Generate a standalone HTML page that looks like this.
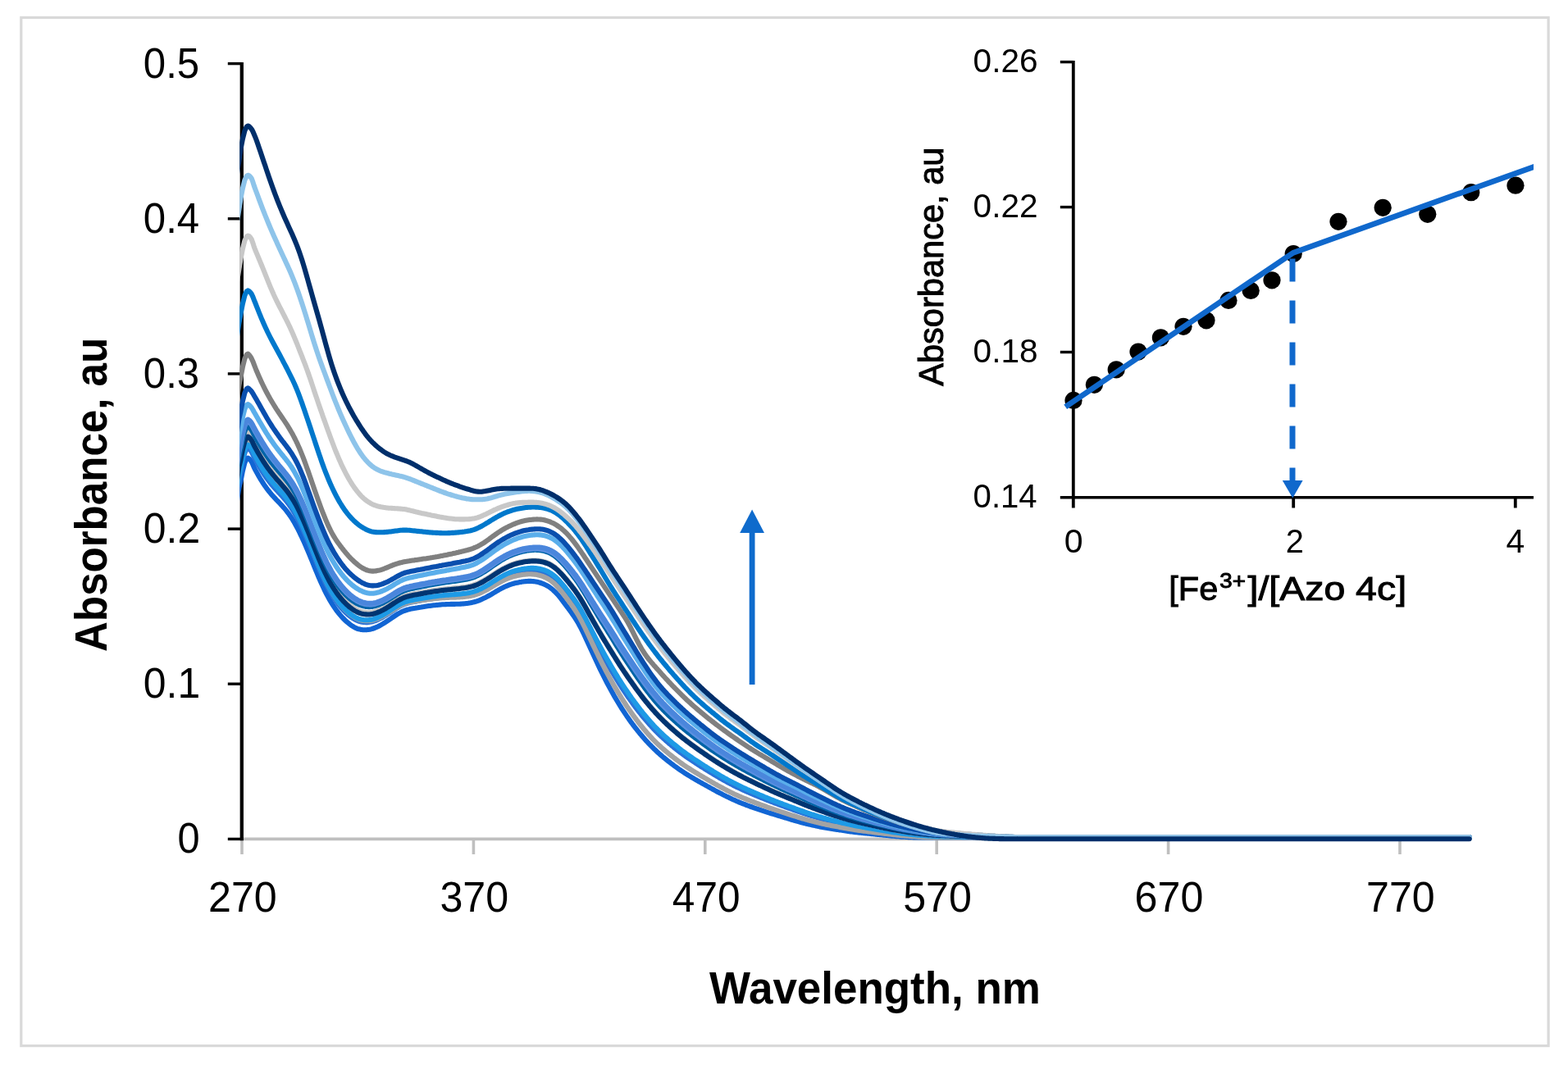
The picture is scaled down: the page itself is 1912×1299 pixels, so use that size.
<!DOCTYPE html>
<html lang="en">
<head>
<meta charset="utf-8">
<title>UV-Vis titration of Azo 4c with Fe3+</title>
<style>
html,body{margin:0;padding:0;background:#ffffff;}
body{width:1912px;height:1299px;overflow:hidden;}
svg{display:block;filter:blur(0.7px);}
</style>
</head>
<body>
<svg width="1912" height="1299" viewBox="0 0 1912 1299" role="img" aria-label="UV-Vis absorbance spectra with titration inset">
<rect x="0" y="0" width="1912" height="1299" fill="#ffffff"/>
<rect x="25.8" y="21.4" width="1862.3" height="1254.2" fill="none" stroke="#d9d9d9" stroke-width="3.2"/>
<g stroke="#bfbfbf" stroke-width="3.6" fill="none">
<line x1="294.8" y1="1023.4" x2="1791.7" y2="1023.4"/>
<line x1="295.0" y1="1023.4" x2="295.0" y2="1042"/>
<line x1="577.4" y1="1023.4" x2="577.4" y2="1042"/>
<line x1="859.8" y1="1023.4" x2="859.8" y2="1042"/>
<line x1="1142.2" y1="1023.4" x2="1142.2" y2="1042"/>
<line x1="1424.6" y1="1023.4" x2="1424.6" y2="1042"/>
<line x1="1707.0" y1="1023.4" x2="1707.0" y2="1042"/>
</g>
<g stroke="#000000" stroke-width="4.3" fill="none">
<line x1="294.8" y1="75.9" x2="294.8" y2="1025.2"/>
<line x1="277.8" y1="77.6" x2="294.8" y2="77.6" stroke-width="3.4"/>
<line x1="277.8" y1="266.8" x2="294.8" y2="266.8" stroke-width="3.4"/>
<line x1="277.8" y1="455.9" x2="294.8" y2="455.9" stroke-width="3.4"/>
<line x1="277.8" y1="645.1" x2="294.8" y2="645.1" stroke-width="3.4"/>
<line x1="277.8" y1="834.2" x2="294.8" y2="834.2" stroke-width="3.4"/>
<line x1="277.8" y1="1023.4" x2="294.8" y2="1023.4" stroke-width="3.4"/>
</g>
<clipPath id="plotclip"><rect x="292.2" y="60" width="1520" height="980"/></clipPath>
<g fill="none" stroke-width="6.1" stroke-linejoin="round" stroke-linecap="round" clip-path="url(#plotclip)">
<path d="M287.5 620.5 L291.5 594.5 L293.6 586.5 L295.9 574.5 L298.4 564.5 L300.6 559.7 L302.3 558.5 303.8 559.5 305.3 561.1 306.8 563.3 308.3 566.5 309.8 570.1 311.3 573.1 312.8 575.9 314.3 578.6 315.8 581.2 317.3 583.8 318.8 586.2 320.3 588.5 321.8 590.8 323.3 593.0 324.8 595.1 326.3 597.1 327.8 599.0 329.3 600.9 330.8 602.7 332.3 604.4 333.8 606.1 335.3 607.7 336.8 609.3 338.3 610.8 339.8 612.4 341.3 614.0 342.8 615.6 344.3 617.2 345.8 618.9 347.3 620.6 348.8 622.4 350.3 624.3 351.8 626.3 353.3 628.4 354.8 630.6 356.3 633.0 357.8 635.5 359.3 638.0 360.8 640.7 362.3 643.5 363.8 646.5 365.3 649.5 366.8 652.6 368.3 655.7 369.8 659.0 371.3 662.3 372.8 665.7 374.3 669.2 375.8 672.7 377.3 676.3 378.8 680.0 380.3 683.7 381.8 687.4 383.3 691.1 384.8 694.8 386.3 698.4 387.8 702.0 389.3 705.5 390.8 709.0 392.3 712.3 393.8 715.6 395.3 718.8 396.8 721.8 398.3 724.8 399.8 727.6 401.3 730.4 402.8 733.0 404.3 735.5 405.8 737.9 407.3 740.2 408.8 742.4 410.3 744.5 411.8 746.4 413.3 748.3 414.8 750.1 416.3 751.9 417.8 753.5 419.3 755.0 420.8 756.5 422.3 757.9 423.8 759.2 425.3 760.4 426.8 761.6 428.3 762.7 429.8 763.7 431.3 764.6 432.8 765.5 434.3 766.2 435.8 766.8 437.3 767.3 438.8 767.6 440.3 767.9 441.8 768.1 443.3 768.2 444.8 768.2 446.3 768.2 447.8 768.1 449.3 767.9 450.8 767.7 452.3 767.4 453.8 767.0 455.3 766.5 456.8 766.0 458.3 765.3 459.8 764.7 461.3 764.0 462.8 763.2 464.3 762.4 465.8 761.5 467.3 760.6 468.8 759.7 470.3 758.7 471.8 757.7 473.3 756.7 474.8 755.7 476.3 754.7 477.8 753.6 479.3 752.6 480.8 751.6 482.3 750.6 483.8 749.6 485.3 748.7 486.8 747.9 488.3 747.1 489.8 746.3 491.3 745.6 492.8 745.0 494.3 744.5 495.8 744.0 497.3 743.5 498.8 743.2 500.3 742.8 501.8 742.5 503.3 742.2 504.8 741.9 506.3 741.7 507.8 741.4 509.3 741.2 510.8 740.9 512.3 740.7 513.8 740.5 515.3 740.2 516.8 740.0 518.3 739.7 519.8 739.5 521.3 739.3 522.8 739.1 524.3 738.9 525.8 738.7 527.3 738.5 528.8 738.3 530.3 738.2 531.8 738.0 533.3 737.9 534.8 737.7 536.3 737.6 537.8 737.5 539.3 737.3 540.8 737.2 542.3 737.2 543.8 737.1 545.3 737.0 546.8 737.0 548.3 737.0 549.8 736.9 551.3 736.9 552.8 736.9 554.3 736.9 555.8 736.8 557.3 736.8 558.8 736.7 560.3 736.7 561.8 736.6 563.3 736.5 564.8 736.4 566.3 736.2 567.8 736.1 569.3 735.9 570.8 735.7 572.3 735.4 573.8 735.2 575.3 734.9 576.8 734.6 578.3 734.2 579.8 733.8 581.3 733.3 582.8 732.8 584.3 732.3 585.8 731.7 587.3 731.0 588.8 730.3 590.3 729.6 591.8 728.9 593.3 728.1 594.8 727.3 596.3 726.5 597.8 725.7 599.3 724.8 600.8 723.9 602.3 723.0 603.8 722.1 605.3 721.2 606.8 720.3 608.3 719.4 609.8 718.6 611.3 717.8 612.8 717.1 614.3 716.3 615.8 715.6 617.3 714.9 618.8 714.3 620.3 713.7 621.8 713.1 623.3 712.6 624.8 712.1 626.3 711.7 627.8 711.3 629.3 711.0 630.8 710.7 632.3 710.4 633.8 710.1 635.3 709.9 636.8 709.6 638.3 709.4 639.8 709.3 641.3 709.1 642.8 709.0 644.3 708.9 645.8 708.9 647.3 708.9 648.8 709.0 650.3 709.1 651.8 709.3 653.3 709.5 654.8 709.8 656.3 710.1 657.8 710.5 659.3 711.0 660.8 711.5 662.3 712.1 663.8 712.7 665.3 713.4 666.8 714.2 668.3 715.0 669.8 716.0 671.3 717.1 672.8 718.2 674.3 719.5 675.8 720.9 677.3 722.3 678.8 723.9 680.3 725.6 681.8 727.3 683.3 729.2 684.8 731.1 686.3 733.1 687.8 735.1 689.3 737.1 690.8 739.1 692.3 741.1 693.8 743.2 695.3 745.2 696.8 747.3 698.3 749.4 699.8 751.6 701.3 753.8 702.8 756.2 704.3 758.6 705.8 761.2 707.3 764.0 708.8 766.8 710.3 769.8 711.8 772.9 713.3 776.1 714.8 779.4 716.3 782.6 717.8 785.9 719.3 789.2 720.8 792.5 722.3 795.8 723.8 799.1 725.3 802.3 726.8 805.6 728.3 808.8 729.8 812.0 731.3 815.1 732.8 818.2 734.3 821.2 735.8 824.2 737.3 827.2 738.8 830.1 740.3 833.0 741.8 835.8 743.3 838.6 744.8 841.4 746.3 844.1 747.8 846.8 749.3 849.4 750.8 852.0 752.3 854.5 753.8 857.0 755.3 859.5 756.8 861.9 758.3 864.3 759.8 866.6 761.3 868.9 762.8 871.1 764.3 873.4 765.8 875.5 767.3 877.7 768.8 879.8 770.3 881.8 771.8 883.9 773.3 885.9 774.8 887.8 776.3 889.7 777.8 891.6 779.3 893.4 780.8 895.3 782.3 897.0 783.8 898.8 785.3 900.5 786.8 902.2 788.3 903.9 789.8 905.5 791.3 907.1 792.8 908.6 794.3 910.2 795.8 911.7 797.3 913.2 798.8 914.6 800.3 916.0 801.8 917.4 803.3 918.8 804.8 920.1 806.3 921.4 807.8 922.7 809.3 924.0 810.8 925.2 812.3 926.4 813.8 927.6 815.3 928.8 816.8 929.9 818.3 931.1 819.8 932.2 821.3 933.4 822.8 934.5 824.3 935.5 825.8 936.6 827.3 937.7 828.8 938.7 830.3 939.8 831.8 940.8 833.3 941.8 834.8 942.8 836.3 943.7 837.8 944.7 839.3 945.6 840.8 946.5 842.3 947.4 843.8 948.3 845.3 949.2 846.8 950.1 848.3 951.0 849.8 951.8 851.3 952.7 852.8 953.5 854.3 954.4 855.8 955.2 857.3 956.1 858.8 956.9 860.3 957.7 861.8 958.6 863.3 959.4 864.8 960.2 866.3 961.1 867.8 961.9 869.3 962.7 870.8 963.5 872.3 964.4 873.8 965.2 875.3 966.0 876.8 966.8 878.3 967.6 879.8 968.3 881.3 969.1 882.8 969.9 884.3 970.6 885.8 971.4 887.3 972.1 888.8 972.8 890.3 973.6 891.8 974.3 893.3 975.0 894.8 975.6 896.3 976.3 897.8 977.0 899.3 977.6 900.8 978.3 902.3 978.9 903.8 979.5 905.3 980.1 906.8 980.7 908.3 981.2 909.8 981.8 911.3 982.4 912.8 982.9 914.3 983.5 915.8 984.0 917.3 984.5 918.8 985.1 920.3 985.6 921.8 986.1 923.3 986.6 924.8 987.1 926.3 987.6 927.8 988.1 929.3 988.6 930.8 989.1 932.3 989.6 933.8 990.1 935.3 990.6 936.8 991.1 938.3 991.5 939.8 992.0 941.3 992.5 942.8 992.9 944.3 993.4 945.8 993.9 947.3 994.3 948.8 994.8 950.3 995.2 951.8 995.7 953.3 996.1 954.8 996.6 956.3 997.0 957.8 997.5 959.3 997.9 960.8 998.4 962.3 998.9 963.8 999.3 965.3 999.8 966.8 1000.2 968.3 1000.7 969.8 1001.1 971.3 1001.5 972.8 1001.9 974.3 1002.4 975.8 1002.8 977.3 1003.2 978.8 1003.6 980.3 1004.0 981.8 1004.3 983.3 1004.7 984.8 1005.1 986.3 1005.4 987.8 1005.8 989.3 1006.1 990.8 1006.5 992.3 1006.8 993.8 1007.1 995.3 1007.4 996.8 1007.8 998.3 1008.1 999.8 1008.4 1001.3 1008.7 1002.8 1008.9 1004.3 1009.2 1005.8 1009.5 1007.3 1009.8 1008.8 1010.0 1010.3 1010.3 1011.8 1010.5 1013.3 1010.8 1014.8 1011.0 1016.3 1011.2 1017.8 1011.5 1019.3 1011.7 1020.8 1011.9 1022.3 1012.1 1023.8 1012.4 1025.3 1012.6 1026.8 1012.8 1028.3 1013.1 1029.8 1013.3 1031.3 1013.5 1032.8 1013.7 1034.3 1014.0 1035.8 1014.2 1037.3 1014.4 1038.8 1014.6 1040.3 1014.8 1041.8 1015.0 1043.3 1015.1 1044.8 1015.3 1046.3 1015.5 1047.8 1015.6 1049.3 1015.8 1050.8 1015.9 1052.3 1016.1 1053.8 1016.2 1055.3 1016.4 1056.8 1016.5 1058.3 1016.7 1059.8 1016.8 1061.3 1017.0 1062.8 1017.1 1064.3 1017.3 1065.8 1017.4 1067.3 1017.6 1068.8 1017.7 1070.3 1017.9 1071.8 1018.0 1073.3 1018.2 1074.8 1018.3 1076.3 1018.5 1077.8 1018.6 1079.3 1018.8 1080.8 1018.9 1082.3 1019.1 1083.8 1019.3 1085.3 1019.4 1086.8 1019.6 1088.3 1019.7 1089.8 1019.8 1091.3 1020.0 1092.8 1020.1 1094.3 1020.2 1095.8 1020.3 1097.3 1020.5 1098.8 1020.6 1100.3 1020.7 1101.8 1020.8 1103.3 1020.8 1104.8 1020.9 1106.3 1021.0 1107.8 1021.1 1109.3 1021.2 1110.8 1021.3 1112.3 1021.3 1113.8 1021.4 1115.3 1021.4 1116.8 1021.4 1118.3 1021.4 1119.8 1021.4 1121.3 1021.4 1122.8 1021.4 1124.3 1021.4 1125.8 1021.4 1127.3 1021.4 1128.8 1021.4 1130.3 1021.4 1131.8 1021.4 1133.3 1021.4 1134.8 1021.4 1136.3 1021.4 1137.8 1021.4 1139.3 1021.4 1140.8 1021.4 1142.3 1021.4 1143.8 1021.4 1145.3 1021.4 1146.8 1021.4 1148.3 1021.4 1149.8 1021.4 1151.3 1021.4 1152.8 1021.4 1154.3 1021.4 1155.8 1021.4 1157.3 1021.4 1158.8 1021.4 1160.3 1021.4 1161.8 1021.4 1163.3 1021.4 1164.8 1021.4 1166.3 1021.4 1167.8 1021.4 1169.3 1021.4 1170.8 1021.4 1172.3 1021.4 1173.8 1021.4 1175.3 1021.4 1176.8 1021.4 1178.3 1021.4 1179.8 1021.4 1181.3 1021.4 1182.8 1021.4 1184.3 1021.4 1185.8 1021.4 1187.3 1021.4 1188.8 1021.4 1190.3 1021.4 1191.8 1021.4 1193.3 1021.4 1194.8 1021.4 1196.3 1021.4 1197.8 1021.4 1199.3 1021.4 1200.8 1021.4 1202.3 1021.4 1203.8 1021.4 1205.3 1021.4 1206.8 1021.4 1208.3 1021.4 1209.8 1021.4 1211.3 1021.4 1212.8 1021.4 1214.3 1021.4 1215.8 1021.4 1217.3 1021.4 1218.8 1021.4 1220.3 1021.4 1221.8 1021.4 1223.3 1021.4 1224.8 1021.4 1226.3 1021.4 1227.8 1021.4 1229.3 1021.4 1230.8 1021.4 1232.3 1021.4 1233.8 1021.4 1235.3 1021.4 1236.8 1021.4 1238.3 1021.4 1239.8 1021.4 1240.0 1021.4 1260.0 1021.4 1791.7 1021.4" stroke="#1165d4"/>
<path d="M287.5 608.7 L291.5 582.7 L293.6 574.6 L295.9 562.6 L298.4 552.6 L300.6 547.8 L302.3 546.6 303.8 547.6 305.3 549.1 306.8 551.2 308.3 554.3 309.8 557.7 311.3 560.6 312.8 563.3 314.3 566.0 315.8 568.7 317.3 571.2 318.8 573.6 320.3 576.0 321.8 578.3 323.3 580.5 324.8 582.7 326.3 584.7 327.8 586.7 329.3 588.6 330.8 590.5 332.3 592.3 333.8 594.0 335.3 595.7 336.8 597.3 338.3 599.0 339.8 600.6 341.3 602.2 342.8 603.8 344.3 605.5 345.8 607.2 347.3 608.9 348.8 610.7 350.3 612.6 351.8 614.6 353.3 616.7 354.8 618.9 356.3 621.2 357.8 623.7 359.3 626.2 360.8 628.9 362.3 631.7 363.8 634.6 365.3 637.7 366.8 640.8 368.3 644.0 369.8 647.3 371.3 650.7 372.8 654.2 374.3 657.7 375.8 661.4 377.3 665.0 378.8 668.8 380.3 672.5 381.8 676.2 383.3 680.0 384.8 683.7 386.3 687.4 387.8 691.0 389.3 694.6 390.8 698.1 392.3 701.5 393.8 704.8 395.3 708.0 396.8 711.1 398.3 714.1 399.8 717.0 401.3 719.8 402.8 722.4 404.3 725.0 405.8 727.4 407.3 729.7 408.8 731.9 410.3 734.0 411.8 736.1 413.3 738.0 414.8 739.8 416.3 741.6 417.8 743.2 419.3 744.8 420.8 746.3 422.3 747.8 423.8 749.1 425.3 750.4 426.8 751.6 428.3 752.7 429.8 753.8 431.3 754.7 432.8 755.6 434.3 756.4 435.8 757.0 437.3 757.6 438.8 758.1 440.3 758.4 441.8 758.7 443.3 758.9 444.8 759.0 446.3 759.1 447.8 759.1 449.3 759.0 450.8 758.8 452.3 758.6 453.8 758.2 455.3 757.8 456.8 757.4 458.3 756.8 459.8 756.2 461.3 755.5 462.8 754.8 464.3 754.1 465.8 753.3 467.3 752.4 468.8 751.5 470.3 750.6 471.8 749.7 473.3 748.7 474.8 747.7 476.3 746.7 477.8 745.6 479.3 744.6 480.8 743.6 482.3 742.6 483.8 741.7 485.3 740.8 486.8 739.9 488.3 739.1 489.8 738.4 491.3 737.7 492.8 737.1 494.3 736.5 495.8 736.0 497.3 735.6 498.8 735.2 500.3 734.8 501.8 734.5 503.3 734.2 504.8 733.9 506.3 733.7 507.8 733.4 509.3 733.1 510.8 732.9 512.3 732.6 513.8 732.3 515.3 732.1 516.8 731.8 518.3 731.6 519.8 731.3 521.3 731.1 522.8 730.8 524.3 730.6 525.8 730.4 527.3 730.2 528.8 730.0 530.3 729.8 531.8 729.6 533.3 729.4 534.8 729.2 536.3 729.0 537.8 728.9 539.3 728.7 540.8 728.6 542.3 728.4 543.8 728.3 545.3 728.2 546.8 728.1 548.3 728.0 549.8 727.9 551.3 727.8 552.8 727.8 554.3 727.7 555.8 727.6 557.3 727.5 558.8 727.4 560.3 727.3 561.8 727.1 563.3 727.0 564.8 726.8 566.3 726.6 567.8 726.4 569.3 726.2 570.8 725.9 572.3 725.7 573.8 725.4 575.3 725.0 576.8 724.6 578.3 724.2 579.8 723.7 581.3 723.2 582.8 722.6 584.3 722.0 585.8 721.3 587.3 720.6 588.8 719.8 590.3 719.0 591.8 718.2 593.3 717.4 594.8 716.5 596.3 715.6 597.8 714.7 599.3 713.8 600.8 712.8 602.3 711.9 603.8 710.9 605.3 710.0 606.8 709.1 608.3 708.2 609.8 707.3 611.3 706.5 612.8 705.6 614.3 704.9 615.8 704.1 617.3 703.4 618.8 702.7 620.3 702.1 621.8 701.5 623.3 700.9 624.8 700.4 626.3 699.9 627.8 699.4 629.3 699.0 630.8 698.6 632.3 698.3 633.8 698.0 635.3 697.7 636.8 697.4 638.3 697.1 639.8 696.9 641.3 696.7 642.8 696.6 644.3 696.4 645.8 696.3 647.3 696.3 648.8 696.3 650.3 696.3 651.8 696.4 653.3 696.5 654.8 696.7 656.3 696.9 657.8 697.2 659.3 697.5 660.8 697.9 662.3 698.4 663.8 698.9 665.3 699.5 666.8 700.1 668.3 700.9 669.8 701.7 671.3 702.6 672.8 703.6 674.3 704.7 675.8 705.9 677.3 707.3 678.8 708.7 680.3 710.2 681.8 711.8 683.3 713.5 684.8 715.2 686.3 717.0 687.8 718.9 689.3 720.7 690.8 722.6 692.3 724.5 693.8 726.5 695.3 728.4 696.8 730.4 698.3 732.4 699.8 734.5 701.3 736.6 702.8 738.8 704.3 741.1 705.8 743.6 707.3 746.1 708.8 748.7 710.3 751.5 711.8 754.3 713.3 757.2 714.8 760.2 716.3 763.1 717.8 766.1 719.3 769.1 720.8 772.1 722.3 775.1 723.8 778.0 725.3 781.0 726.8 783.9 728.3 786.8 729.8 789.7 731.3 792.5 732.8 795.3 734.3 798.1 735.8 800.9 737.3 803.6 738.8 806.2 740.3 808.9 741.8 811.5 743.3 814.1 744.8 816.7 746.3 819.3 747.8 821.8 749.3 824.3 750.8 826.8 752.3 829.3 753.8 831.7 755.3 834.1 756.8 836.5 758.3 838.8 759.8 841.1 761.3 843.4 762.8 845.6 764.3 847.8 765.8 850.0 767.3 852.1 768.8 854.2 770.3 856.3 771.8 858.4 773.3 860.4 774.8 862.5 776.3 864.4 777.8 866.4 779.3 868.3 780.8 870.2 782.3 872.1 783.8 874.0 785.3 875.8 786.8 877.6 788.3 879.3 789.8 881.0 791.3 882.7 792.8 884.4 794.3 886.1 795.8 887.7 797.3 889.3 798.8 890.8 800.3 892.4 801.8 893.9 803.3 895.3 804.8 896.8 806.3 898.2 807.8 899.6 809.3 901.0 810.8 902.3 812.3 903.7 813.8 905.0 815.3 906.3 816.8 907.5 818.3 908.8 819.8 910.0 821.3 911.3 822.8 912.5 824.3 913.7 825.8 914.8 827.3 916.0 828.8 917.2 830.3 918.3 831.8 919.4 833.3 920.5 834.8 921.6 836.3 922.7 837.8 923.7 839.3 924.8 840.8 925.8 842.3 926.8 843.8 927.8 845.3 928.8 846.8 929.8 848.3 930.8 849.8 931.7 851.3 932.7 852.8 933.7 854.3 934.6 855.8 935.6 857.3 936.5 858.8 937.4 860.3 938.4 861.8 939.3 863.3 940.2 864.8 941.2 866.3 942.1 867.8 943.0 869.3 943.9 870.8 944.8 872.3 945.7 873.8 946.6 875.3 947.5 876.8 948.4 878.3 949.3 879.8 950.1 881.3 951.0 882.8 951.8 884.3 952.6 885.8 953.4 887.3 954.3 888.8 955.1 890.3 955.9 891.8 956.6 893.3 957.4 894.8 958.2 896.3 958.9 897.8 959.7 899.3 960.4 900.8 961.1 902.3 961.8 903.8 962.5 905.3 963.2 906.8 963.9 908.3 964.6 909.8 965.2 911.3 965.9 912.8 966.5 914.3 967.2 915.8 967.8 917.3 968.5 918.8 969.1 920.3 969.7 921.8 970.4 923.3 971.0 924.8 971.6 926.3 972.2 927.8 972.8 929.3 973.4 930.8 974.0 932.3 974.6 933.8 975.2 935.3 975.8 936.8 976.4 938.3 977.0 939.8 977.6 941.3 978.2 942.8 978.7 944.3 979.3 945.8 979.9 947.3 980.4 948.8 981.0 950.3 981.5 951.8 982.1 953.3 982.6 954.8 983.2 956.3 983.7 957.8 984.3 959.3 984.8 960.8 985.3 962.3 985.9 963.8 986.4 965.3 986.9 966.8 987.5 968.3 988.0 969.8 988.5 971.3 989.1 972.8 989.6 974.3 990.1 975.8 990.6 977.3 991.1 978.8 991.7 980.3 992.2 981.8 992.6 983.3 993.1 984.8 993.6 986.3 994.1 987.8 994.6 989.3 995.0 990.8 995.5 992.3 995.9 993.8 996.4 995.3 996.8 996.8 997.3 998.3 997.7 999.8 998.1 1001.3 998.5 1002.8 999.0 1004.3 999.4 1005.8 999.8 1007.3 1000.2 1008.8 1000.6 1010.3 1001.0 1011.8 1001.3 1013.3 1001.7 1014.8 1002.1 1016.3 1002.5 1017.8 1002.8 1019.3 1003.2 1020.8 1003.5 1022.3 1003.9 1023.8 1004.2 1025.3 1004.6 1026.8 1004.9 1028.3 1005.3 1029.8 1005.6 1031.3 1005.9 1032.8 1006.3 1034.3 1006.6 1035.8 1006.9 1037.3 1007.2 1038.8 1007.5 1040.3 1007.8 1041.8 1008.1 1043.3 1008.4 1044.8 1008.7 1046.3 1008.9 1047.8 1009.2 1049.3 1009.5 1050.8 1009.7 1052.3 1010.0 1053.8 1010.2 1055.3 1010.5 1056.8 1010.7 1058.3 1011.0 1059.8 1011.2 1061.3 1011.4 1062.8 1011.7 1064.3 1011.9 1065.8 1012.2 1067.3 1012.4 1068.8 1012.7 1070.3 1012.9 1071.8 1013.1 1073.3 1013.4 1074.8 1013.6 1076.3 1013.8 1077.8 1014.1 1079.3 1014.3 1080.8 1014.6 1082.3 1014.8 1083.8 1015.0 1085.3 1015.2 1086.8 1015.5 1088.3 1015.7 1089.8 1015.9 1091.3 1016.1 1092.8 1016.3 1094.3 1016.5 1095.8 1016.7 1097.3 1016.9 1098.8 1017.1 1100.3 1017.3 1101.8 1017.4 1103.3 1017.6 1104.8 1017.7 1106.3 1017.9 1107.8 1018.0 1109.3 1018.2 1110.8 1018.3 1112.3 1018.5 1113.8 1018.6 1115.3 1018.8 1116.8 1018.9 1118.3 1019.0 1119.8 1019.2 1121.3 1019.3 1122.8 1019.4 1124.3 1019.5 1125.8 1019.6 1127.3 1019.7 1128.8 1019.8 1130.3 1019.9 1131.8 1020.0 1133.3 1020.1 1134.8 1020.1 1136.3 1020.2 1137.8 1020.3 1139.3 1020.4 1140.8 1020.4 1142.3 1020.5 1143.8 1020.5 1145.3 1020.5 1146.8 1020.6 1148.3 1020.6 1149.8 1020.6 1151.3 1020.6 1152.8 1020.7 1154.3 1020.7 1155.8 1020.7 1157.3 1020.7 1158.8 1020.7 1160.3 1020.7 1161.8 1020.7 1163.3 1020.7 1164.8 1020.8 1166.3 1020.8 1167.8 1020.8 1169.3 1020.8 1170.8 1020.8 1172.3 1020.8 1173.8 1020.8 1175.3 1020.8 1176.8 1020.8 1178.3 1020.9 1179.8 1020.9 1181.3 1020.9 1182.8 1020.9 1184.3 1020.9 1185.8 1020.9 1187.3 1020.9 1188.8 1020.9 1190.3 1020.9 1191.8 1020.9 1193.3 1020.9 1194.8 1020.9 1196.3 1020.9 1197.8 1020.9 1199.3 1020.9 1200.8 1020.9 1202.3 1021.0 1203.8 1021.0 1205.3 1021.0 1206.8 1021.0 1208.3 1021.0 1209.8 1021.1 1211.3 1021.1 1212.8 1021.1 1214.3 1021.1 1215.8 1021.1 1217.3 1021.2 1218.8 1021.2 1220.3 1021.2 1221.8 1021.2 1223.3 1021.2 1224.8 1021.2 1226.3 1021.2 1227.8 1021.3 1229.3 1021.3 1230.8 1021.3 1232.3 1021.3 1233.8 1021.3 1235.3 1021.3 1236.8 1021.3 1238.3 1021.3 1239.8 1021.3 1240.0 1021.3 1260.0 1021.4 1791.7 1021.4" stroke="#2a73d8"/>
<path d="M287.5 600.3 L291.5 574.3 L293.6 566.0 L295.9 554.0 L298.4 544.0 L300.6 539.2 L302.3 538.0 303.8 539.0 305.3 540.6 306.8 542.7 308.3 545.8 309.8 549.2 311.3 552.1 312.8 554.9 314.3 557.6 315.8 560.3 317.3 562.9 318.8 565.4 320.3 567.9 321.8 570.3 323.3 572.6 324.8 574.9 326.3 577.0 327.8 579.1 329.3 581.2 330.8 583.1 332.3 585.0 333.8 586.9 335.3 588.7 336.8 590.4 338.3 592.2 339.8 593.9 341.3 595.6 342.8 597.3 344.3 599.1 345.8 600.8 347.3 602.7 348.8 604.5 350.3 606.5 351.8 608.5 353.3 610.7 354.8 612.9 356.3 615.3 357.8 617.8 359.3 620.4 360.8 623.2 362.3 626.0 363.8 629.0 365.3 632.1 366.8 635.3 368.3 638.6 369.8 642.0 371.3 645.5 372.8 649.1 374.3 652.7 375.8 656.5 377.3 660.2 378.8 664.0 380.3 667.9 381.8 671.7 383.3 675.5 384.8 679.3 386.3 683.0 387.8 686.7 389.3 690.4 390.8 693.9 392.3 697.4 393.8 700.8 395.3 704.1 396.8 707.3 398.3 710.3 399.8 713.3 401.3 716.1 402.8 718.9 404.3 721.5 405.8 724.0 407.3 726.3 408.8 728.6 410.3 730.8 411.8 732.9 413.3 734.9 414.8 736.8 416.3 738.6 417.8 740.3 419.3 742.0 420.8 743.5 422.3 745.0 423.8 746.4 425.3 747.8 426.8 749.0 428.3 750.2 429.8 751.3 431.3 752.3 432.8 753.3 434.3 754.1 435.8 754.8 437.3 755.5 438.8 756.0 440.3 756.4 441.8 756.7 443.3 757.0 444.8 757.2 446.3 757.3 447.8 757.3 449.3 757.3 450.8 757.2 452.3 757.0 453.8 756.7 455.3 756.4 456.8 755.9 458.3 755.4 459.8 754.9 461.3 754.3 462.8 753.6 464.3 752.9 465.8 752.1 467.3 751.3 468.8 750.5 470.3 749.6 471.8 748.7 473.3 747.8 474.8 746.8 476.3 745.8 477.8 744.8 479.3 743.9 480.8 742.9 482.3 742.0 483.8 741.0 485.3 740.2 486.8 739.3 488.3 738.6 489.8 737.9 491.3 737.2 492.8 736.6 494.3 736.1 495.8 735.6 497.3 735.2 498.8 734.9 500.3 734.5 501.8 734.3 503.3 734.0 504.8 733.7 506.3 733.5 507.8 733.3 509.3 733.0 510.8 732.8 512.3 732.6 513.8 732.3 515.3 732.1 516.8 731.9 518.3 731.7 519.8 731.4 521.3 731.2 522.8 731.0 524.3 730.8 525.8 730.7 527.3 730.5 528.8 730.3 530.3 730.1 531.8 730.0 533.3 729.8 534.8 729.7 536.3 729.5 537.8 729.4 539.3 729.3 540.8 729.2 542.3 729.1 543.8 729.0 545.3 728.9 546.8 728.9 548.3 728.8 549.8 728.8 551.3 728.7 552.8 728.7 554.3 728.6 555.8 728.6 557.3 728.5 558.8 728.5 560.3 728.4 561.8 728.3 563.3 728.2 564.8 728.1 566.3 727.9 567.8 727.8 569.3 727.6 570.8 727.4 572.3 727.1 573.8 726.9 575.3 726.6 576.8 726.2 578.3 725.9 579.8 725.4 581.3 724.9 582.8 724.4 584.3 723.8 585.8 723.2 587.3 722.5 588.8 721.8 590.3 721.1 591.8 720.3 593.3 719.5 594.8 718.7 596.3 717.9 597.8 717.0 599.3 716.1 600.8 715.2 602.3 714.3 603.8 713.4 605.3 712.5 606.8 711.7 608.3 710.8 609.8 710.0 611.3 709.2 612.8 708.4 614.3 707.7 615.8 707.0 617.3 706.3 618.8 705.7 620.3 705.1 621.8 704.5 623.3 704.0 624.8 703.6 626.3 703.1 627.8 702.7 629.3 702.4 630.8 702.1 632.3 701.8 633.8 701.5 635.3 701.3 636.8 701.0 638.3 700.8 639.8 700.7 641.3 700.5 642.8 700.4 644.3 700.3 645.8 700.3 647.3 700.3 648.8 700.4 650.3 700.5 651.8 700.6 653.3 700.8 654.8 701.1 656.3 701.4 657.8 701.8 659.3 702.2 660.8 702.7 662.3 703.2 663.8 703.8 665.3 704.5 666.8 705.2 668.3 706.0 669.8 707.0 671.3 708.0 672.8 709.1 674.3 710.3 675.8 711.6 677.3 713.0 678.8 714.6 680.3 716.2 681.8 717.9 683.3 719.7 684.8 721.5 686.3 723.5 687.8 725.4 689.3 727.4 690.8 729.4 692.3 731.4 693.8 733.4 695.3 735.4 696.8 737.5 698.3 739.6 699.8 741.8 701.3 744.0 702.8 746.3 704.3 748.7 705.8 751.3 707.3 753.9 708.8 756.7 710.3 759.6 711.8 762.6 713.3 765.7 714.8 768.8 716.3 772.0 717.8 775.2 719.3 778.3 720.8 781.5 722.3 784.7 723.8 787.9 725.3 791.0 726.8 794.1 728.3 797.2 729.8 800.3 731.3 803.3 732.8 806.3 734.3 809.3 735.8 812.2 737.3 815.1 738.8 818.0 740.3 820.8 741.8 823.6 743.3 826.3 744.8 829.0 746.3 831.7 747.8 834.4 749.3 837.0 750.8 839.6 752.3 842.1 753.8 844.7 755.3 847.1 756.8 849.6 758.3 852.0 759.8 854.4 761.3 856.7 762.8 859.0 764.3 861.3 765.8 863.5 767.3 865.7 768.8 867.8 770.3 870.0 771.8 872.1 773.3 874.1 774.8 876.2 776.3 878.2 777.8 880.1 779.3 882.1 780.8 884.0 782.3 885.8 783.8 887.7 785.3 889.5 786.8 891.2 788.3 893.0 789.8 894.7 791.3 896.4 792.8 898.0 794.3 899.7 795.8 901.3 797.3 902.8 798.8 904.3 800.3 905.8 801.8 907.3 803.3 908.7 804.8 910.1 806.3 911.5 807.8 912.8 809.3 914.1 810.8 915.4 812.3 916.7 813.8 917.9 815.3 919.1 816.8 920.3 818.3 921.5 819.8 922.7 821.3 923.9 822.8 925.0 824.3 926.2 825.8 927.3 827.3 928.4 828.8 929.5 830.3 930.6 831.8 931.6 833.3 932.7 834.8 933.7 836.3 934.7 837.8 935.7 839.3 936.7 840.8 937.6 842.3 938.6 843.8 939.5 845.3 940.5 846.8 941.4 848.3 942.3 849.8 943.2 851.3 944.1 852.8 945.0 854.3 945.9 855.8 946.8 857.3 947.7 858.8 948.6 860.3 949.4 861.8 950.3 863.3 951.2 864.8 952.1 866.3 952.9 867.8 953.8 869.3 954.7 870.8 955.5 872.3 956.4 873.8 957.2 875.3 958.1 876.8 958.9 878.3 959.7 879.8 960.5 881.3 961.3 882.8 962.1 884.3 962.9 885.8 963.7 887.3 964.5 888.8 965.2 890.3 966.0 891.8 966.7 893.3 967.4 894.8 968.2 896.3 968.9 897.8 969.6 899.3 970.2 900.8 970.9 902.3 971.6 903.8 972.2 905.3 972.9 906.8 973.5 908.3 974.1 909.8 974.7 911.3 975.3 912.8 975.9 914.3 976.5 915.8 977.1 917.3 977.6 918.8 978.2 920.3 978.8 921.8 979.4 923.3 979.9 924.8 980.5 926.3 981.0 927.8 981.6 929.3 982.1 930.8 982.7 932.3 983.2 933.8 983.7 935.3 984.3 936.8 984.8 938.3 985.3 939.8 985.8 941.3 986.3 942.8 986.9 944.3 987.4 945.8 987.9 947.3 988.4 948.8 988.9 950.3 989.4 951.8 989.9 953.3 990.3 954.8 990.8 956.3 991.3 957.8 991.8 959.3 992.3 960.8 992.8 962.3 993.3 963.8 993.8 965.3 994.3 966.8 994.8 968.3 995.2 969.8 995.7 971.3 996.2 972.8 996.7 974.3 997.1 975.8 997.6 977.3 998.0 978.8 998.5 980.3 998.9 981.8 999.3 983.3 999.7 984.8 1000.2 986.3 1000.6 987.8 1001.0 989.3 1001.4 990.8 1001.8 992.3 1002.1 993.8 1002.5 995.3 1002.9 996.8 1003.3 998.3 1003.6 999.8 1004.0 1001.3 1004.3 1002.8 1004.7 1004.3 1005.0 1005.8 1005.3 1007.3 1005.7 1008.8 1006.0 1010.3 1006.3 1011.8 1006.6 1013.3 1006.9 1014.8 1007.2 1016.3 1007.5 1017.8 1007.8 1019.3 1008.0 1020.8 1008.3 1022.3 1008.6 1023.8 1008.9 1025.3 1009.2 1026.8 1009.4 1028.3 1009.7 1029.8 1010.0 1031.3 1010.3 1032.8 1010.5 1034.3 1010.8 1035.8 1011.1 1037.3 1011.3 1038.8 1011.6 1040.3 1011.8 1041.8 1012.0 1043.3 1012.3 1044.8 1012.5 1046.3 1012.7 1047.8 1012.9 1049.3 1013.1 1050.8 1013.3 1052.3 1013.5 1053.8 1013.7 1055.3 1013.8 1056.8 1014.0 1058.3 1014.2 1059.8 1014.4 1061.3 1014.6 1062.8 1014.8 1064.3 1015.0 1065.8 1015.2 1067.3 1015.4 1068.8 1015.6 1070.3 1015.7 1071.8 1015.9 1073.3 1016.1 1074.8 1016.3 1076.3 1016.5 1077.8 1016.7 1079.3 1016.9 1080.8 1017.1 1082.3 1017.3 1083.8 1017.4 1085.3 1017.6 1086.8 1017.8 1088.3 1018.0 1089.8 1018.1 1091.3 1018.3 1092.8 1018.5 1094.3 1018.6 1095.8 1018.8 1097.3 1018.9 1098.8 1019.1 1100.3 1019.2 1101.8 1019.3 1103.3 1019.4 1104.8 1019.6 1106.3 1019.7 1107.8 1019.8 1109.3 1019.9 1110.8 1020.0 1112.3 1020.1 1113.8 1020.2 1115.3 1020.3 1116.8 1020.4 1118.3 1020.5 1119.8 1020.6 1121.3 1020.7 1122.8 1020.8 1124.3 1020.9 1125.8 1020.9 1127.3 1021.0 1128.8 1021.1 1130.3 1021.1 1131.8 1021.2 1133.3 1021.2 1134.8 1021.3 1136.3 1021.3 1137.8 1021.3 1139.3 1021.4 1140.8 1021.4 1142.3 1021.4 1143.8 1021.4 1145.3 1021.4 1146.8 1021.4 1148.3 1021.4 1149.8 1021.4 1151.3 1021.4 1152.8 1021.4 1154.3 1021.4 1155.8 1021.4 1157.3 1021.4 1158.8 1021.4 1160.3 1021.4 1161.8 1021.4 1163.3 1021.4 1164.8 1021.4 1166.3 1021.4 1167.8 1021.4 1169.3 1021.4 1170.8 1021.4 1172.3 1021.4 1173.8 1021.3 1175.3 1021.3 1176.8 1021.3 1178.3 1021.3 1179.8 1021.3 1181.3 1021.3 1182.8 1021.3 1184.3 1021.3 1185.8 1021.3 1187.3 1021.3 1188.8 1021.3 1190.3 1021.3 1191.8 1021.3 1193.3 1021.2 1194.8 1021.2 1196.3 1021.2 1197.8 1021.2 1199.3 1021.2 1200.8 1021.2 1202.3 1021.2 1203.8 1021.2 1205.3 1021.2 1206.8 1021.2 1208.3 1021.2 1209.8 1021.3 1211.3 1021.3 1212.8 1021.3 1214.3 1021.3 1215.8 1021.3 1217.3 1021.3 1218.8 1021.3 1220.3 1021.3 1221.8 1021.3 1223.3 1021.3 1224.8 1021.3 1226.3 1021.3 1227.8 1021.3 1229.3 1021.3 1230.8 1021.3 1232.3 1021.4 1233.8 1021.4 1235.3 1021.4 1236.8 1021.4 1238.3 1021.4 1239.8 1021.4 1240.0 1021.4 1260.0 1021.4 1791.7 1021.4" stroke="#a3a3a3"/>
<path d="M287.5 604.7 L291.5 578.7 L293.6 570.5 L295.9 558.5 L298.4 548.5 L300.6 543.7 L302.3 542.5 303.8 543.5 305.3 545.0 306.8 547.1 308.3 550.1 309.8 553.5 311.3 556.3 312.8 559.1 314.3 561.8 315.8 564.4 317.3 566.9 318.8 569.4 320.3 571.8 321.8 574.0 323.3 576.3 324.8 578.5 326.3 580.6 327.8 582.6 329.3 584.5 330.8 586.4 332.3 588.2 333.8 590.0 335.3 591.7 336.8 593.4 338.3 595.0 339.8 596.7 341.3 598.3 342.8 600.0 344.3 601.6 345.8 603.3 347.3 605.1 348.8 606.9 350.3 608.8 351.8 610.8 353.3 612.9 354.8 615.1 356.3 617.4 357.8 619.8 359.3 622.4 360.8 625.1 362.3 627.9 363.8 630.8 365.3 633.8 366.8 637.0 368.3 640.2 369.8 643.5 371.3 647.0 372.8 650.5 374.3 654.1 375.8 657.7 377.3 661.4 378.8 665.2 380.3 668.9 381.8 672.7 383.3 676.5 384.8 680.2 386.3 683.9 387.8 687.5 389.3 691.1 390.8 694.6 392.3 698.0 393.8 701.4 395.3 704.6 396.8 707.7 398.3 710.7 399.8 713.6 401.3 716.4 402.8 719.1 404.3 721.6 405.8 724.1 407.3 726.4 408.8 728.7 410.3 730.8 411.8 732.8 413.3 734.8 414.8 736.6 416.3 738.4 417.8 740.1 419.3 741.7 420.8 743.2 422.3 744.6 423.8 746.0 425.3 747.3 426.8 748.5 428.3 749.6 429.8 750.7 431.3 751.7 432.8 752.6 434.3 753.4 435.8 754.1 437.3 754.7 438.8 755.1 440.3 755.5 441.8 755.8 443.3 756.1 444.8 756.2 446.3 756.3 447.8 756.3 449.3 756.3 450.8 756.1 452.3 755.9 453.8 755.6 455.3 755.2 456.8 754.8 458.3 754.2 459.8 753.6 461.3 753.0 462.8 752.3 464.3 751.6 465.8 750.8 467.3 750.0 468.8 749.1 470.3 748.2 471.8 747.2 473.3 746.3 474.8 745.3 476.3 744.3 477.8 743.3 479.3 742.3 480.8 741.3 482.3 740.3 483.8 739.4 485.3 738.5 486.8 737.6 488.3 736.8 489.8 736.0 491.3 735.4 492.8 734.7 494.3 734.2 495.8 733.7 497.3 733.3 498.8 732.9 500.3 732.5 501.8 732.2 503.3 731.9 504.8 731.6 506.3 731.3 507.8 731.1 509.3 730.8 510.8 730.5 512.3 730.3 513.8 730.0 515.3 729.7 516.8 729.5 518.3 729.2 519.8 728.9 521.3 728.7 522.8 728.5 524.3 728.2 525.8 728.0 527.3 727.8 528.8 727.6 530.3 727.4 531.8 727.1 533.3 727.0 534.8 726.8 536.3 726.6 537.8 726.4 539.3 726.2 540.8 726.1 542.3 726.0 543.8 725.8 545.3 725.7 546.8 725.6 548.3 725.5 549.8 725.4 551.3 725.3 552.8 725.2 554.3 725.1 555.8 725.0 557.3 724.9 558.8 724.8 560.3 724.6 561.8 724.5 563.3 724.3 564.8 724.1 566.3 723.9 567.8 723.7 569.3 723.5 570.8 723.2 572.3 723.0 573.8 722.6 575.3 722.3 576.8 721.9 578.3 721.4 579.8 720.9 581.3 720.4 582.8 719.8 584.3 719.1 585.8 718.4 587.3 717.7 588.8 716.9 590.3 716.1 591.8 715.3 593.3 714.4 594.8 713.6 596.3 712.7 597.8 711.7 599.3 710.8 600.8 709.8 602.3 708.8 603.8 707.9 605.3 706.9 606.8 706.0 608.3 705.1 609.8 704.2 611.3 703.4 612.8 702.6 614.3 701.8 615.8 701.0 617.3 700.3 618.8 699.6 620.3 698.9 621.8 698.3 623.3 697.7 624.8 697.2 626.3 696.7 627.8 696.2 629.3 695.8 630.8 695.4 632.3 695.1 633.8 694.7 635.3 694.4 636.8 694.1 638.3 693.9 639.8 693.6 641.3 693.4 642.8 693.2 644.3 693.1 645.8 693.0 647.3 692.9 648.8 692.9 650.3 692.9 651.8 693.0 653.3 693.1 654.8 693.3 656.3 693.5 657.8 693.8 659.3 694.1 660.8 694.5 662.3 694.9 663.8 695.4 665.3 695.9 666.8 696.6 668.3 697.3 669.8 698.1 671.3 699.0 672.8 700.0 674.3 701.1 675.8 702.3 677.3 703.6 678.8 705.0 680.3 706.4 681.8 708.0 683.3 709.7 684.8 711.4 686.3 713.2 687.8 715.0 689.3 716.9 690.8 718.8 692.3 720.7 693.8 722.6 695.3 724.5 696.8 726.5 698.3 728.5 699.8 730.5 701.3 732.7 702.8 734.9 704.3 737.2 705.8 739.6 707.3 742.1 708.8 744.7 710.3 747.4 711.8 750.2 713.3 753.0 714.8 755.9 716.3 758.9 717.8 761.8 719.3 764.7 720.8 767.6 722.3 770.6 723.8 773.5 725.3 776.4 726.8 779.3 728.3 782.1 729.8 785.0 731.3 787.8 732.8 790.5 734.3 793.3 735.8 796.0 737.3 798.7 738.8 801.3 740.3 803.9 741.8 806.5 743.3 809.1 744.8 811.7 746.3 814.2 747.8 816.8 749.3 819.3 750.8 821.8 752.3 824.2 753.8 826.7 755.3 829.1 756.8 831.4 758.3 833.8 759.8 836.1 761.3 838.4 762.8 840.6 764.3 842.8 765.8 845.0 767.3 847.2 768.8 849.3 770.3 851.5 771.8 853.5 773.3 855.6 774.8 857.7 776.3 859.7 777.8 861.7 779.3 863.6 780.8 865.6 782.3 867.5 783.8 869.4 785.3 871.2 786.8 873.0 788.3 874.8 789.8 876.6 791.3 878.3 792.8 880.0 794.3 881.7 795.8 883.3 797.3 885.0 798.8 886.6 800.3 888.1 801.8 889.7 803.3 891.2 804.8 892.6 806.3 894.1 807.8 895.5 809.3 896.9 810.8 898.3 812.3 899.6 813.8 900.9 815.3 902.2 816.8 903.5 818.3 904.8 819.8 906.1 821.3 907.3 822.8 908.5 824.3 909.7 825.8 910.9 827.3 912.1 828.8 913.3 830.3 914.5 831.8 915.6 833.3 916.7 834.8 917.8 836.3 918.9 837.8 920.0 839.3 921.0 840.8 922.1 842.3 923.1 843.8 924.1 845.3 925.2 846.8 926.2 848.3 927.2 849.8 928.1 851.3 929.1 852.8 930.1 854.3 931.1 855.8 932.0 857.3 933.0 858.8 934.0 860.3 934.9 861.8 935.9 863.3 936.8 864.8 937.8 866.3 938.7 867.8 939.6 869.3 940.6 870.8 941.5 872.3 942.4 873.8 943.3 875.3 944.2 876.8 945.1 878.3 946.0 879.8 946.9 881.3 947.7 882.8 948.6 884.3 949.4 885.8 950.2 887.3 951.1 888.8 951.9 890.3 952.7 891.8 953.5 893.3 954.3 894.8 955.1 896.3 955.8 897.8 956.6 899.3 957.3 900.8 958.1 902.3 958.8 903.8 959.5 905.3 960.2 906.8 960.9 908.3 961.6 909.8 962.3 911.3 963.0 912.8 963.6 914.3 964.3 915.8 964.9 917.3 965.6 918.8 966.3 920.3 966.9 921.8 967.5 923.3 968.2 924.8 968.8 926.3 969.5 927.8 970.1 929.3 970.7 930.8 971.3 932.3 972.0 933.8 972.6 935.3 973.2 936.8 973.8 938.3 974.4 939.8 975.0 941.3 975.6 942.8 976.2 944.3 976.8 945.8 977.4 947.3 977.9 948.8 978.5 950.3 979.1 951.8 979.7 953.3 980.2 954.8 980.8 956.3 981.3 957.8 981.9 959.3 982.4 960.8 983.0 962.3 983.6 963.8 984.1 965.3 984.7 966.8 985.2 968.3 985.7 969.8 986.3 971.3 986.8 972.8 987.4 974.3 987.9 975.8 988.5 977.3 989.0 978.8 989.5 980.3 990.0 981.8 990.6 983.3 991.1 984.8 991.6 986.3 992.1 987.8 992.6 989.3 993.1 990.8 993.5 992.3 994.0 993.8 994.5 995.3 994.9 996.8 995.4 998.3 995.9 999.8 996.3 1001.3 996.7 1002.8 997.2 1004.3 997.6 1005.8 998.0 1007.3 998.5 1008.8 998.9 1010.3 999.3 1011.8 999.7 1013.3 1000.1 1014.8 1000.5 1016.3 1000.9 1017.8 1001.3 1019.3 1001.7 1020.8 1002.0 1022.3 1002.4 1023.8 1002.8 1025.3 1003.2 1026.8 1003.5 1028.3 1003.9 1029.8 1004.2 1031.3 1004.6 1032.8 1004.9 1034.3 1005.3 1035.8 1005.6 1037.3 1005.9 1038.8 1006.3 1040.3 1006.6 1041.8 1006.9 1043.3 1007.2 1044.8 1007.5 1046.3 1007.8 1047.8 1008.1 1049.3 1008.3 1050.8 1008.6 1052.3 1008.9 1053.8 1009.1 1055.3 1009.4 1056.8 1009.7 1058.3 1009.9 1059.8 1010.2 1061.3 1010.5 1062.8 1010.7 1064.3 1011.0 1065.8 1011.2 1067.3 1011.5 1068.8 1011.8 1070.3 1012.0 1071.8 1012.3 1073.3 1012.5 1074.8 1012.8 1076.3 1013.0 1077.8 1013.3 1079.3 1013.5 1080.8 1013.8 1082.3 1014.0 1083.8 1014.3 1085.3 1014.5 1086.8 1014.7 1088.3 1015.0 1089.8 1015.2 1091.3 1015.4 1092.8 1015.6 1094.3 1015.8 1095.8 1016.1 1097.3 1016.3 1098.8 1016.5 1100.3 1016.6 1101.8 1016.8 1103.3 1017.0 1104.8 1017.2 1106.3 1017.3 1107.8 1017.5 1109.3 1017.6 1110.8 1017.8 1112.3 1018.0 1113.8 1018.1 1115.3 1018.3 1116.8 1018.4 1118.3 1018.6 1119.8 1018.7 1121.3 1018.8 1122.8 1019.0 1124.3 1019.1 1125.8 1019.2 1127.3 1019.3 1128.8 1019.4 1130.3 1019.5 1131.8 1019.6 1133.3 1019.7 1134.8 1019.8 1136.3 1019.9 1137.8 1020.0 1139.3 1020.0 1140.8 1020.1 1142.3 1020.2 1143.8 1020.2 1145.3 1020.3 1146.8 1020.3 1148.3 1020.3 1149.8 1020.4 1151.3 1020.4 1152.8 1020.4 1154.3 1020.4 1155.8 1020.5 1157.3 1020.5 1158.8 1020.5 1160.3 1020.5 1161.8 1020.5 1163.3 1020.5 1164.8 1020.6 1166.3 1020.6 1167.8 1020.6 1169.3 1020.6 1170.8 1020.6 1172.3 1020.6 1173.8 1020.7 1175.3 1020.7 1176.8 1020.7 1178.3 1020.7 1179.8 1020.7 1181.3 1020.7 1182.8 1020.7 1184.3 1020.8 1185.8 1020.8 1187.3 1020.8 1188.8 1020.8 1190.3 1020.8 1191.8 1020.8 1193.3 1020.8 1194.8 1020.8 1196.3 1020.8 1197.8 1020.8 1199.3 1020.8 1200.8 1020.9 1202.3 1020.9 1203.8 1020.9 1205.3 1020.9 1206.8 1021.0 1208.3 1021.0 1209.8 1021.0 1211.3 1021.0 1212.8 1021.0 1214.3 1021.1 1215.8 1021.1 1217.3 1021.1 1218.8 1021.1 1220.3 1021.1 1221.8 1021.2 1223.3 1021.2 1224.8 1021.2 1226.3 1021.2 1227.8 1021.2 1229.3 1021.2 1230.8 1021.3 1232.3 1021.3 1233.8 1021.3 1235.3 1021.3 1236.8 1021.3 1238.3 1021.3 1239.8 1021.3 1240.0 1021.3 1260.0 1021.4 1791.7 1021.4" stroke="#1e9ae6"/>
<path d="M287.5 589.4 L291.5 563.4 L293.6 555.0 L295.9 543.0 L298.4 533.0 L300.6 528.2 L302.3 527.0 303.8 528.0 305.3 529.5 306.8 531.5 308.3 534.4 309.8 537.6 311.3 540.4 312.8 543.1 314.3 545.8 315.8 548.4 317.3 551.0 318.8 553.5 320.3 556.0 321.8 558.3 323.3 560.7 324.8 563.0 326.3 565.2 327.8 567.3 329.3 569.3 330.8 571.3 332.3 573.3 333.8 575.1 335.3 577.0 336.8 578.8 338.3 580.5 339.8 582.3 341.3 584.0 342.8 585.8 344.3 587.5 345.8 589.3 347.3 591.1 348.8 592.9 350.3 594.9 351.8 596.9 353.3 599.0 354.8 601.2 356.3 603.5 357.8 605.9 359.3 608.5 360.8 611.2 362.3 614.0 363.8 617.0 365.3 620.1 366.8 623.3 368.3 626.6 369.8 630.1 371.3 633.6 372.8 637.2 374.3 640.9 375.8 644.7 377.3 648.5 378.8 652.4 380.3 656.2 381.8 660.1 383.3 663.9 384.8 667.7 386.3 671.5 387.8 675.2 389.3 678.9 390.8 682.4 392.3 685.9 393.8 689.4 395.3 692.7 396.8 695.9 398.3 699.0 399.8 701.9 401.3 704.8 402.8 707.5 404.3 710.2 405.8 712.7 407.3 715.1 408.8 717.4 410.3 719.6 411.8 721.6 413.3 723.7 414.8 725.6 416.3 727.4 417.8 729.2 419.3 730.8 420.8 732.4 422.3 733.9 423.8 735.4 425.3 736.7 426.8 738.0 428.3 739.2 429.8 740.3 431.3 741.4 432.8 742.3 434.3 743.2 435.8 744.0 437.3 744.7 438.8 745.3 440.3 745.8 441.8 746.2 443.3 746.6 444.8 746.8 446.3 747.0 447.8 747.2 449.3 747.2 450.8 747.2 452.3 747.0 453.8 746.8 455.3 746.5 456.8 746.2 458.3 745.7 459.8 745.2 461.3 744.7 462.8 744.0 464.3 743.4 465.8 742.6 467.3 741.9 468.8 741.1 470.3 740.2 471.8 739.4 473.3 738.4 474.8 737.5 476.3 736.5 477.8 735.6 479.3 734.6 480.8 733.6 482.3 732.7 483.8 731.8 485.3 730.9 486.8 730.1 488.3 729.3 489.8 728.5 491.3 727.9 492.8 727.3 494.3 726.7 495.8 726.2 497.3 725.8 498.8 725.4 500.3 725.1 501.8 724.8 503.3 724.5 504.8 724.2 506.3 723.9 507.8 723.7 509.3 723.4 510.8 723.1 512.3 722.9 513.8 722.6 515.3 722.3 516.8 722.1 518.3 721.8 519.8 721.5 521.3 721.3 522.8 721.0 524.3 720.8 525.8 720.6 527.3 720.3 528.8 720.1 530.3 719.9 531.8 719.7 533.3 719.5 534.8 719.3 536.3 719.1 537.8 718.9 539.3 718.7 540.8 718.5 542.3 718.4 543.8 718.2 545.3 718.1 546.8 717.9 548.3 717.8 549.8 717.7 551.3 717.5 552.8 717.4 554.3 717.3 555.8 717.1 557.3 717.0 558.8 716.8 560.3 716.7 561.8 716.5 563.3 716.3 564.8 716.1 566.3 715.9 567.8 715.7 569.3 715.4 570.8 715.2 572.3 714.8 573.8 714.5 575.3 714.1 576.8 713.7 578.3 713.2 579.8 712.7 581.3 712.1 582.8 711.5 584.3 710.8 585.8 710.0 587.3 709.3 588.8 708.4 590.3 707.6 591.8 706.7 593.3 705.8 594.8 704.9 596.3 704.0 597.8 703.0 599.3 702.0 600.8 701.0 602.3 700.0 603.8 699.1 605.3 698.1 606.8 697.2 608.3 696.2 609.8 695.4 611.3 694.5 612.8 693.7 614.3 692.9 615.8 692.1 617.3 691.4 618.8 690.6 620.3 690.0 621.8 689.3 623.3 688.7 624.8 688.2 626.3 687.7 627.8 687.2 629.3 686.7 630.8 686.3 632.3 685.9 633.8 685.6 635.3 685.3 636.8 684.9 638.3 684.7 639.8 684.4 641.3 684.2 642.8 684.0 644.3 683.8 645.8 683.7 647.3 683.6 648.8 683.5 650.3 683.5 651.8 683.5 653.3 683.6 654.8 683.6 656.3 683.8 657.8 683.9 659.3 684.1 660.8 684.4 662.3 684.7 663.8 685.1 665.3 685.6 666.8 686.1 668.3 686.8 669.8 687.5 671.3 688.2 672.8 689.1 674.3 690.1 675.8 691.2 677.3 692.3 678.8 693.6 680.3 694.9 681.8 696.4 683.3 697.9 684.8 699.5 686.3 701.2 687.8 702.9 689.3 704.6 690.8 706.4 692.3 708.2 693.8 710.0 695.3 711.8 696.8 713.7 698.3 715.7 699.8 717.6 701.3 719.7 702.8 721.7 704.3 723.9 705.8 726.2 707.3 728.5 708.8 731.0 710.3 733.5 711.8 736.0 713.3 738.7 714.8 741.3 716.3 744.0 717.8 746.7 719.3 749.4 720.8 752.1 722.3 754.7 723.8 757.4 725.3 760.0 726.8 762.7 728.3 765.3 729.8 767.9 731.3 770.5 732.8 773.0 734.3 775.5 735.8 778.0 737.3 780.5 738.8 782.9 740.3 785.4 741.8 787.8 743.3 790.3 744.8 792.7 746.3 795.1 747.8 797.5 749.3 800.0 750.8 802.4 752.3 804.7 753.8 807.1 755.3 809.5 756.8 811.8 758.3 814.1 759.8 816.3 761.3 818.6 762.8 820.8 764.3 823.0 765.8 825.2 767.3 827.3 768.8 829.5 770.3 831.6 771.8 833.7 773.3 835.8 774.8 837.9 776.3 840.0 777.8 842.0 779.3 844.0 780.8 846.0 782.3 848.0 783.8 849.9 785.3 851.9 786.8 853.7 788.3 855.6 789.8 857.4 791.3 859.3 792.8 861.0 794.3 862.8 795.8 864.5 797.3 866.2 798.8 867.9 800.3 869.5 801.8 871.2 803.3 872.8 804.8 874.3 806.3 875.9 807.8 877.4 809.3 878.8 810.8 880.3 812.3 881.7 813.8 883.1 815.3 884.5 816.8 885.9 818.3 887.3 819.8 888.6 821.3 889.9 822.8 891.3 824.3 892.6 825.8 893.8 827.3 895.1 828.8 896.3 830.3 897.6 831.8 898.8 833.3 900.0 834.8 901.2 836.3 902.4 837.8 903.5 839.3 904.7 840.8 905.8 842.3 906.9 843.8 908.0 845.3 909.1 846.8 910.2 848.3 911.3 849.8 912.4 851.3 913.4 852.8 914.5 854.3 915.5 855.8 916.6 857.3 917.6 858.8 918.7 860.3 919.7 861.8 920.8 863.3 921.8 864.8 922.8 866.3 923.8 867.8 924.8 869.3 925.8 870.8 926.8 872.3 927.8 873.8 928.8 875.3 929.7 876.8 930.7 878.3 931.6 879.8 932.5 881.3 933.4 882.8 934.4 884.3 935.3 885.8 936.1 887.3 937.0 888.8 937.9 890.3 938.8 891.8 939.6 893.3 940.5 894.8 941.3 896.3 942.2 897.8 943.0 899.3 943.8 900.8 944.6 902.3 945.4 903.8 946.2 905.3 947.0 906.8 947.8 908.3 948.5 909.8 949.3 911.3 950.0 912.8 950.8 914.3 951.5 915.8 952.2 917.3 953.0 918.8 953.7 920.3 954.4 921.8 955.2 923.3 955.9 924.8 956.6 926.3 957.3 927.8 958.1 929.3 958.8 930.8 959.5 932.3 960.2 933.8 960.9 935.3 961.6 936.8 962.3 938.3 963.0 939.8 963.7 941.3 964.3 942.8 965.0 944.3 965.7 945.8 966.4 947.3 967.0 948.8 967.7 950.3 968.3 951.8 969.0 953.3 969.6 954.8 970.2 956.3 970.9 957.8 971.5 959.3 972.1 960.8 972.7 962.3 973.3 963.8 974.0 965.3 974.6 966.8 975.2 968.3 975.8 969.8 976.4 971.3 977.1 972.8 977.7 974.3 978.3 975.8 978.9 977.3 979.5 978.8 980.2 980.3 980.8 981.8 981.4 983.3 982.0 984.8 982.6 986.3 983.2 987.8 983.8 989.3 984.3 990.8 984.9 992.3 985.5 993.8 986.0 995.3 986.6 996.8 987.2 998.3 987.7 999.8 988.3 1001.3 988.8 1002.8 989.3 1004.3 989.9 1005.8 990.4 1007.3 990.9 1008.8 991.4 1010.3 992.0 1011.8 992.5 1013.3 993.0 1014.8 993.5 1016.3 994.0 1017.8 994.5 1019.3 995.0 1020.8 995.4 1022.3 995.9 1023.8 996.4 1025.3 996.8 1026.8 997.3 1028.3 997.8 1029.8 998.2 1031.3 998.6 1032.8 999.1 1034.3 999.5 1035.8 999.9 1037.3 1000.3 1038.8 1000.7 1040.3 1001.1 1041.8 1001.5 1043.3 1001.9 1044.8 1002.3 1046.3 1002.6 1047.8 1003.0 1049.3 1003.4 1050.8 1003.7 1052.3 1004.1 1053.8 1004.4 1055.3 1004.8 1056.8 1005.1 1058.3 1005.4 1059.8 1005.8 1061.3 1006.1 1062.8 1006.4 1064.3 1006.8 1065.8 1007.1 1067.3 1007.4 1068.8 1007.8 1070.3 1008.1 1071.8 1008.4 1073.3 1008.7 1074.8 1009.1 1076.3 1009.4 1077.8 1009.7 1079.3 1010.0 1080.8 1010.3 1082.3 1010.6 1083.8 1010.9 1085.3 1011.2 1086.8 1011.5 1088.3 1011.8 1089.8 1012.1 1091.3 1012.4 1092.8 1012.7 1094.3 1012.9 1095.8 1013.2 1097.3 1013.5 1098.8 1013.7 1100.3 1014.0 1101.8 1014.2 1103.3 1014.4 1104.8 1014.6 1106.3 1014.9 1107.8 1015.1 1109.3 1015.3 1110.8 1015.5 1112.3 1015.7 1113.8 1015.9 1115.3 1016.1 1116.8 1016.3 1118.3 1016.5 1119.8 1016.7 1121.3 1016.9 1122.8 1017.1 1124.3 1017.2 1125.8 1017.4 1127.3 1017.6 1128.8 1017.7 1130.3 1017.9 1131.8 1018.0 1133.3 1018.1 1134.8 1018.3 1136.3 1018.4 1137.8 1018.5 1139.3 1018.6 1140.8 1018.8 1142.3 1018.9 1143.8 1018.9 1145.3 1019.0 1146.8 1019.1 1148.3 1019.2 1149.8 1019.2 1151.3 1019.3 1152.8 1019.3 1154.3 1019.4 1155.8 1019.4 1157.3 1019.5 1158.8 1019.5 1160.3 1019.6 1161.8 1019.6 1163.3 1019.7 1164.8 1019.7 1166.3 1019.7 1167.8 1019.8 1169.3 1019.8 1170.8 1019.9 1172.3 1019.9 1173.8 1019.9 1175.3 1020.0 1176.8 1020.0 1178.3 1020.0 1179.8 1020.1 1181.3 1020.1 1182.8 1020.2 1184.3 1020.2 1185.8 1020.2 1187.3 1020.2 1188.8 1020.3 1190.3 1020.3 1191.8 1020.3 1193.3 1020.4 1194.8 1020.4 1196.3 1020.4 1197.8 1020.4 1199.3 1020.5 1200.8 1020.5 1202.3 1020.5 1203.8 1020.6 1205.3 1020.6 1206.8 1020.7 1208.3 1020.7 1209.8 1020.7 1211.3 1020.8 1212.8 1020.8 1214.3 1020.8 1215.8 1020.9 1217.3 1020.9 1218.8 1020.9 1220.3 1021.0 1221.8 1021.0 1223.3 1021.0 1224.8 1021.1 1226.3 1021.1 1227.8 1021.1 1229.3 1021.1 1230.8 1021.2 1232.3 1021.2 1233.8 1021.2 1235.3 1021.2 1236.8 1021.2 1238.3 1021.3 1239.8 1021.3 1240.0 1021.3 1260.0 1021.4 1791.7 1021.4" stroke="#c4c4c4"/>
<path d="M287.5 594.9 L291.5 568.9 L293.6 560.5 L295.9 548.5 L298.4 538.5 L300.6 533.7 L302.3 532.5 303.8 533.5 305.3 535.0 306.8 537.0 308.3 539.9 309.8 543.2 311.3 546.0 312.8 548.7 314.3 551.4 315.8 554.0 317.3 556.5 318.8 559.0 320.3 561.4 321.8 563.8 323.3 566.0 324.8 568.3 326.3 570.4 327.8 572.5 329.3 574.5 330.8 576.4 332.3 578.3 333.8 580.1 335.3 581.9 336.8 583.7 338.3 585.4 339.8 587.1 341.3 588.8 342.8 590.5 344.3 592.2 345.8 593.9 347.3 595.7 348.8 597.5 350.3 599.4 351.8 601.4 353.3 603.5 354.8 605.7 356.3 608.0 357.8 610.4 359.3 612.9 360.8 615.6 362.3 618.4 363.8 621.4 365.3 624.4 366.8 627.6 368.3 630.9 369.8 634.3 371.3 637.8 372.8 641.3 374.3 645.0 375.8 648.7 377.3 652.5 378.8 656.3 380.3 660.1 381.8 663.9 383.3 667.7 384.8 671.5 386.3 675.2 387.8 678.9 389.3 682.5 390.8 686.1 392.3 689.5 393.8 692.9 395.3 696.2 396.8 699.4 398.3 702.4 399.8 705.4 401.3 708.2 402.8 710.9 404.3 713.5 405.8 716.0 407.3 718.3 408.8 720.6 410.3 722.8 411.8 724.8 413.3 726.8 414.8 728.7 416.3 730.5 417.8 732.2 419.3 733.9 420.8 735.4 422.3 736.9 423.8 738.3 425.3 739.6 426.8 740.9 428.3 742.0 429.8 743.1 431.3 744.2 432.8 745.1 434.3 745.9 435.8 746.7 437.3 747.3 438.8 747.9 440.3 748.4 441.8 748.8 443.3 749.1 444.8 749.3 446.3 749.4 447.8 749.5 449.3 749.5 450.8 749.5 452.3 749.3 453.8 749.1 455.3 748.7 456.8 748.3 458.3 747.9 459.8 747.3 461.3 746.7 462.8 746.1 464.3 745.4 465.8 744.6 467.3 743.9 468.8 743.0 470.3 742.2 471.8 741.2 473.3 740.3 474.8 739.4 476.3 738.4 477.8 737.4 479.3 736.4 480.8 735.4 482.3 734.5 483.8 733.5 485.3 732.6 486.8 731.8 488.3 731.0 489.8 730.2 491.3 729.5 492.8 728.9 494.3 728.4 495.8 727.9 497.3 727.5 498.8 727.1 500.3 726.7 501.8 726.4 503.3 726.1 504.8 725.8 506.3 725.5 507.8 725.2 509.3 725.0 510.8 724.7 512.3 724.4 513.8 724.1 515.3 723.9 516.8 723.6 518.3 723.3 519.8 723.0 521.3 722.8 522.8 722.5 524.3 722.3 525.8 722.0 527.3 721.8 528.8 721.6 530.3 721.3 531.8 721.1 533.3 720.9 534.8 720.7 536.3 720.5 537.8 720.3 539.3 720.1 540.8 719.9 542.3 719.8 543.8 719.6 545.3 719.5 546.8 719.3 548.3 719.2 549.8 719.0 551.3 718.9 552.8 718.8 554.3 718.6 555.8 718.5 557.3 718.3 558.8 718.2 560.3 718.0 561.8 717.8 563.3 717.6 564.8 717.4 566.3 717.2 567.8 717.0 569.3 716.7 570.8 716.4 572.3 716.1 573.8 715.8 575.3 715.4 576.8 715.0 578.3 714.5 579.8 714.0 581.3 713.4 582.8 712.7 584.3 712.0 585.8 711.3 587.3 710.5 588.8 709.7 590.3 708.8 591.8 707.9 593.3 707.0 594.8 706.1 596.3 705.2 597.8 704.2 599.3 703.2 600.8 702.2 602.3 701.2 603.8 700.2 605.3 699.3 606.8 698.3 608.3 697.4 609.8 696.5 611.3 695.6 612.8 694.8 614.3 693.9 615.8 693.2 617.3 692.4 618.8 691.7 620.3 691.0 621.8 690.4 623.3 689.8 624.8 689.2 626.3 688.7 627.8 688.2 629.3 687.7 630.8 687.3 632.3 686.9 633.8 686.5 635.3 686.2 636.8 685.9 638.3 685.6 639.8 685.3 641.3 685.1 642.8 684.9 644.3 684.7 645.8 684.6 647.3 684.5 648.8 684.4 650.3 684.4 651.8 684.4 653.3 684.4 654.8 684.5 656.3 684.6 657.8 684.8 659.3 685.0 660.8 685.3 662.3 685.6 663.8 686.0 665.3 686.5 666.8 687.0 668.3 687.6 669.8 688.3 671.3 689.1 672.8 690.0 674.3 691.0 675.8 692.0 677.3 693.2 678.8 694.5 680.3 695.8 681.8 697.3 683.3 698.8 684.8 700.4 686.3 702.0 687.8 703.8 689.3 705.5 690.8 707.3 692.3 709.1 693.8 710.9 695.3 712.8 696.8 714.6 698.3 716.6 699.8 718.5 701.3 720.6 702.8 722.7 704.3 724.8 705.8 727.1 707.3 729.4 708.8 731.9 710.3 734.4 711.8 737.0 713.3 739.6 714.8 742.3 716.3 745.0 717.8 747.7 719.3 750.4 720.8 753.0 722.3 755.7 723.8 758.4 725.3 761.1 726.8 763.7 728.3 766.3 729.8 768.9 731.3 771.5 732.8 774.1 734.3 776.6 735.8 779.1 737.3 781.6 738.8 784.0 740.3 786.5 741.8 788.9 743.3 791.3 744.8 793.8 746.3 796.2 747.8 798.6 749.3 801.0 750.8 803.4 752.3 805.8 753.8 808.2 755.3 810.5 756.8 812.8 758.3 815.1 759.8 817.4 761.3 819.6 762.8 821.8 764.3 824.0 765.8 826.2 767.3 828.4 768.8 830.5 770.3 832.6 771.8 834.7 773.3 836.8 774.8 838.9 776.3 841.0 777.8 843.0 779.3 845.0 780.8 847.0 782.3 849.0 783.8 850.9 785.3 852.8 786.8 854.7 788.3 856.5 789.8 858.3 791.3 860.2 792.8 861.9 794.3 863.7 795.8 865.4 797.3 867.1 798.8 868.8 800.3 870.4 801.8 872.0 803.3 873.6 804.8 875.2 806.3 876.7 807.8 878.2 809.3 879.7 810.8 881.1 812.3 882.5 813.8 884.0 815.3 885.3 816.8 886.7 818.3 888.1 819.8 889.4 821.3 890.7 822.8 892.0 824.3 893.3 825.8 894.6 827.3 895.9 828.8 897.1 830.3 898.3 831.8 899.6 833.3 900.8 834.8 901.9 836.3 903.1 837.8 904.3 839.3 905.4 840.8 906.5 842.3 907.6 843.8 908.8 845.3 909.8 846.8 910.9 848.3 912.0 849.8 913.1 851.3 914.1 852.8 915.2 854.3 916.2 855.8 917.3 857.3 918.3 858.8 919.4 860.3 920.4 861.8 921.4 863.3 922.5 864.8 923.5 866.3 924.5 867.8 925.5 869.3 926.5 870.8 927.5 872.3 928.5 873.8 929.4 875.3 930.4 876.8 931.3 878.3 932.3 879.8 933.2 881.3 934.1 882.8 935.0 884.3 935.9 885.8 936.8 887.3 937.7 888.8 938.5 890.3 939.4 891.8 940.3 893.3 941.1 894.8 942.0 896.3 942.8 897.8 943.6 899.3 944.4 900.8 945.2 902.3 946.0 903.8 946.8 905.3 947.6 906.8 948.4 908.3 949.1 909.8 949.9 911.3 950.6 912.8 951.4 914.3 952.1 915.8 952.8 917.3 953.6 918.8 954.3 920.3 955.0 921.8 955.7 923.3 956.5 924.8 957.2 926.3 957.9 927.8 958.6 929.3 959.3 930.8 960.0 932.3 960.7 933.8 961.4 935.3 962.1 936.8 962.8 938.3 963.5 939.8 964.2 941.3 964.9 942.8 965.5 944.3 966.2 945.8 966.9 947.3 967.5 948.8 968.2 950.3 968.8 951.8 969.5 953.3 970.1 954.8 970.7 956.3 971.3 957.8 972.0 959.3 972.6 960.8 973.2 962.3 973.8 963.8 974.4 965.3 975.0 966.8 975.6 968.3 976.3 969.8 976.9 971.3 977.5 972.8 978.1 974.3 978.7 975.8 979.4 977.3 980.0 978.8 980.6 980.3 981.2 981.8 981.8 983.3 982.4 984.8 983.0 986.3 983.6 987.8 984.2 989.3 984.7 990.8 985.3 992.3 985.9 993.8 986.4 995.3 987.0 996.8 987.5 998.3 988.1 999.8 988.6 1001.3 989.2 1002.8 989.7 1004.3 990.2 1005.8 990.7 1007.3 991.3 1008.8 991.8 1010.3 992.3 1011.8 992.8 1013.3 993.3 1014.8 993.8 1016.3 994.3 1017.8 994.8 1019.3 995.3 1020.8 995.7 1022.3 996.2 1023.8 996.7 1025.3 997.1 1026.8 997.6 1028.3 998.0 1029.8 998.5 1031.3 998.9 1032.8 999.3 1034.3 999.8 1035.8 1000.2 1037.3 1000.6 1038.8 1001.0 1040.3 1001.4 1041.8 1001.8 1043.3 1002.1 1044.8 1002.5 1046.3 1002.9 1047.8 1003.2 1049.3 1003.6 1050.8 1003.9 1052.3 1004.3 1053.8 1004.6 1055.3 1005.0 1056.8 1005.3 1058.3 1005.6 1059.8 1006.0 1061.3 1006.3 1062.8 1006.6 1064.3 1007.0 1065.8 1007.3 1067.3 1007.6 1068.8 1007.9 1070.3 1008.3 1071.8 1008.6 1073.3 1008.9 1074.8 1009.2 1076.3 1009.5 1077.8 1009.9 1079.3 1010.2 1080.8 1010.5 1082.3 1010.8 1083.8 1011.1 1085.3 1011.4 1086.8 1011.7 1088.3 1012.0 1089.8 1012.2 1091.3 1012.5 1092.8 1012.8 1094.3 1013.1 1095.8 1013.3 1097.3 1013.6 1098.8 1013.8 1100.3 1014.1 1101.8 1014.3 1103.3 1014.5 1104.8 1014.8 1106.3 1015.0 1107.8 1015.2 1109.3 1015.4 1110.8 1015.6 1112.3 1015.8 1113.8 1016.0 1115.3 1016.2 1116.8 1016.4 1118.3 1016.6 1119.8 1016.8 1121.3 1017.0 1122.8 1017.1 1124.3 1017.3 1125.8 1017.5 1127.3 1017.6 1128.8 1017.8 1130.3 1017.9 1131.8 1018.1 1133.3 1018.2 1134.8 1018.3 1136.3 1018.5 1137.8 1018.6 1139.3 1018.7 1140.8 1018.8 1142.3 1018.9 1143.8 1019.0 1145.3 1019.1 1146.8 1019.2 1148.3 1019.2 1149.8 1019.3 1151.3 1019.3 1152.8 1019.4 1154.3 1019.4 1155.8 1019.5 1157.3 1019.5 1158.8 1019.6 1160.3 1019.6 1161.8 1019.7 1163.3 1019.7 1164.8 1019.7 1166.3 1019.8 1167.8 1019.8 1169.3 1019.9 1170.8 1019.9 1172.3 1019.9 1173.8 1020.0 1175.3 1020.0 1176.8 1020.0 1178.3 1020.1 1179.8 1020.1 1181.3 1020.1 1182.8 1020.2 1184.3 1020.2 1185.8 1020.2 1187.3 1020.3 1188.8 1020.3 1190.3 1020.3 1191.8 1020.4 1193.3 1020.4 1194.8 1020.4 1196.3 1020.4 1197.8 1020.5 1199.3 1020.5 1200.8 1020.5 1202.3 1020.6 1203.8 1020.6 1205.3 1020.6 1206.8 1020.7 1208.3 1020.7 1209.8 1020.8 1211.3 1020.8 1212.8 1020.8 1214.3 1020.9 1215.8 1020.9 1217.3 1020.9 1218.8 1021.0 1220.3 1021.0 1221.8 1021.0 1223.3 1021.0 1224.8 1021.1 1226.3 1021.1 1227.8 1021.1 1229.3 1021.1 1230.8 1021.2 1232.3 1021.2 1233.8 1021.2 1235.3 1021.2 1236.8 1021.2 1238.3 1021.3 1239.8 1021.3 1240.0 1021.3 1260.0 1021.4 1791.7 1021.4" stroke="#003572"/>
<path d="M287.5 582.7 L291.5 556.7 L293.6 548.1 L295.9 536.1 L298.4 526.1 L300.6 521.3 L302.3 520.1 303.8 521.1 305.3 522.6 306.8 524.5 308.3 527.3 309.8 530.3 311.3 533.1 312.8 535.7 314.3 538.3 315.8 540.9 317.3 543.5 318.8 546.0 320.3 548.4 321.8 550.8 323.3 553.1 324.8 555.4 326.3 557.6 327.8 559.7 329.3 561.8 330.8 563.8 332.3 565.7 333.8 567.6 335.3 569.4 336.8 571.3 338.3 573.0 339.8 574.8 341.3 576.5 342.8 578.3 344.3 580.0 345.8 581.8 347.3 583.5 348.8 585.4 350.3 587.2 351.8 589.2 353.3 591.3 354.8 593.4 356.3 595.7 357.8 598.1 359.3 600.6 360.8 603.3 362.3 606.1 363.8 609.1 365.3 612.1 366.8 615.3 368.3 618.7 369.8 622.1 371.3 625.7 372.8 629.3 374.3 633.0 375.8 636.8 377.3 640.7 378.8 644.6 380.3 648.4 381.8 652.3 383.3 656.2 384.8 660.0 386.3 663.7 387.8 667.5 389.3 671.1 390.8 674.7 392.3 678.2 393.8 681.6 395.3 684.9 396.8 688.1 398.3 691.2 399.8 694.2 401.3 697.1 402.8 699.8 404.3 702.4 405.8 705.0 407.3 707.4 408.8 709.6 410.3 711.8 411.8 713.9 413.3 716.0 414.8 717.9 416.3 719.7 417.8 721.5 419.3 723.2 420.8 724.8 422.3 726.3 423.8 727.7 425.3 729.1 426.8 730.4 428.3 731.6 429.8 732.7 431.3 733.8 432.8 734.8 434.3 735.7 435.8 736.5 437.3 737.2 438.8 737.9 440.3 738.4 441.8 738.9 443.3 739.3 444.8 739.6 446.3 739.9 447.8 740.0 449.3 740.1 450.8 740.1 452.3 740.0 453.8 739.9 455.3 739.6 456.8 739.3 458.3 738.9 459.8 738.4 461.3 737.9 462.8 737.3 464.3 736.6 465.8 735.9 467.3 735.2 468.8 734.4 470.3 733.6 471.8 732.7 473.3 731.8 474.8 730.9 476.3 730.0 477.8 729.0 479.3 728.0 480.8 727.1 482.3 726.1 483.8 725.2 485.3 724.3 486.8 723.4 488.3 722.6 489.8 721.9 491.3 721.2 492.8 720.5 494.3 720.0 495.8 719.5 497.3 719.1 498.8 718.7 500.3 718.3 501.8 718.0 503.3 717.7 504.8 717.4 506.3 717.1 507.8 716.8 509.3 716.5 510.8 716.2 512.3 715.9 513.8 715.6 515.3 715.3 516.8 715.0 518.3 714.7 519.8 714.4 521.3 714.1 522.8 713.8 524.3 713.5 525.8 713.2 527.3 713.0 528.8 712.7 530.3 712.4 531.8 712.2 533.3 711.9 534.8 711.7 536.3 711.4 537.8 711.2 539.3 711.0 540.8 710.8 542.3 710.5 543.8 710.3 545.3 710.1 546.8 709.9 548.3 709.7 549.8 709.5 551.3 709.3 552.8 709.1 554.3 708.9 555.8 708.7 557.3 708.5 558.8 708.3 560.3 708.0 561.8 707.8 563.3 707.6 564.8 707.3 566.3 707.0 567.8 706.8 569.3 706.5 570.8 706.1 572.3 705.8 573.8 705.4 575.3 704.9 576.8 704.5 578.3 703.9 579.8 703.3 581.3 702.6 582.8 701.9 584.3 701.1 585.8 700.3 587.3 699.4 588.8 698.5 590.3 697.6 591.8 696.6 593.3 695.6 594.8 694.6 596.3 693.6 597.8 692.6 599.3 691.5 600.8 690.5 602.3 689.4 603.8 688.4 605.3 687.4 606.8 686.4 608.3 685.4 609.8 684.4 611.3 683.5 612.8 682.6 614.3 681.8 615.8 680.9 617.3 680.1 618.8 679.4 620.3 678.6 621.8 677.9 623.3 677.3 624.8 676.7 626.3 676.1 627.8 675.5 629.3 675.0 630.8 674.5 632.3 674.1 633.8 673.6 635.3 673.2 636.8 672.8 638.3 672.5 639.8 672.2 641.3 671.9 642.8 671.6 644.3 671.4 645.8 671.2 647.3 671.1 648.8 671.0 650.3 670.9 651.8 670.8 653.3 670.8 654.8 670.9 656.3 670.9 657.8 671.1 659.3 671.2 660.8 671.5 662.3 671.8 663.8 672.1 665.3 672.6 666.8 673.1 668.3 673.6 669.8 674.3 671.3 675.0 672.8 675.9 674.3 676.8 675.8 677.8 677.3 678.9 678.8 680.1 680.3 681.4 681.8 682.8 683.3 684.3 684.8 685.8 686.3 687.4 687.8 689.1 689.3 690.8 690.8 692.5 692.3 694.3 693.8 696.1 695.3 698.0 696.8 699.9 698.3 701.8 699.8 703.8 701.3 705.8 702.8 707.9 704.3 710.0 705.8 712.2 707.3 714.5 708.8 716.9 710.3 719.3 711.8 721.7 713.3 724.2 714.8 726.7 716.3 729.3 717.8 731.8 719.3 734.4 720.8 736.9 722.3 739.4 723.8 742.0 725.3 744.5 726.8 747.0 728.3 749.5 729.8 752.0 731.3 754.4 732.8 756.9 734.3 759.3 735.8 761.7 737.3 764.1 738.8 766.5 740.3 768.9 741.8 771.3 743.3 773.7 744.8 776.1 746.3 778.5 747.8 781.0 749.3 783.4 750.8 785.9 752.3 788.3 753.8 790.7 755.3 793.1 756.8 795.5 758.3 797.9 759.8 800.2 761.3 802.5 762.8 804.8 764.3 807.1 765.8 809.4 767.3 811.7 768.8 813.9 770.3 816.2 771.8 818.4 773.3 820.6 774.8 822.8 776.3 825.0 777.8 827.2 779.3 829.4 780.8 831.5 782.3 833.6 783.8 835.7 785.3 837.8 786.8 839.8 788.3 841.8 789.8 843.8 791.3 845.7 792.8 847.7 794.3 849.5 795.8 851.4 797.3 853.2 798.8 855.0 800.3 856.8 801.8 858.5 803.3 860.2 804.8 861.8 806.3 863.4 807.8 865.0 809.3 866.5 810.8 868.1 812.3 869.6 813.8 871.0 815.3 872.5 816.8 873.9 818.3 875.3 819.8 876.7 821.3 878.1 822.8 879.5 824.3 880.8 825.8 882.2 827.3 883.5 828.8 884.8 830.3 886.1 831.8 887.4 833.3 888.6 834.8 889.9 836.3 891.1 837.8 892.3 839.3 893.5 840.8 894.7 842.3 895.9 843.8 897.0 845.3 898.2 846.8 899.3 848.3 900.5 849.8 901.6 851.3 902.7 852.8 903.8 854.3 904.9 855.8 906.1 857.3 907.2 858.8 908.3 860.3 909.4 861.8 910.4 863.3 911.5 864.8 912.6 866.3 913.7 867.8 914.7 869.3 915.8 870.8 916.8 872.3 917.8 873.8 918.8 875.3 919.8 876.8 920.8 878.3 921.8 879.8 922.8 881.3 923.7 882.8 924.7 884.3 925.6 885.8 926.5 887.3 927.5 888.8 928.4 890.3 929.3 891.8 930.2 893.3 931.1 894.8 932.0 896.3 932.9 897.8 933.7 899.3 934.6 900.8 935.4 902.3 936.3 903.8 937.1 905.3 938.0 906.8 938.8 908.3 939.6 909.8 940.4 911.3 941.2 912.8 942.0 914.3 942.8 915.8 943.6 917.3 944.4 918.8 945.2 920.3 946.0 921.8 946.7 923.3 947.5 924.8 948.3 926.3 949.1 927.8 949.9 929.3 950.6 930.8 951.4 932.3 952.2 933.8 952.9 935.3 953.7 936.8 954.4 938.3 955.2 939.8 955.9 941.3 956.7 942.8 957.4 944.3 958.1 945.8 958.9 947.3 959.6 948.8 960.3 950.3 961.0 951.8 961.7 953.3 962.4 954.8 963.1 956.3 963.7 957.8 964.4 959.3 965.1 960.8 965.7 962.3 966.4 963.8 967.1 965.3 967.7 966.8 968.4 968.3 969.0 969.8 969.7 971.3 970.4 972.8 971.1 974.3 971.7 975.8 972.4 977.3 973.1 978.8 973.8 980.3 974.5 981.8 975.1 983.3 975.8 984.8 976.5 986.3 977.1 987.8 977.8 989.3 978.4 990.8 979.0 992.3 979.7 993.8 980.3 995.3 980.9 996.8 981.5 998.3 982.2 999.8 982.8 1001.3 983.4 1002.8 984.0 1004.3 984.6 1005.8 985.2 1007.3 985.8 1008.8 986.4 1010.3 987.0 1011.8 987.6 1013.3 988.1 1014.8 988.7 1016.3 989.3 1017.8 989.8 1019.3 990.4 1020.8 990.9 1022.3 991.5 1023.8 992.0 1025.3 992.6 1026.8 993.1 1028.3 993.6 1029.8 994.1 1031.3 994.6 1032.8 995.1 1034.3 995.5 1035.8 996.0 1037.3 996.5 1038.8 996.9 1040.3 997.4 1041.8 997.8 1043.3 998.3 1044.8 998.7 1046.3 999.1 1047.8 999.6 1049.3 1000.0 1050.8 1000.4 1052.3 1000.8 1053.8 1001.2 1055.3 1001.6 1056.8 1002.0 1058.3 1002.4 1059.8 1002.8 1061.3 1003.1 1062.8 1003.5 1064.3 1003.9 1065.8 1004.3 1067.3 1004.7 1068.8 1005.1 1070.3 1005.4 1071.8 1005.8 1073.3 1006.2 1074.8 1006.5 1076.3 1006.9 1077.8 1007.2 1079.3 1007.6 1080.8 1008.0 1082.3 1008.3 1083.8 1008.7 1085.3 1009.0 1086.8 1009.3 1088.3 1009.7 1089.8 1010.0 1091.3 1010.3 1092.8 1010.6 1094.3 1010.9 1095.8 1011.3 1097.3 1011.6 1098.8 1011.8 1100.3 1012.1 1101.8 1012.4 1103.3 1012.7 1104.8 1012.9 1106.3 1013.2 1107.8 1013.4 1109.3 1013.7 1110.8 1013.9 1112.3 1014.2 1113.8 1014.4 1115.3 1014.7 1116.8 1014.9 1118.3 1015.1 1119.8 1015.3 1121.3 1015.5 1122.8 1015.8 1124.3 1016.0 1125.8 1016.2 1127.3 1016.4 1128.8 1016.5 1130.3 1016.7 1131.8 1016.9 1133.3 1017.1 1134.8 1017.2 1136.3 1017.4 1137.8 1017.5 1139.3 1017.7 1140.8 1017.8 1142.3 1018.0 1143.8 1018.1 1145.3 1018.2 1146.8 1018.3 1148.3 1018.4 1149.8 1018.5 1151.3 1018.5 1152.8 1018.6 1154.3 1018.7 1155.8 1018.8 1157.3 1018.8 1158.8 1018.9 1160.3 1018.9 1161.8 1019.0 1163.3 1019.1 1164.8 1019.1 1166.3 1019.2 1167.8 1019.2 1169.3 1019.3 1170.8 1019.3 1172.3 1019.4 1173.8 1019.4 1175.3 1019.5 1176.8 1019.6 1178.3 1019.6 1179.8 1019.7 1181.3 1019.7 1182.8 1019.7 1184.3 1019.8 1185.8 1019.8 1187.3 1019.9 1188.8 1019.9 1190.3 1020.0 1191.8 1020.0 1193.3 1020.1 1194.8 1020.1 1196.3 1020.1 1197.8 1020.2 1199.3 1020.2 1200.8 1020.3 1202.3 1020.3 1203.8 1020.4 1205.3 1020.4 1206.8 1020.5 1208.3 1020.5 1209.8 1020.6 1211.3 1020.6 1212.8 1020.7 1214.3 1020.7 1215.8 1020.7 1217.3 1020.8 1218.8 1020.8 1220.3 1020.9 1221.8 1020.9 1223.3 1020.9 1224.8 1021.0 1226.3 1021.0 1227.8 1021.0 1229.3 1021.1 1230.8 1021.1 1232.3 1021.1 1233.8 1021.2 1235.3 1021.2 1236.8 1021.2 1238.3 1021.2 1239.8 1021.2 1240.0 1021.3 1260.0 1021.4 1791.7 1021.4" stroke="#0064a8"/>
<path d="M287.5 576.5 L291.5 550.5 L293.6 541.8 L295.9 529.8 L298.4 519.8 L300.6 515.0 L302.3 513.8 303.8 514.8 305.3 516.3 306.8 518.2 308.3 520.9 309.8 524.0 311.3 526.7 312.8 529.3 314.3 532.0 315.8 534.6 317.3 537.2 318.8 539.7 320.3 542.1 321.8 544.6 323.3 546.9 324.8 549.3 326.3 551.5 327.8 553.7 329.3 555.9 330.8 557.9 332.3 559.9 333.8 561.9 335.3 563.8 336.8 565.6 338.3 567.5 339.8 569.3 341.3 571.1 342.8 572.9 344.3 574.6 345.8 576.4 347.3 578.2 348.8 580.1 350.3 582.0 351.8 584.0 353.3 586.1 354.8 588.2 356.3 590.5 357.8 593.0 359.3 595.5 360.8 598.2 362.3 601.0 363.8 604.0 365.3 607.1 366.8 610.4 368.3 613.7 369.8 617.2 371.3 620.8 372.8 624.5 374.3 628.3 375.8 632.2 377.3 636.1 378.8 640.0 380.3 643.9 381.8 647.8 383.3 651.7 384.8 655.6 386.3 659.4 387.8 663.1 389.3 666.8 390.8 670.5 392.3 674.0 393.8 677.4 395.3 680.8 396.8 684.1 398.3 687.2 399.8 690.2 401.3 693.1 402.8 695.9 404.3 698.5 405.8 701.1 407.3 703.5 408.8 705.9 410.3 708.1 411.8 710.2 413.3 712.3 414.8 714.2 416.3 716.1 417.8 717.9 419.3 719.6 420.8 721.2 422.3 722.8 423.8 724.3 425.3 725.6 426.8 727.0 428.3 728.2 429.8 729.4 431.3 730.5 432.8 731.5 434.3 732.4 435.8 733.3 437.3 734.1 438.8 734.8 440.3 735.4 441.8 735.9 443.3 736.3 444.8 736.7 446.3 737.0 447.8 737.2 449.3 737.3 450.8 737.4 452.3 737.4 453.8 737.2 455.3 737.0 456.8 736.7 458.3 736.3 459.8 735.9 461.3 735.4 462.8 734.8 464.3 734.2 465.8 733.6 467.3 732.8 468.8 732.1 470.3 731.3 471.8 730.4 473.3 729.6 474.8 728.7 476.3 727.7 477.8 726.8 479.3 725.9 480.8 724.9 482.3 724.0 483.8 723.1 485.3 722.2 486.8 721.3 488.3 720.5 489.8 719.8 491.3 719.1 492.8 718.5 494.3 718.0 495.8 717.5 497.3 717.1 498.8 716.7 500.3 716.3 501.8 716.0 503.3 715.7 504.8 715.4 506.3 715.1 507.8 714.8 509.3 714.5 510.8 714.3 512.3 714.0 513.8 713.7 515.3 713.4 516.8 713.1 518.3 712.8 519.8 712.5 521.3 712.2 522.8 711.9 524.3 711.7 525.8 711.4 527.3 711.1 528.8 710.9 530.3 710.6 531.8 710.4 533.3 710.1 534.8 709.9 536.3 709.7 537.8 709.4 539.3 709.2 540.8 709.0 542.3 708.8 543.8 708.6 545.3 708.4 546.8 708.1 548.3 707.9 549.8 707.7 551.3 707.6 552.8 707.4 554.3 707.1 555.8 706.9 557.3 706.7 558.8 706.5 560.3 706.3 561.8 706.1 563.3 705.8 564.8 705.6 566.3 705.3 567.8 705.1 569.3 704.8 570.8 704.4 572.3 704.1 573.8 703.7 575.3 703.3 576.8 702.8 578.3 702.3 579.8 701.6 581.3 701.0 582.8 700.3 584.3 699.5 585.8 698.7 587.3 697.8 588.8 696.9 590.3 696.0 591.8 695.0 593.3 694.0 594.8 693.0 596.3 692.0 597.8 691.0 599.3 689.9 600.8 688.9 602.3 687.8 603.8 686.8 605.3 685.8 606.8 684.8 608.3 683.8 609.8 682.9 611.3 682.0 612.8 681.1 614.3 680.3 615.8 679.4 617.3 678.7 618.8 677.9 620.3 677.2 621.8 676.5 623.3 675.8 624.8 675.2 626.3 674.6 627.8 674.1 629.3 673.6 630.8 673.1 632.3 672.7 633.8 672.2 635.3 671.8 636.8 671.5 638.3 671.1 639.8 670.8 641.3 670.6 642.8 670.3 644.3 670.1 645.8 669.9 647.3 669.8 648.8 669.6 650.3 669.5 651.8 669.5 653.3 669.5 654.8 669.5 656.3 669.5 657.8 669.6 659.3 669.8 660.8 670.0 662.3 670.2 663.8 670.6 665.3 671.0 666.8 671.4 668.3 672.0 669.8 672.6 671.3 673.3 672.8 674.1 674.3 675.0 675.8 675.9 677.3 677.0 678.8 678.2 680.3 679.4 681.8 680.8 683.3 682.2 684.8 683.7 686.3 685.2 687.8 686.9 689.3 688.5 690.8 690.2 692.3 692.0 693.8 693.8 695.3 695.6 696.8 697.5 698.3 699.3 699.8 701.3 701.3 703.3 702.8 705.3 704.3 707.4 705.8 709.5 707.3 711.8 708.8 714.1 710.3 716.4 711.8 718.8 713.3 721.2 714.8 723.7 716.3 726.1 717.8 728.6 719.3 731.1 720.8 733.6 722.3 736.0 723.8 738.5 725.3 740.9 726.8 743.4 728.3 745.8 729.8 748.2 731.3 750.6 732.8 752.9 734.3 755.3 735.8 757.6 737.3 760.0 738.8 762.3 740.3 764.6 741.8 766.9 743.3 769.3 744.8 771.7 746.3 774.0 747.8 776.4 749.3 778.8 750.8 781.2 752.3 783.6 753.8 786.0 755.3 788.4 756.8 790.7 758.3 793.0 759.8 795.4 761.3 797.6 762.8 799.9 764.3 802.2 765.8 804.4 767.3 806.7 768.8 808.9 770.3 811.1 771.8 813.4 773.3 815.6 774.8 817.8 776.3 820.0 777.8 822.1 779.3 824.3 780.8 826.4 782.3 828.5 783.8 830.6 785.3 832.7 786.8 834.7 788.3 836.7 789.8 838.7 791.3 840.6 792.8 842.6 794.3 844.5 795.8 846.3 797.3 848.2 798.8 850.0 800.3 851.7 801.8 853.5 803.3 855.2 804.8 856.8 806.3 858.5 807.8 860.1 809.3 861.6 810.8 863.2 812.3 864.7 813.8 866.2 815.3 867.6 816.8 869.1 818.3 870.5 819.8 872.0 821.3 873.4 822.8 874.8 824.3 876.1 825.8 877.5 827.3 878.8 828.8 880.2 830.3 881.5 831.8 882.8 833.3 884.1 834.8 885.3 836.3 886.6 837.8 887.8 839.3 889.0 840.8 890.2 842.3 891.4 843.8 892.6 845.3 893.8 846.8 895.0 848.3 896.1 849.8 897.3 851.3 898.4 852.8 899.6 854.3 900.7 855.8 901.8 857.3 903.0 858.8 904.1 860.3 905.2 861.8 906.3 863.3 907.4 864.8 908.5 866.3 909.6 867.8 910.7 869.3 911.7 870.8 912.8 872.3 913.8 873.8 914.9 875.3 915.9 876.8 916.9 878.3 917.9 879.8 918.8 881.3 919.8 882.8 920.8 884.3 921.7 885.8 922.7 887.3 923.6 888.8 924.6 890.3 925.5 891.8 926.4 893.3 927.3 894.8 928.2 896.3 929.1 897.8 930.0 899.3 930.9 900.8 931.8 902.3 932.6 903.8 933.5 905.3 934.3 906.8 935.2 908.3 936.0 909.8 936.9 911.3 937.7 912.8 938.5 914.3 939.3 915.8 940.1 917.3 940.9 918.8 941.7 920.3 942.6 921.8 943.4 923.3 944.2 924.8 945.0 926.3 945.8 927.8 946.6 929.3 947.4 930.8 948.2 932.3 949.0 933.8 949.7 935.3 950.5 936.8 951.3 938.3 952.1 939.8 952.8 941.3 953.6 942.8 954.4 944.3 955.1 945.8 955.9 947.3 956.6 948.8 957.3 950.3 958.1 951.8 958.8 953.3 959.5 954.8 960.2 956.3 960.9 957.8 961.6 959.3 962.3 960.8 962.9 962.3 963.6 963.8 964.3 965.3 965.0 966.8 965.6 968.3 966.3 969.8 967.0 971.3 967.7 972.8 968.4 974.3 969.1 975.8 969.8 977.3 970.5 978.8 971.2 980.3 971.9 981.8 972.6 983.3 973.3 984.8 974.0 986.3 974.7 987.8 975.4 989.3 976.0 990.8 976.7 992.3 977.3 993.8 978.0 995.3 978.6 996.8 979.3 998.3 979.9 999.8 980.6 1001.3 981.2 1002.8 981.8 1004.3 982.5 1005.8 983.1 1007.3 983.7 1008.8 984.3 1010.3 985.0 1011.8 985.6 1013.3 986.2 1014.8 986.8 1016.3 987.4 1017.8 988.0 1019.3 988.6 1020.8 989.2 1022.3 989.7 1023.8 990.3 1025.3 990.8 1026.8 991.4 1028.3 991.9 1029.8 992.4 1031.3 993.0 1032.8 993.5 1034.3 994.0 1035.8 994.5 1037.3 995.0 1038.8 995.4 1040.3 995.9 1041.8 996.4 1043.3 996.8 1044.8 997.3 1046.3 997.7 1047.8 998.2 1049.3 998.6 1050.8 999.0 1052.3 999.5 1053.8 999.9 1055.3 1000.3 1056.8 1000.7 1058.3 1001.1 1059.8 1001.6 1061.3 1002.0 1062.8 1002.4 1064.3 1002.8 1065.8 1003.2 1067.3 1003.6 1068.8 1004.0 1070.3 1004.4 1071.8 1004.7 1073.3 1005.1 1074.8 1005.5 1076.3 1005.9 1077.8 1006.3 1079.3 1006.6 1080.8 1007.0 1082.3 1007.4 1083.8 1007.7 1085.3 1008.1 1086.8 1008.5 1088.3 1008.8 1089.8 1009.2 1091.3 1009.5 1092.8 1009.8 1094.3 1010.2 1095.8 1010.5 1097.3 1010.8 1098.8 1011.1 1100.3 1011.4 1101.8 1011.7 1103.3 1012.0 1104.8 1012.2 1106.3 1012.5 1107.8 1012.8 1109.3 1013.0 1110.8 1013.3 1112.3 1013.6 1113.8 1013.8 1115.3 1014.1 1116.8 1014.3 1118.3 1014.6 1119.8 1014.8 1121.3 1015.0 1122.8 1015.2 1124.3 1015.5 1125.8 1015.7 1127.3 1015.9 1128.8 1016.1 1130.3 1016.3 1131.8 1016.5 1133.3 1016.6 1134.8 1016.8 1136.3 1017.0 1137.8 1017.2 1139.3 1017.3 1140.8 1017.5 1142.3 1017.6 1143.8 1017.7 1145.3 1017.9 1146.8 1018.0 1148.3 1018.1 1149.8 1018.2 1151.3 1018.3 1152.8 1018.3 1154.3 1018.4 1155.8 1018.5 1157.3 1018.5 1158.8 1018.6 1160.3 1018.7 1161.8 1018.8 1163.3 1018.8 1164.8 1018.9 1166.3 1018.9 1167.8 1019.0 1169.3 1019.1 1170.8 1019.1 1172.3 1019.2 1173.8 1019.3 1175.3 1019.3 1176.8 1019.4 1178.3 1019.4 1179.8 1019.5 1181.3 1019.5 1182.8 1019.6 1184.3 1019.6 1185.8 1019.7 1187.3 1019.7 1188.8 1019.8 1190.3 1019.8 1191.8 1019.9 1193.3 1019.9 1194.8 1020.0 1196.3 1020.0 1197.8 1020.1 1199.3 1020.1 1200.8 1020.2 1202.3 1020.2 1203.8 1020.3 1205.3 1020.3 1206.8 1020.4 1208.3 1020.4 1209.8 1020.5 1211.3 1020.5 1212.8 1020.6 1214.3 1020.6 1215.8 1020.7 1217.3 1020.7 1218.8 1020.8 1220.3 1020.8 1221.8 1020.9 1223.3 1020.9 1224.8 1020.9 1226.3 1021.0 1227.8 1021.0 1229.3 1021.0 1230.8 1021.1 1232.3 1021.1 1233.8 1021.1 1235.3 1021.2 1236.8 1021.2 1238.3 1021.2 1239.8 1021.2 1240.0 1021.2 1260.0 1021.4 1791.7 1021.4" stroke="#5b8fe0"/>
<path d="M287.5 574.2 L291.5 548.2 L293.6 539.5 L295.9 527.5 L298.4 517.5 L300.6 512.7 L302.3 511.5 303.8 512.5 305.3 514.0 306.8 515.9 308.3 518.6 309.8 521.6 311.3 524.3 312.8 526.9 314.3 529.6 315.8 532.2 317.3 534.8 318.8 537.3 320.3 539.8 321.8 542.2 323.3 544.6 324.8 546.9 326.3 549.2 327.8 551.4 329.3 553.5 330.8 555.6 332.3 557.6 333.8 559.6 335.3 561.5 336.8 563.4 338.3 565.3 339.8 567.1 341.3 568.9 342.8 570.7 344.3 572.5 345.8 574.3 347.3 576.1 348.8 577.9 350.3 579.8 351.8 581.8 353.3 583.9 354.8 586.1 356.3 588.4 357.8 590.8 359.3 593.4 360.8 596.0 362.3 598.9 363.8 601.8 365.3 605.0 366.8 608.2 368.3 611.6 369.8 615.1 371.3 618.7 372.8 622.4 374.3 626.2 375.8 630.1 377.3 634.0 378.8 638.0 380.3 641.9 381.8 645.8 383.3 649.7 384.8 653.6 386.3 657.4 387.8 661.2 389.3 664.9 390.8 668.5 392.3 672.1 393.8 675.5 395.3 678.9 396.8 682.1 398.3 685.3 399.8 688.3 401.3 691.2 402.8 694.0 404.3 696.7 405.8 699.2 407.3 701.7 408.8 704.0 410.3 706.3 411.8 708.4 413.3 710.5 414.8 712.4 416.3 714.3 417.8 716.1 419.3 717.8 420.8 719.5 422.3 721.0 423.8 722.5 425.3 723.9 426.8 725.2 428.3 726.5 429.8 727.7 431.3 728.8 432.8 729.8 434.3 730.7 435.8 731.6 437.3 732.4 438.8 733.1 440.3 733.7 441.8 734.3 443.3 734.8 444.8 735.1 446.3 735.4 447.8 735.7 449.3 735.8 450.8 735.9 452.3 735.8 453.8 735.7 455.3 735.5 456.8 735.2 458.3 734.9 459.8 734.5 461.3 734.0 462.8 733.4 464.3 732.8 465.8 732.2 467.3 731.5 468.8 730.7 470.3 729.9 471.8 729.1 473.3 728.2 474.8 727.3 476.3 726.4 477.8 725.5 479.3 724.5 480.8 723.6 482.3 722.6 483.8 721.7 485.3 720.8 486.8 720.0 488.3 719.2 489.8 718.5 491.3 717.8 492.8 717.2 494.3 716.7 495.8 716.2 497.3 715.7 498.8 715.4 500.3 715.0 501.8 714.7 503.3 714.4 504.8 714.1 506.3 713.8 507.8 713.5 509.3 713.2 510.8 712.9 512.3 712.6 513.8 712.3 515.3 712.0 516.8 711.7 518.3 711.5 519.8 711.2 521.3 710.9 522.8 710.6 524.3 710.3 525.8 710.1 527.3 709.8 528.8 709.5 530.3 709.3 531.8 709.0 533.3 708.8 534.8 708.5 536.3 708.3 537.8 708.0 539.3 707.8 540.8 707.6 542.3 707.4 543.8 707.2 545.3 706.9 546.8 706.7 548.3 706.5 549.8 706.3 551.3 706.1 552.8 705.9 554.3 705.7 555.8 705.5 557.3 705.3 558.8 705.0 560.3 704.8 561.8 704.6 563.3 704.3 564.8 704.1 566.3 703.8 567.8 703.5 569.3 703.2 570.8 702.9 572.3 702.6 573.8 702.2 575.3 701.7 576.8 701.2 578.3 700.7 579.8 700.1 581.3 699.4 582.8 698.7 584.3 697.9 585.8 697.0 587.3 696.2 588.8 695.3 590.3 694.3 591.8 693.3 593.3 692.3 594.8 691.3 596.3 690.3 597.8 689.3 599.3 688.2 600.8 687.2 602.3 686.1 603.8 685.1 605.3 684.1 606.8 683.1 608.3 682.1 609.8 681.2 611.3 680.2 612.8 679.4 614.3 678.5 615.8 677.7 617.3 676.9 618.8 676.1 620.3 675.4 621.8 674.7 623.3 674.1 624.8 673.4 626.3 672.8 627.8 672.3 629.3 671.8 630.8 671.3 632.3 670.8 633.8 670.4 635.3 670.0 636.8 669.6 638.3 669.3 639.8 669.0 641.3 668.7 642.8 668.4 644.3 668.2 645.8 668.0 647.3 667.9 648.8 667.7 650.3 667.6 651.8 667.6 653.3 667.5 654.8 667.5 656.3 667.5 657.8 667.6 659.3 667.8 660.8 667.9 662.3 668.2 663.8 668.5 665.3 668.9 666.8 669.3 668.3 669.8 669.8 670.5 671.3 671.1 672.8 671.9 674.3 672.8 675.8 673.7 677.3 674.8 678.8 675.9 680.3 677.1 681.8 678.5 683.3 679.9 684.8 681.3 686.3 682.9 687.8 684.5 689.3 686.1 690.8 687.8 692.3 689.5 693.8 691.3 695.3 693.1 696.8 695.0 698.3 696.8 699.8 698.8 701.3 700.7 702.8 702.7 704.3 704.8 705.8 707.0 707.3 709.2 708.8 711.4 710.3 713.7 711.8 716.1 713.3 718.5 714.8 720.9 716.3 723.3 717.8 725.7 719.3 728.2 720.8 730.6 722.3 733.0 723.8 735.4 725.3 737.8 726.8 740.2 728.3 742.6 729.8 744.9 731.3 747.3 732.8 749.6 734.3 751.9 735.8 754.2 737.3 756.5 738.8 758.8 740.3 761.1 741.8 763.4 743.3 765.7 744.8 768.1 746.3 770.4 747.8 772.8 749.3 775.2 750.8 777.6 752.3 780.0 753.8 782.4 755.3 784.7 756.8 787.1 758.3 789.4 759.8 791.7 761.3 794.0 762.8 796.2 764.3 798.5 765.8 800.7 767.3 803.0 768.8 805.2 770.3 807.5 771.8 809.7 773.3 811.9 774.8 814.1 776.3 816.3 777.8 818.5 779.3 820.7 780.8 822.8 782.3 825.0 783.8 827.1 785.3 829.1 786.8 831.2 788.3 833.2 789.8 835.2 791.3 837.2 792.8 839.1 794.3 841.0 795.8 842.9 797.3 844.7 798.8 846.6 800.3 848.3 801.8 850.1 803.3 851.8 804.8 853.5 806.3 855.1 807.8 856.8 809.3 858.3 810.8 859.9 812.3 861.4 813.8 862.9 815.3 864.4 816.8 865.9 818.3 867.4 819.8 868.8 821.3 870.2 822.8 871.6 824.3 873.0 825.8 874.4 827.3 875.7 828.8 877.1 830.3 878.4 831.8 879.7 833.3 881.0 834.8 882.3 836.3 883.6 837.8 884.8 839.3 886.1 840.8 887.3 842.3 888.5 843.8 889.7 845.3 890.9 846.8 892.1 848.3 893.2 849.8 894.4 851.3 895.6 852.8 896.7 854.3 897.9 855.8 899.0 857.3 900.2 858.8 901.3 860.3 902.5 861.8 903.6 863.3 904.7 864.8 905.8 866.3 906.9 867.8 908.0 869.3 909.1 870.8 910.1 872.3 911.2 873.8 912.2 875.3 913.2 876.8 914.2 878.3 915.2 879.8 916.2 881.3 917.2 882.8 918.2 884.3 919.2 885.8 920.1 887.3 921.1 888.8 922.0 890.3 923.0 891.8 923.9 893.3 924.8 894.8 925.7 896.3 926.7 897.8 927.6 899.3 928.4 900.8 929.3 902.3 930.2 903.8 931.1 905.3 931.9 906.8 932.8 908.3 933.6 909.8 934.5 911.3 935.3 912.8 936.2 914.3 937.0 915.8 937.8 917.3 938.6 918.8 939.5 920.3 940.3 921.8 941.1 923.3 941.9 924.8 942.8 926.3 943.6 927.8 944.4 929.3 945.2 930.8 946.0 932.3 946.8 933.8 947.6 935.3 948.4 936.8 949.2 938.3 950.0 939.8 950.8 941.3 951.6 942.8 952.3 944.3 953.1 945.8 953.9 947.3 954.6 948.8 955.4 950.3 956.1 951.8 956.8 953.3 957.6 954.8 958.3 956.3 959.0 957.8 959.7 959.3 960.4 960.8 961.1 962.3 961.8 963.8 962.4 965.3 963.1 966.8 963.8 968.3 964.5 969.8 965.2 971.3 965.9 972.8 966.6 974.3 967.4 975.8 968.1 977.3 968.8 978.8 969.5 980.3 970.2 981.8 971.0 983.3 971.7 984.8 972.4 986.3 973.1 987.8 973.8 989.3 974.4 990.8 975.1 992.3 975.8 993.8 976.5 995.3 977.1 996.8 977.8 998.3 978.5 999.8 979.1 1001.3 979.8 1002.8 980.4 1004.3 981.1 1005.8 981.7 1007.3 982.4 1008.8 983.0 1010.3 983.6 1011.8 984.3 1013.3 984.9 1014.8 985.5 1016.3 986.1 1017.8 986.8 1019.3 987.4 1020.8 988.0 1022.3 988.5 1023.8 989.1 1025.3 989.7 1026.8 990.2 1028.3 990.8 1029.8 991.3 1031.3 991.9 1032.8 992.4 1034.3 992.9 1035.8 993.4 1037.3 993.9 1038.8 994.4 1040.3 994.9 1041.8 995.4 1043.3 995.9 1044.8 996.3 1046.3 996.8 1047.8 997.3 1049.3 997.7 1050.8 998.2 1052.3 998.6 1053.8 999.0 1055.3 999.5 1056.8 999.9 1058.3 1000.3 1059.8 1000.8 1061.3 1001.2 1062.8 1001.6 1064.3 1002.0 1065.8 1002.4 1067.3 1002.8 1068.8 1003.2 1070.3 1003.6 1071.8 1004.0 1073.3 1004.4 1074.8 1004.8 1076.3 1005.2 1077.8 1005.6 1079.3 1006.0 1080.8 1006.4 1082.3 1006.8 1083.8 1007.1 1085.3 1007.5 1086.8 1007.9 1088.3 1008.2 1089.8 1008.6 1091.3 1008.9 1092.8 1009.3 1094.3 1009.6 1095.8 1010.0 1097.3 1010.3 1098.8 1010.6 1100.3 1010.9 1101.8 1011.2 1103.3 1011.5 1104.8 1011.8 1106.3 1012.1 1107.8 1012.3 1109.3 1012.6 1110.8 1012.9 1112.3 1013.2 1113.8 1013.4 1115.3 1013.7 1116.8 1013.9 1118.3 1014.2 1119.8 1014.4 1121.3 1014.7 1122.8 1014.9 1124.3 1015.1 1125.8 1015.3 1127.3 1015.6 1128.8 1015.8 1130.3 1016.0 1131.8 1016.2 1133.3 1016.3 1134.8 1016.5 1136.3 1016.7 1137.8 1016.9 1139.3 1017.1 1140.8 1017.2 1142.3 1017.4 1143.8 1017.5 1145.3 1017.6 1146.8 1017.8 1148.3 1017.9 1149.8 1018.0 1151.3 1018.1 1152.8 1018.1 1154.3 1018.2 1155.8 1018.3 1157.3 1018.4 1158.8 1018.4 1160.3 1018.5 1161.8 1018.6 1163.3 1018.7 1164.8 1018.7 1166.3 1018.8 1167.8 1018.9 1169.3 1018.9 1170.8 1019.0 1172.3 1019.1 1173.8 1019.1 1175.3 1019.2 1176.8 1019.2 1178.3 1019.3 1179.8 1019.4 1181.3 1019.4 1182.8 1019.5 1184.3 1019.5 1185.8 1019.6 1187.3 1019.6 1188.8 1019.7 1190.3 1019.8 1191.8 1019.8 1193.3 1019.9 1194.8 1019.9 1196.3 1019.9 1197.8 1020.0 1199.3 1020.0 1200.8 1020.1 1202.3 1020.2 1203.8 1020.2 1205.3 1020.3 1206.8 1020.3 1208.3 1020.4 1209.8 1020.4 1211.3 1020.5 1212.8 1020.5 1214.3 1020.6 1215.8 1020.6 1217.3 1020.7 1218.8 1020.7 1220.3 1020.8 1221.8 1020.8 1223.3 1020.9 1224.8 1020.9 1226.3 1020.9 1227.8 1021.0 1229.3 1021.0 1230.8 1021.1 1232.3 1021.1 1233.8 1021.1 1235.3 1021.1 1236.8 1021.2 1238.3 1021.2 1239.8 1021.2 1240.0 1021.2 1260.0 1021.4 1791.7 1021.4" stroke="#4a86dc"/>
<path d="M287.5 556.0 L291.5 530.0 L293.6 521.1 L295.9 509.1 L298.4 499.1 L300.6 494.3 L302.3 493.1 303.8 494.1 305.3 495.5 306.8 497.2 308.3 499.7 309.8 502.5 311.3 505.1 312.8 507.7 314.3 510.3 315.8 512.9 317.3 515.5 318.8 518.1 320.3 520.6 321.8 523.1 323.3 525.6 324.8 528.1 326.3 530.4 327.8 532.8 329.3 535.0 330.8 537.2 332.3 539.3 333.8 541.4 335.3 543.5 336.8 545.5 338.3 547.5 339.8 549.4 341.3 551.3 342.8 553.2 344.3 555.0 345.8 556.9 347.3 558.7 348.8 560.6 350.3 562.5 351.8 564.5 353.3 566.6 354.8 568.7 356.3 571.0 357.8 573.4 359.3 576.0 360.8 578.7 362.3 581.5 363.8 584.5 365.3 587.7 366.8 591.0 368.3 594.4 369.8 598.0 371.3 601.8 372.8 605.6 374.3 609.6 375.8 613.6 377.3 617.6 378.8 621.7 380.3 625.7 381.8 629.7 383.3 633.7 384.8 637.7 386.3 641.6 387.8 645.4 389.3 649.2 390.8 652.9 392.3 656.5 393.8 660.0 395.3 663.5 396.8 666.8 398.3 670.0 399.8 673.1 401.3 676.1 402.8 679.0 404.3 681.7 405.8 684.3 407.3 686.8 408.8 689.2 410.3 691.5 411.8 693.7 413.3 695.9 414.8 697.9 416.3 699.9 417.8 701.7 419.3 703.5 420.8 705.2 422.3 706.8 423.8 708.4 425.3 709.9 426.8 711.2 428.3 712.6 429.8 713.8 431.3 715.0 432.8 716.1 434.3 717.2 435.8 718.1 437.3 719.0 438.8 719.9 440.3 720.6 441.8 721.3 443.3 721.9 444.8 722.5 446.3 722.9 447.8 723.3 449.3 723.5 450.8 723.7 452.3 723.8 453.8 723.8 455.3 723.7 456.8 723.5 458.3 723.3 459.8 722.9 461.3 722.5 462.8 722.1 464.3 721.5 465.8 721.0 467.3 720.3 468.8 719.7 470.3 718.9 471.8 718.2 473.3 717.4 474.8 716.5 476.3 715.7 477.8 714.8 479.3 713.9 480.8 712.9 482.3 712.0 483.8 711.1 485.3 710.3 486.8 709.4 488.3 708.6 489.8 707.9 491.3 707.2 492.8 706.6 494.3 706.1 495.8 705.6 497.3 705.2 498.8 704.8 500.3 704.5 501.8 704.2 503.3 703.9 504.8 703.6 506.3 703.3 507.8 702.9 509.3 702.6 510.8 702.3 512.3 702.0 513.8 701.7 515.3 701.4 516.8 701.1 518.3 700.8 519.8 700.5 521.3 700.1 522.8 699.8 524.3 699.5 525.8 699.2 527.3 698.9 528.8 698.7 530.3 698.4 531.8 698.1 533.3 697.8 534.8 697.5 536.3 697.3 537.8 697.0 539.3 696.7 540.8 696.4 542.3 696.2 543.8 695.9 545.3 695.6 546.8 695.4 548.3 695.1 549.8 694.8 551.3 694.5 552.8 694.3 554.3 694.0 555.8 693.7 557.3 693.4 558.8 693.2 560.3 692.9 561.8 692.6 563.3 692.3 564.8 692.0 566.3 691.7 567.8 691.4 569.3 691.0 570.8 690.7 572.3 690.3 573.8 689.8 575.3 689.3 576.8 688.8 578.3 688.2 579.8 687.5 581.3 686.7 582.8 685.9 584.3 685.0 585.8 684.1 587.3 683.2 588.8 682.2 590.3 681.1 591.8 680.1 593.3 679.0 594.8 677.9 596.3 676.8 597.8 675.7 599.3 674.6 600.8 673.5 602.3 672.4 603.8 671.3 605.3 670.3 606.8 669.2 608.3 668.2 609.8 667.2 611.3 666.3 612.8 665.4 614.3 664.5 615.8 663.6 617.3 662.8 618.8 662.0 620.3 661.2 621.8 660.5 623.3 659.7 624.8 659.1 626.3 658.4 627.8 657.8 629.3 657.3 630.8 656.7 632.3 656.2 633.8 655.7 635.3 655.3 636.8 654.8 638.3 654.4 639.8 654.1 641.3 653.7 642.8 653.4 644.3 653.2 645.8 653.0 647.3 652.8 648.8 652.6 650.3 652.5 651.8 652.4 653.3 652.3 654.8 652.3 656.3 652.3 657.8 652.4 659.3 652.5 660.8 652.7 662.3 652.9 663.8 653.3 665.3 653.6 666.8 654.1 668.3 654.6 669.8 655.2 671.3 655.9 672.8 656.6 674.3 657.5 675.8 658.4 677.3 659.5 678.8 660.6 680.3 661.8 681.8 663.1 683.3 664.5 684.8 665.9 686.3 667.5 687.8 669.0 689.3 670.7 690.8 672.4 692.3 674.2 693.8 676.0 695.3 677.9 696.8 679.8 698.3 681.7 699.8 683.7 701.3 685.7 702.8 687.7 704.3 689.8 705.8 691.9 707.3 694.1 708.8 696.3 710.3 698.6 711.8 700.9 713.3 703.2 714.8 705.5 716.3 707.8 717.8 710.2 719.3 712.5 720.8 714.8 722.3 717.2 723.8 719.5 725.3 721.8 726.8 724.2 728.3 726.5 729.8 728.8 731.3 731.1 732.8 733.4 734.3 735.7 735.8 737.9 737.3 740.2 738.8 742.5 740.3 744.8 741.8 747.2 743.3 749.5 744.8 751.9 746.3 754.4 747.8 756.8 749.3 759.3 750.8 761.8 752.3 764.3 753.8 766.8 755.3 769.3 756.8 771.8 758.3 774.2 759.8 776.7 761.3 779.1 762.8 781.5 764.3 783.9 765.8 786.3 767.3 788.8 768.8 791.2 770.3 793.6 771.8 796.0 773.3 798.4 774.8 800.8 776.3 803.2 777.8 805.6 779.3 807.9 780.8 810.3 782.3 812.6 783.8 814.9 785.3 817.1 786.8 819.4 788.3 821.6 789.8 823.8 791.3 825.9 792.8 828.0 794.3 830.1 795.8 832.2 797.3 834.2 798.8 836.1 800.3 838.0 801.8 839.9 803.3 841.7 804.8 843.5 806.3 845.2 807.8 846.9 809.3 848.5 810.8 850.1 812.3 851.7 813.8 853.2 815.3 854.8 816.8 856.3 818.3 857.8 819.8 859.3 821.3 860.7 822.8 862.2 824.3 863.6 825.8 865.0 827.3 866.4 828.8 867.8 830.3 869.2 831.8 870.6 833.3 871.9 834.8 873.2 836.3 874.5 837.8 875.8 839.3 877.1 840.8 878.4 842.3 879.7 843.8 880.9 845.3 882.1 846.8 883.4 848.3 884.6 849.8 885.8 851.3 887.0 852.8 888.2 854.3 889.4 855.8 890.6 857.3 891.8 858.8 893.0 860.3 894.2 861.8 895.3 863.3 896.5 864.8 897.6 866.3 898.8 867.8 899.9 869.3 901.0 870.8 902.1 872.3 903.2 873.8 904.3 875.3 905.3 876.8 906.4 878.3 907.4 879.8 908.4 881.3 909.4 882.8 910.5 884.3 911.5 885.8 912.4 887.3 913.4 888.8 914.4 890.3 915.4 891.8 916.4 893.3 917.3 894.8 918.3 896.3 919.2 897.8 920.1 899.3 921.1 900.8 922.0 902.3 922.9 903.8 923.8 905.3 924.7 906.8 925.6 908.3 926.5 909.8 927.4 911.3 928.3 912.8 929.1 914.3 930.0 915.8 930.9 917.3 931.8 918.8 932.6 920.3 933.5 921.8 934.4 923.3 935.2 924.8 936.1 926.3 937.0 927.8 937.8 929.3 938.7 930.8 939.5 932.3 940.4 933.8 941.2 935.3 942.1 936.8 942.9 938.3 943.8 939.8 944.6 941.3 945.4 942.8 946.2 944.3 947.0 945.8 947.9 947.3 948.7 948.8 949.4 950.3 950.2 951.8 951.0 953.3 951.8 954.8 952.5 956.3 953.3 957.8 954.0 959.3 954.7 960.8 955.5 962.3 956.2 963.8 956.9 965.3 957.6 966.8 958.4 968.3 959.1 969.8 959.8 971.3 960.6 972.8 961.3 974.3 962.1 975.8 962.9 977.3 963.6 978.8 964.4 980.3 965.2 981.8 965.9 983.3 966.7 984.8 967.5 986.3 968.2 987.8 968.9 989.3 969.7 990.8 970.4 992.3 971.1 993.8 971.9 995.3 972.6 996.8 973.3 998.3 974.0 999.8 974.7 1001.3 975.4 1002.8 976.1 1004.3 976.8 1005.8 977.5 1007.3 978.2 1008.8 978.9 1010.3 979.6 1011.8 980.3 1013.3 981.0 1014.8 981.7 1016.3 982.4 1017.8 983.0 1019.3 983.7 1020.8 984.4 1022.3 985.0 1023.8 985.6 1025.3 986.2 1026.8 986.9 1028.3 987.5 1029.8 988.0 1031.3 988.6 1032.8 989.2 1034.3 989.8 1035.8 990.3 1037.3 990.9 1038.8 991.4 1040.3 991.9 1041.8 992.5 1043.3 993.0 1044.8 993.5 1046.3 994.0 1047.8 994.5 1049.3 995.0 1050.8 995.5 1052.3 996.0 1053.8 996.5 1055.3 996.9 1056.8 997.4 1058.3 997.9 1059.8 998.3 1061.3 998.8 1062.8 999.3 1064.3 999.7 1065.8 1000.2 1067.3 1000.6 1068.8 1001.1 1070.3 1001.5 1071.8 1001.9 1073.3 1002.4 1074.8 1002.8 1076.3 1003.2 1077.8 1003.7 1079.3 1004.1 1080.8 1004.5 1082.3 1004.9 1083.8 1005.3 1085.3 1005.7 1086.8 1006.1 1088.3 1006.5 1089.8 1006.9 1091.3 1007.3 1092.8 1007.7 1094.3 1008.0 1095.8 1008.4 1097.3 1008.8 1098.8 1009.1 1100.3 1009.5 1101.8 1009.8 1103.3 1010.1 1104.8 1010.4 1106.3 1010.7 1107.8 1011.0 1109.3 1011.3 1110.8 1011.6 1112.3 1011.9 1113.8 1012.2 1115.3 1012.5 1116.8 1012.8 1118.3 1013.1 1119.8 1013.3 1121.3 1013.6 1122.8 1013.9 1124.3 1014.1 1125.8 1014.4 1127.3 1014.6 1128.8 1014.8 1130.3 1015.1 1131.8 1015.3 1133.3 1015.5 1134.8 1015.7 1136.3 1015.9 1137.8 1016.1 1139.3 1016.3 1140.8 1016.5 1142.3 1016.7 1143.8 1016.8 1145.3 1017.0 1146.8 1017.1 1148.3 1017.2 1149.8 1017.3 1151.3 1017.5 1152.8 1017.6 1154.3 1017.6 1155.8 1017.7 1157.3 1017.8 1158.8 1017.9 1160.3 1018.0 1161.8 1018.1 1163.3 1018.2 1164.8 1018.3 1166.3 1018.3 1167.8 1018.4 1169.3 1018.5 1170.8 1018.6 1172.3 1018.7 1173.8 1018.7 1175.3 1018.8 1176.8 1018.9 1178.3 1018.9 1179.8 1019.0 1181.3 1019.1 1182.8 1019.2 1184.3 1019.2 1185.8 1019.3 1187.3 1019.4 1188.8 1019.4 1190.3 1019.5 1191.8 1019.5 1193.3 1019.6 1194.8 1019.7 1196.3 1019.7 1197.8 1019.8 1199.3 1019.8 1200.8 1019.9 1202.3 1020.0 1203.8 1020.0 1205.3 1020.1 1206.8 1020.2 1208.3 1020.2 1209.8 1020.3 1211.3 1020.4 1212.8 1020.4 1214.3 1020.5 1215.8 1020.5 1217.3 1020.6 1218.8 1020.6 1220.3 1020.7 1221.8 1020.7 1223.3 1020.8 1224.8 1020.8 1226.3 1020.9 1227.8 1020.9 1229.3 1021.0 1230.8 1021.0 1232.3 1021.0 1233.8 1021.1 1235.3 1021.1 1236.8 1021.1 1238.3 1021.2 1239.8 1021.2 1240.0 1021.2 1260.0 1021.4 1791.7 1021.4" stroke="#5aaeeb"/>
<path d="M287.5 536.6 L291.5 510.6 L293.6 501.3 L295.9 489.3 L298.4 479.3 L300.6 474.5 L302.3 473.3 303.8 474.3 305.3 475.8 306.8 477.5 308.3 479.8 309.8 482.4 311.3 485.0 312.8 487.6 314.3 490.2 315.8 492.8 317.3 495.5 318.8 498.2 320.3 500.8 321.8 503.5 323.3 506.1 324.8 508.7 326.3 511.2 327.8 513.7 329.3 516.2 330.8 518.5 332.3 520.9 333.8 523.1 335.3 525.3 336.8 527.5 338.3 529.6 339.8 531.7 341.3 533.8 342.8 535.8 344.3 537.8 345.8 539.7 347.3 541.7 348.8 543.6 350.3 545.6 351.8 547.6 353.3 549.7 354.8 551.9 356.3 554.2 357.8 556.7 359.3 559.3 360.8 562.0 362.3 564.9 363.8 568.0 365.3 571.2 366.8 574.7 368.3 578.3 369.8 582.0 371.3 585.9 372.8 589.9 374.3 594.0 375.8 598.2 377.3 602.4 378.8 606.6 380.3 610.8 381.8 615.0 383.3 619.1 384.8 623.1 386.3 627.1 387.8 631.1 389.3 634.9 390.8 638.8 392.3 642.5 393.8 646.1 395.3 649.7 396.8 653.2 398.3 656.5 399.8 659.7 401.3 662.8 402.8 665.7 404.3 668.6 405.8 671.3 407.3 673.9 408.8 676.4 410.3 678.8 411.8 681.1 413.3 683.3 414.8 685.5 416.3 687.5 417.8 689.5 419.3 691.4 420.8 693.2 422.3 694.9 423.8 696.5 425.3 698.1 426.8 699.6 428.3 701.0 429.8 702.3 431.3 703.6 432.8 704.8 434.3 706.0 435.8 707.1 437.3 708.1 438.8 709.1 440.3 710.0 441.8 710.9 443.3 711.6 444.8 712.3 446.3 712.9 447.8 713.4 449.3 713.8 450.8 714.1 452.3 714.3 453.8 714.4 455.3 714.4 456.8 714.3 458.3 714.2 459.8 714.0 461.3 713.7 462.8 713.3 464.3 712.9 465.8 712.4 467.3 711.8 468.8 711.2 470.3 710.6 471.8 709.9 473.3 709.2 474.8 708.4 476.3 707.6 477.8 706.8 479.3 705.9 480.8 705.1 482.3 704.2 483.8 703.3 485.3 702.5 486.8 701.7 488.3 700.9 489.8 700.2 491.3 699.6 492.8 699.0 494.3 698.5 495.8 698.1 497.3 697.7 498.8 697.4 500.3 697.1 501.8 696.8 503.3 696.5 504.8 696.2 506.3 695.9 507.8 695.6 509.3 695.3 510.8 695.0 512.3 694.8 513.8 694.5 515.3 694.2 516.8 693.9 518.3 693.6 519.8 693.3 521.3 693.0 522.8 692.7 524.3 692.4 525.8 692.1 527.3 691.8 528.8 691.5 530.3 691.2 531.8 691.0 533.3 690.7 534.8 690.4 536.3 690.1 537.8 689.9 539.3 689.6 540.8 689.3 542.3 689.1 543.8 688.8 545.3 688.5 546.8 688.2 548.3 687.9 549.8 687.7 551.3 687.4 552.8 687.1 554.3 686.8 555.8 686.5 557.3 686.2 558.8 685.9 560.3 685.7 561.8 685.4 563.3 685.1 564.8 684.8 566.3 684.5 567.8 684.2 569.3 683.8 570.8 683.5 572.3 683.1 573.8 682.6 575.3 682.1 576.8 681.6 578.3 681.0 579.8 680.3 581.3 679.5 582.8 678.7 584.3 677.8 585.8 676.9 587.3 675.9 588.8 674.9 590.3 673.8 591.8 672.8 593.3 671.7 594.8 670.6 596.3 669.5 597.8 668.4 599.3 667.2 600.8 666.1 602.3 665.1 603.8 664.0 605.3 662.9 606.8 661.9 608.3 660.9 609.8 660.0 611.3 659.0 612.8 658.1 614.3 657.2 615.8 656.4 617.3 655.5 618.8 654.8 620.3 654.0 621.8 653.3 623.3 652.6 624.8 651.9 626.3 651.3 627.8 650.7 629.3 650.1 630.8 649.6 632.3 649.1 633.8 648.6 635.3 648.2 636.8 647.7 638.3 647.3 639.8 647.0 641.3 646.7 642.8 646.4 644.3 646.2 645.8 645.9 647.3 645.8 648.8 645.6 650.3 645.5 651.8 645.4 653.3 645.3 654.8 645.3 656.3 645.3 657.8 645.3 659.3 645.4 660.8 645.6 662.3 645.8 663.8 646.1 665.3 646.5 666.8 646.9 668.3 647.4 669.8 648.0 671.3 648.7 672.8 649.4 674.3 650.2 675.8 651.1 677.3 652.1 678.8 653.2 680.3 654.4 681.8 655.7 683.3 657.0 684.8 658.4 686.3 659.9 687.8 661.5 689.3 663.2 690.8 664.9 692.3 666.6 693.8 668.4 695.3 670.3 696.8 672.2 698.3 674.1 699.8 676.1 701.3 678.1 702.8 680.2 704.3 682.2 705.8 684.3 707.3 686.5 708.8 688.7 710.3 690.9 711.8 693.1 713.3 695.3 714.8 697.6 716.3 699.8 717.8 702.1 719.3 704.3 720.8 706.6 722.3 708.9 723.8 711.1 725.3 713.4 726.8 715.7 728.3 717.9 729.8 720.1 731.3 722.4 732.8 724.6 734.3 726.9 735.8 729.1 737.3 731.4 738.8 733.6 740.3 735.9 741.8 738.2 743.3 740.6 744.8 743.0 746.3 745.4 747.8 747.9 749.3 750.4 750.8 752.9 752.3 755.4 753.8 758.0 755.3 760.5 756.8 763.0 758.3 765.5 759.8 768.0 761.3 770.5 762.8 772.9 764.3 775.4 765.8 777.9 767.3 780.3 768.8 782.8 770.3 785.3 771.8 787.8 773.3 790.2 774.8 792.7 776.3 795.2 777.8 797.6 779.3 800.1 780.8 802.5 782.3 804.9 783.8 807.3 785.3 809.6 786.8 811.9 788.3 814.2 789.8 816.5 791.3 818.7 792.8 820.9 794.3 823.0 795.8 825.2 797.3 827.2 798.8 829.2 800.3 831.2 801.8 833.1 803.3 835.0 804.8 836.8 806.3 838.5 807.8 840.3 809.3 841.9 810.8 843.6 812.3 845.2 813.8 846.8 815.3 848.3 816.8 849.9 818.3 851.4 819.8 852.9 821.3 854.4 822.8 855.9 824.3 857.4 825.8 858.8 827.3 860.3 828.8 861.7 830.3 863.1 831.8 864.5 833.3 865.8 834.8 867.2 836.3 868.5 837.8 869.9 839.3 871.2 840.8 872.5 842.3 873.8 843.8 875.0 845.3 876.3 846.8 877.6 848.3 878.8 849.8 880.1 851.3 881.3 852.8 882.5 854.3 883.8 855.8 885.0 857.3 886.2 858.8 887.4 860.3 888.6 861.8 889.8 863.3 891.0 864.8 892.2 866.3 893.4 867.8 894.5 869.3 895.6 870.8 896.8 872.3 897.9 873.8 899.0 875.3 900.0 876.8 901.1 878.3 902.2 879.8 903.2 881.3 904.3 882.8 905.3 884.3 906.3 885.8 907.3 887.3 908.3 888.8 909.3 890.3 910.3 891.8 911.3 893.3 912.3 894.8 913.3 896.3 914.2 897.8 915.2 899.3 916.2 900.8 917.1 902.3 918.0 903.8 919.0 905.3 919.9 906.8 920.8 908.3 921.7 909.8 922.7 911.3 923.6 912.8 924.5 914.3 925.4 915.8 926.3 917.3 927.2 918.8 928.1 920.3 929.0 921.8 929.9 923.3 930.8 924.8 931.7 926.3 932.6 927.8 933.4 929.3 934.3 930.8 935.2 932.3 936.1 933.8 937.0 935.3 937.9 936.8 938.7 938.3 939.6 939.8 940.5 941.3 941.3 942.8 942.2 944.3 943.0 945.8 943.9 947.3 944.7 948.8 945.5 950.3 946.3 951.8 947.1 953.3 947.9 954.8 948.7 956.3 949.5 957.8 950.2 959.3 951.0 960.8 951.7 962.3 952.5 963.8 953.2 965.3 954.0 966.8 954.7 968.3 955.5 969.8 956.3 971.3 957.0 972.8 957.8 974.3 958.6 975.8 959.4 977.3 960.2 978.8 961.0 980.3 961.8 981.8 962.6 983.3 963.4 984.8 964.2 986.3 965.0 987.8 965.7 989.3 966.5 990.8 967.3 992.3 968.0 993.8 968.8 995.3 969.6 996.8 970.3 998.3 971.1 999.8 971.8 1001.3 972.5 1002.8 973.3 1004.3 974.0 1005.8 974.8 1007.3 975.5 1008.8 976.2 1010.3 977.0 1011.8 977.7 1013.3 978.4 1014.8 979.2 1016.3 979.9 1017.8 980.6 1019.3 981.3 1020.8 982.0 1022.3 982.6 1023.8 983.3 1025.3 984.0 1026.8 984.6 1028.3 985.2 1029.8 985.9 1031.3 986.5 1032.8 987.1 1034.3 987.7 1035.8 988.2 1037.3 988.8 1038.8 989.4 1040.3 989.9 1041.8 990.5 1043.3 991.1 1044.8 991.6 1046.3 992.1 1047.8 992.7 1049.3 993.2 1050.8 993.7 1052.3 994.2 1053.8 994.7 1055.3 995.2 1056.8 995.7 1058.3 996.2 1059.8 996.7 1061.3 997.2 1062.8 997.7 1064.3 998.2 1065.8 998.7 1067.3 999.1 1068.8 999.6 1070.3 1000.1 1071.8 1000.5 1073.3 1001.0 1074.8 1001.5 1076.3 1001.9 1077.8 1002.4 1079.3 1002.8 1080.8 1003.2 1082.3 1003.7 1083.8 1004.1 1085.3 1004.5 1086.8 1005.0 1088.3 1005.4 1089.8 1005.8 1091.3 1006.2 1092.8 1006.6 1094.3 1007.0 1095.8 1007.4 1097.3 1007.7 1098.8 1008.1 1100.3 1008.5 1101.8 1008.8 1103.3 1009.2 1104.8 1009.5 1106.3 1009.8 1107.8 1010.2 1109.3 1010.5 1110.8 1010.8 1112.3 1011.1 1113.8 1011.4 1115.3 1011.7 1116.8 1012.0 1118.3 1012.3 1119.8 1012.6 1121.3 1012.9 1122.8 1013.2 1124.3 1013.4 1125.8 1013.7 1127.3 1014.0 1128.8 1014.2 1130.3 1014.4 1131.8 1014.7 1133.3 1014.9 1134.8 1015.1 1136.3 1015.4 1137.8 1015.6 1139.3 1015.8 1140.8 1016.0 1142.3 1016.2 1143.8 1016.4 1145.3 1016.5 1146.8 1016.7 1148.3 1016.8 1149.8 1016.9 1151.3 1017.1 1152.8 1017.2 1154.3 1017.3 1155.8 1017.4 1157.3 1017.5 1158.8 1017.6 1160.3 1017.7 1161.8 1017.8 1163.3 1017.8 1164.8 1017.9 1166.3 1018.0 1167.8 1018.1 1169.3 1018.2 1170.8 1018.3 1172.3 1018.4 1173.8 1018.5 1175.3 1018.5 1176.8 1018.6 1178.3 1018.7 1179.8 1018.8 1181.3 1018.9 1182.8 1018.9 1184.3 1019.0 1185.8 1019.1 1187.3 1019.2 1188.8 1019.2 1190.3 1019.3 1191.8 1019.4 1193.3 1019.4 1194.8 1019.5 1196.3 1019.6 1197.8 1019.6 1199.3 1019.7 1200.8 1019.8 1202.3 1019.8 1203.8 1019.9 1205.3 1020.0 1206.8 1020.1 1208.3 1020.1 1209.8 1020.2 1211.3 1020.3 1212.8 1020.3 1214.3 1020.4 1215.8 1020.5 1217.3 1020.5 1218.8 1020.6 1220.3 1020.6 1221.8 1020.7 1223.3 1020.7 1224.8 1020.8 1226.3 1020.8 1227.8 1020.9 1229.3 1020.9 1230.8 1021.0 1232.3 1021.0 1233.8 1021.0 1235.3 1021.1 1236.8 1021.1 1238.3 1021.1 1239.8 1021.2 1240.0 1021.2 1260.0 1021.4 1791.7 1021.4" stroke="#0a4fae"/>
<path d="M287.5 495.5 L291.5 469.5 L293.6 459.6 L295.9 447.6 L298.4 437.6 L300.6 432.8 L302.3 431.6 303.8 433.0 305.3 434.9 306.8 437.4 308.3 440.7 309.8 444.6 311.3 448.5 312.8 452.3 314.3 455.8 315.8 459.2 317.3 462.6 318.8 465.9 320.3 469.0 321.8 472.1 323.3 475.1 324.8 478.0 326.3 480.8 327.8 483.6 329.3 486.2 330.8 488.8 332.3 491.3 333.8 493.8 335.3 496.2 336.8 498.6 338.3 500.8 339.8 503.1 341.3 505.3 342.8 507.5 344.3 509.7 345.8 511.9 347.3 514.1 348.8 516.4 350.3 518.7 351.8 521.1 353.3 523.6 354.8 526.2 356.3 528.8 357.8 531.6 359.3 534.5 360.8 537.5 362.3 540.6 363.8 543.9 365.3 547.3 366.8 550.9 368.3 554.6 369.8 558.4 371.3 562.4 372.8 566.5 374.3 570.7 375.8 574.9 377.3 579.3 378.8 583.6 380.3 588.0 381.8 592.3 383.3 596.7 384.8 601.0 386.3 605.2 387.8 609.5 389.3 613.6 390.8 617.7 392.3 621.7 393.8 625.6 395.3 629.4 396.8 633.1 398.3 636.7 399.8 640.1 401.3 643.3 402.8 646.4 404.3 649.3 405.8 652.1 407.3 654.6 408.8 657.0 410.3 659.3 411.8 661.5 413.3 663.5 414.8 665.6 416.3 667.5 417.8 669.5 419.3 671.4 420.8 673.2 422.3 675.1 423.8 676.8 425.3 678.5 426.8 680.1 428.3 681.6 429.8 683.1 431.3 684.5 432.8 685.9 434.3 687.1 435.8 688.4 437.3 689.6 438.8 690.7 440.3 691.7 441.8 692.7 443.3 693.5 444.8 694.3 446.3 695.0 447.8 695.5 449.3 695.9 450.8 696.2 452.3 696.5 453.8 696.6 455.3 696.6 456.8 696.5 458.3 696.4 459.8 696.1 461.3 695.8 462.8 695.5 464.3 695.1 465.8 694.6 467.3 694.1 468.8 693.5 470.3 692.9 471.8 692.3 473.3 691.7 474.8 691.0 476.3 690.4 477.8 689.8 479.3 689.2 480.8 688.6 482.3 688.1 483.8 687.6 485.3 687.2 486.8 686.7 488.3 686.3 489.8 686.0 491.3 685.6 492.8 685.3 494.3 685.0 495.8 684.8 497.3 684.5 498.8 684.3 500.3 684.0 501.8 683.8 503.3 683.6 504.8 683.4 506.3 683.1 507.8 682.9 509.3 682.7 510.8 682.5 512.3 682.3 513.8 682.1 515.3 681.8 516.8 681.6 518.3 681.4 519.8 681.2 521.3 680.9 522.8 680.7 524.3 680.5 525.8 680.2 527.3 680.0 528.8 679.7 530.3 679.5 531.8 679.2 533.3 679.0 534.8 678.7 536.3 678.4 537.8 678.1 539.3 677.9 540.8 677.6 542.3 677.3 543.8 677.0 545.3 676.7 546.8 676.3 548.3 676.0 549.8 675.7 551.3 675.4 552.8 675.0 554.3 674.7 555.8 674.4 557.3 674.0 558.8 673.7 560.3 673.3 561.8 673.0 563.3 672.6 564.8 672.3 566.3 671.9 567.8 671.5 569.3 671.1 570.8 670.7 572.3 670.3 573.8 669.8 575.3 669.3 576.8 668.8 578.3 668.2 579.8 667.6 581.3 666.9 582.8 666.2 584.3 665.4 585.8 664.6 587.3 663.7 588.8 662.8 590.3 661.9 591.8 660.9 593.3 659.8 594.8 658.8 596.3 657.7 597.8 656.5 599.3 655.4 600.8 654.3 602.3 653.2 603.8 652.1 605.3 651.1 606.8 650.0 608.3 649.0 609.8 648.1 611.3 647.1 612.8 646.2 614.3 645.3 615.8 644.5 617.3 643.6 618.8 642.9 620.3 642.1 621.8 641.4 623.3 640.7 624.8 640.0 626.3 639.4 627.8 638.8 629.3 638.2 630.8 637.7 632.3 637.2 633.8 636.7 635.3 636.2 636.8 635.8 638.3 635.4 639.8 635.1 641.3 634.8 642.8 634.5 644.3 634.3 645.8 634.1 647.3 633.9 648.8 633.7 650.3 633.6 651.8 633.5 653.3 633.5 654.8 633.4 656.3 633.5 657.8 633.5 659.3 633.6 660.8 633.8 662.3 634.0 663.8 634.3 665.3 634.7 666.8 635.1 668.3 635.6 669.8 636.1 671.3 636.7 672.8 637.4 674.3 638.1 675.8 638.8 677.3 639.7 678.8 640.6 680.3 641.6 681.8 642.6 683.3 643.7 684.8 644.9 686.3 646.2 687.8 647.5 689.3 648.9 690.8 650.4 692.3 652.0 693.8 653.6 695.3 655.4 696.8 657.1 698.3 659.0 699.8 660.9 701.3 662.9 702.8 664.9 704.3 666.9 705.8 669.1 707.3 671.2 708.8 673.4 710.3 675.6 711.8 677.8 713.3 680.1 714.8 682.3 716.3 684.6 717.8 686.8 719.3 689.1 720.8 691.4 722.3 693.6 723.8 695.9 725.3 698.1 726.8 700.4 728.3 702.6 729.8 704.9 731.3 707.2 732.8 709.4 734.3 711.7 735.8 713.9 737.3 716.2 738.8 718.4 740.3 720.7 741.8 722.9 743.3 725.2 744.8 727.4 746.3 729.7 747.8 731.9 749.3 734.2 750.8 736.4 752.3 738.7 753.8 740.9 755.3 743.1 756.8 745.3 758.3 747.5 759.8 749.8 761.3 752.1 762.8 754.4 764.3 756.9 765.8 759.5 767.3 762.3 768.8 765.1 770.3 768.1 771.8 771.1 773.3 774.1 774.8 777.1 776.3 780.1 777.8 783.0 779.3 785.9 780.8 788.6 782.3 791.2 783.8 793.7 785.3 796.0 786.8 798.2 788.3 800.3 789.8 802.3 791.3 804.3 792.8 806.1 794.3 807.9 795.8 809.6 797.3 811.4 798.8 813.1 800.3 814.8 801.8 816.4 803.3 818.1 804.8 819.8 806.3 821.5 807.8 823.2 809.3 824.8 810.8 826.5 812.3 828.1 813.8 829.7 815.3 831.3 816.8 832.9 818.3 834.5 819.8 836.1 821.3 837.6 822.8 839.2 824.3 840.7 825.8 842.2 827.3 843.7 828.8 845.2 830.3 846.7 831.8 848.2 833.3 849.6 834.8 851.1 836.3 852.5 837.8 853.9 839.3 855.3 840.8 856.6 842.3 858.0 843.8 859.4 845.3 860.7 846.8 862.0 848.3 863.3 849.8 864.6 851.3 865.9 852.8 867.2 854.3 868.4 855.8 869.7 857.3 870.9 858.8 872.2 860.3 873.4 861.8 874.6 863.3 875.8 864.8 877.0 866.3 878.1 867.8 879.3 869.3 880.5 870.8 881.7 872.3 882.8 873.8 884.0 875.3 885.1 876.8 886.2 878.3 887.4 879.8 888.5 881.3 889.6 882.8 890.7 884.3 891.8 885.8 892.9 887.3 894.0 888.8 895.1 890.3 896.1 891.8 897.2 893.3 898.3 894.8 899.3 896.3 900.4 897.8 901.4 899.3 902.4 900.8 903.5 902.3 904.5 903.8 905.5 905.3 906.5 906.8 907.5 908.3 908.5 909.8 909.5 911.3 910.5 912.8 911.5 914.3 912.4 915.8 913.4 917.3 914.3 918.8 915.3 920.3 916.2 921.8 917.1 923.3 918.0 924.8 919.0 926.3 919.9 927.8 920.7 929.3 921.6 930.8 922.5 932.3 923.4 933.8 924.3 935.3 925.2 936.8 926.1 938.3 927.0 939.8 927.9 941.3 928.8 942.8 929.7 944.3 930.6 945.8 931.5 947.3 932.4 948.8 933.3 950.3 934.2 951.8 935.1 953.3 936.0 954.8 936.9 956.3 937.7 957.8 938.6 959.3 939.4 960.8 940.3 962.3 941.1 963.8 941.9 965.3 942.7 966.8 943.5 968.3 944.3 969.8 945.1 971.3 945.9 972.8 946.7 974.3 947.5 975.8 948.2 977.3 949.0 978.8 949.7 980.3 950.5 981.8 951.2 983.3 952.0 984.8 952.7 986.3 953.4 987.8 954.2 989.3 954.9 990.8 955.6 992.3 956.4 993.8 957.1 995.3 957.8 996.8 958.6 998.3 959.4 999.8 960.2 1001.3 961.0 1002.8 961.8 1004.3 962.7 1005.8 963.6 1007.3 964.4 1008.8 965.3 1010.3 966.2 1011.8 967.1 1013.3 968.0 1014.8 968.9 1016.3 969.7 1017.8 970.6 1019.3 971.5 1020.8 972.3 1022.3 973.1 1023.8 973.9 1025.3 974.7 1026.8 975.5 1028.3 976.3 1029.8 977.0 1031.3 977.7 1032.8 978.5 1034.3 979.2 1035.8 979.9 1037.3 980.6 1038.8 981.2 1040.3 981.9 1041.8 982.6 1043.3 983.3 1044.8 983.9 1046.3 984.6 1047.8 985.2 1049.3 985.9 1050.8 986.5 1052.3 987.2 1053.8 987.8 1055.3 988.4 1056.8 989.0 1058.3 989.6 1059.8 990.2 1061.3 990.8 1062.8 991.4 1064.3 992.0 1065.8 992.6 1067.3 993.2 1068.8 993.8 1070.3 994.3 1071.8 994.9 1073.3 995.5 1074.8 996.0 1076.3 996.6 1077.8 997.1 1079.3 997.6 1080.8 998.2 1082.3 998.7 1083.8 999.2 1085.3 999.7 1086.8 1000.2 1088.3 1000.7 1089.8 1001.2 1091.3 1001.7 1092.8 1002.2 1094.3 1002.7 1095.8 1003.2 1097.3 1003.6 1098.8 1004.1 1100.3 1004.5 1101.8 1005.0 1103.3 1005.4 1104.8 1005.8 1106.3 1006.2 1107.8 1006.6 1109.3 1007.0 1110.8 1007.4 1112.3 1007.8 1113.8 1008.2 1115.3 1008.6 1116.8 1008.9 1118.3 1009.3 1119.8 1009.7 1121.3 1010.0 1122.8 1010.4 1124.3 1010.7 1125.8 1011.0 1127.3 1011.4 1128.8 1011.7 1130.3 1012.0 1131.8 1012.3 1133.3 1012.6 1134.8 1012.9 1136.3 1013.2 1137.8 1013.5 1139.3 1013.7 1140.8 1014.0 1142.3 1014.2 1143.8 1014.4 1145.3 1014.6 1146.8 1014.8 1148.3 1015.0 1149.8 1015.1 1151.3 1015.3 1152.8 1015.4 1154.3 1015.6 1155.8 1015.7 1157.3 1015.9 1158.8 1016.0 1160.3 1016.1 1161.8 1016.3 1163.3 1016.4 1164.8 1016.5 1166.3 1016.7 1167.8 1016.8 1169.3 1016.9 1170.8 1017.0 1172.3 1017.2 1173.8 1017.3 1175.3 1017.4 1176.8 1017.5 1178.3 1017.6 1179.8 1017.8 1181.3 1017.9 1182.8 1018.0 1184.3 1018.1 1185.8 1018.2 1187.3 1018.3 1188.8 1018.4 1190.3 1018.5 1191.8 1018.6 1193.3 1018.7 1194.8 1018.8 1196.3 1018.9 1197.8 1019.0 1199.3 1019.1 1200.8 1019.2 1202.3 1019.3 1203.8 1019.4 1205.3 1019.5 1206.8 1019.6 1208.3 1019.7 1209.8 1019.8 1211.3 1019.9 1212.8 1019.9 1214.3 1020.0 1215.8 1020.1 1217.3 1020.2 1218.8 1020.3 1220.3 1020.4 1221.8 1020.4 1223.3 1020.5 1224.8 1020.6 1226.3 1020.6 1227.8 1020.7 1229.3 1020.8 1230.8 1020.8 1232.3 1020.9 1233.8 1020.9 1235.3 1021.0 1236.8 1021.0 1238.3 1021.0 1239.8 1021.1 1240.0 1021.1 1260.0 1021.4 1791.7 1021.4" stroke="#808080"/>
<path d="M287.5 419.4 L291.5 393.4 L293.6 382.4 L295.9 370.4 L298.4 360.4 L300.6 355.6 L302.3 354.4 303.8 355.2 305.3 356.7 306.8 358.7 308.3 361.9 309.8 365.8 311.3 369.5 312.8 373.3 314.3 377.2 315.8 381.0 317.3 384.7 318.8 388.3 320.3 391.8 321.8 395.2 323.3 398.6 324.8 401.8 326.3 405.0 327.8 408.0 329.3 411.0 330.8 413.9 332.3 416.7 333.8 419.5 335.3 422.2 336.8 425.0 338.3 427.7 339.8 430.5 341.3 433.3 342.8 436.1 344.3 438.9 345.8 441.8 347.3 444.6 348.8 447.5 350.3 450.4 351.8 453.3 353.3 456.3 354.8 459.3 356.3 462.3 357.8 465.5 359.3 468.8 360.8 472.3 362.3 475.9 363.8 479.7 365.3 483.6 366.8 487.7 368.3 491.9 369.8 496.2 371.3 500.5 372.8 504.9 374.3 509.4 375.8 513.8 377.3 518.3 378.8 522.8 380.3 527.4 381.8 531.9 383.3 536.4 384.8 541.0 386.3 545.5 387.8 550.0 389.3 554.4 390.8 558.8 392.3 563.2 393.8 567.4 395.3 571.5 396.8 575.4 398.3 579.2 399.8 582.9 401.3 586.5 402.8 589.9 404.3 593.3 405.8 596.5 407.3 599.6 408.8 602.6 410.3 605.5 411.8 608.2 413.3 610.9 414.8 613.5 416.3 615.9 417.8 618.3 419.3 620.5 420.8 622.7 422.3 624.7 423.8 626.6 425.3 628.4 426.8 630.2 428.3 631.8 429.8 633.4 431.3 634.9 432.8 636.3 434.3 637.7 435.8 638.9 437.3 640.1 438.8 641.2 440.3 642.2 441.8 643.2 443.3 644.1 444.8 644.9 446.3 645.7 447.8 646.4 449.3 647.1 450.8 647.6 452.3 648.1 453.8 648.5 455.3 648.7 456.8 649.0 458.3 649.1 459.8 649.2 461.3 649.3 462.8 649.3 464.3 649.3 465.8 649.3 467.3 649.2 468.8 649.1 470.3 649.0 471.8 648.9 473.3 648.8 474.8 648.6 476.3 648.4 477.8 648.2 479.3 648.0 480.8 647.8 482.3 647.6 483.8 647.4 485.3 647.2 486.8 647.0 488.3 646.8 489.8 646.7 491.3 646.6 492.8 646.6 494.3 646.6 495.8 646.6 497.3 646.7 498.8 646.8 500.3 646.9 501.8 647.1 503.3 647.2 504.8 647.4 506.3 647.5 507.8 647.7 509.3 647.9 510.8 648.0 512.3 648.2 513.8 648.3 515.3 648.5 516.8 648.7 518.3 648.8 519.8 649.0 521.3 649.1 522.8 649.2 524.3 649.4 525.8 649.5 527.3 649.6 528.8 649.7 530.3 649.8 531.8 649.9 533.3 649.9 534.8 650.0 536.3 650.1 537.8 650.1 539.3 650.2 540.8 650.2 542.3 650.2 543.8 650.2 545.3 650.2 546.8 650.1 548.3 650.1 549.8 650.0 551.3 649.9 552.8 649.9 554.3 649.8 555.8 649.6 557.3 649.5 558.8 649.4 560.3 649.3 561.8 649.1 563.3 648.9 564.8 648.8 566.3 648.6 567.8 648.3 569.3 648.1 570.8 647.8 572.3 647.5 573.8 647.2 575.3 646.8 576.8 646.4 578.3 645.9 579.8 645.3 581.3 644.7 582.8 644.0 584.3 643.3 585.8 642.5 587.3 641.7 588.8 640.9 590.3 640.0 591.8 639.1 593.3 638.2 594.8 637.3 596.3 636.4 597.8 635.4 599.3 634.5 600.8 633.6 602.3 632.7 603.8 631.8 605.3 630.9 606.8 630.1 608.3 629.3 609.8 628.5 611.3 627.7 612.8 627.0 614.3 626.3 615.8 625.6 617.3 625.0 618.8 624.4 620.3 623.8 621.8 623.3 623.3 622.8 624.8 622.3 626.3 621.9 627.8 621.5 629.3 621.1 630.8 620.8 632.3 620.5 633.8 620.2 635.3 619.9 636.8 619.7 638.3 619.5 639.8 619.3 641.3 619.1 642.8 618.9 644.3 618.8 645.8 618.7 647.3 618.6 648.8 618.5 650.3 618.5 651.8 618.5 653.3 618.6 654.8 618.6 656.3 618.7 657.8 618.9 659.3 619.1 660.8 619.3 662.3 619.5 663.8 619.8 665.3 620.2 666.8 620.6 668.3 621.0 669.8 621.6 671.3 622.1 672.8 622.8 674.3 623.5 675.8 624.3 677.3 625.2 678.8 626.1 680.3 627.1 681.8 628.2 683.3 629.4 684.8 630.7 686.3 632.0 687.8 633.3 689.3 634.8 690.8 636.2 692.3 637.7 693.8 639.3 695.3 640.8 696.8 642.4 698.3 644.1 699.8 645.8 701.3 647.6 702.8 649.5 704.3 651.4 705.8 653.4 707.3 655.5 708.8 657.6 710.3 659.8 711.8 662.1 713.3 664.4 714.8 666.7 716.3 669.1 717.8 671.4 719.3 673.9 720.8 676.3 722.3 678.7 723.8 681.1 725.3 683.5 726.8 686.0 728.3 688.4 729.8 690.8 731.3 693.3 732.8 695.8 734.3 698.3 735.8 700.8 737.3 703.3 738.8 705.8 740.3 708.3 741.8 710.8 743.3 713.2 744.8 715.7 746.3 718.0 747.8 720.4 749.3 722.7 750.8 725.1 752.3 727.4 753.8 729.7 755.3 731.9 756.8 734.2 758.3 736.5 759.8 738.8 761.3 741.1 762.8 743.4 764.3 745.6 765.8 747.9 767.3 750.2 768.8 752.5 770.3 754.8 771.8 757.1 773.3 759.3 774.8 761.6 776.3 763.9 777.8 766.1 779.3 768.3 780.8 770.5 782.3 772.7 783.8 774.8 785.3 777.0 786.8 779.1 788.3 781.2 789.8 783.3 791.3 785.4 792.8 787.5 794.3 789.5 795.8 791.5 797.3 793.5 798.8 795.5 800.3 797.4 801.8 799.4 803.3 801.3 804.8 803.2 806.3 805.0 807.8 806.9 809.3 808.7 810.8 810.5 812.3 812.3 813.8 814.1 815.3 815.9 816.8 817.7 818.3 819.4 819.8 821.1 821.3 822.9 822.8 824.6 824.3 826.3 825.8 828.0 827.3 829.6 828.8 831.3 830.3 832.9 831.8 834.6 833.3 836.2 834.8 837.8 836.3 839.3 837.8 840.9 839.3 842.4 840.8 844.0 842.3 845.5 843.8 846.9 845.3 848.4 846.8 849.9 848.3 851.3 849.8 852.7 851.3 854.1 852.8 855.5 854.3 856.8 855.8 858.1 857.3 859.4 858.8 860.7 860.3 862.0 861.8 863.3 863.3 864.5 864.8 865.8 866.3 867.0 867.8 868.3 869.3 869.5 870.8 870.7 872.3 872.0 873.8 873.2 875.3 874.4 876.8 875.6 878.3 876.8 879.8 878.0 881.3 879.2 882.8 880.3 884.3 881.5 885.8 882.6 887.3 883.7 888.8 884.8 890.3 885.9 891.8 887.0 893.3 888.0 894.8 889.1 896.3 890.2 897.8 891.2 899.3 892.3 900.8 893.3 902.3 894.4 903.8 895.4 905.3 896.5 906.8 897.6 908.3 898.7 909.8 899.8 911.3 900.9 912.8 902.0 914.3 903.1 915.8 904.2 917.3 905.3 918.8 906.3 920.3 907.4 921.8 908.4 923.3 909.4 924.8 910.4 926.3 911.3 927.8 912.3 929.3 913.3 930.8 914.2 932.3 915.2 933.8 916.1 935.3 917.1 936.8 918.0 938.3 919.0 939.8 920.0 941.3 920.9 942.8 921.9 944.3 922.9 945.8 923.9 947.3 924.9 948.8 925.9 950.3 926.9 951.8 927.9 953.3 928.9 954.8 929.9 956.3 930.9 957.8 931.9 959.3 932.9 960.8 933.9 962.3 934.9 963.8 935.8 965.3 936.8 966.8 937.8 968.3 938.8 969.8 939.8 971.3 940.8 972.8 941.8 974.3 942.7 975.8 943.7 977.3 944.7 978.8 945.6 980.3 946.6 981.8 947.5 983.3 948.4 984.8 949.4 986.3 950.3 987.8 951.2 989.3 952.2 990.8 953.1 992.3 954.0 993.8 954.9 995.3 955.8 996.8 956.7 998.3 957.7 999.8 958.6 1001.3 959.5 1002.8 960.4 1004.3 961.3 1005.8 962.2 1007.3 963.1 1008.8 964.0 1010.3 964.9 1011.8 965.8 1013.3 966.7 1014.8 967.6 1016.3 968.5 1017.8 969.4 1019.3 970.3 1020.8 971.1 1022.3 972.0 1023.8 972.8 1025.3 973.6 1026.8 974.4 1028.3 975.2 1029.8 975.9 1031.3 976.7 1032.8 977.4 1034.3 978.1 1035.8 978.8 1037.3 979.6 1038.8 980.3 1040.3 981.0 1041.8 981.6 1043.3 982.3 1044.8 983.0 1046.3 983.7 1047.8 984.3 1049.3 985.0 1050.8 985.7 1052.3 986.3 1053.8 986.9 1055.3 987.6 1056.8 988.2 1058.3 988.8 1059.8 989.5 1061.3 990.1 1062.8 990.7 1064.3 991.3 1065.8 991.9 1067.3 992.5 1068.8 993.1 1070.3 993.6 1071.8 994.2 1073.3 994.8 1074.8 995.4 1076.3 995.9 1077.8 996.5 1079.3 997.0 1080.8 997.6 1082.3 998.1 1083.8 998.6 1085.3 999.2 1086.8 999.7 1088.3 1000.2 1089.8 1000.7 1091.3 1001.2 1092.8 1001.7 1094.3 1002.2 1095.8 1002.7 1097.3 1003.1 1098.8 1003.6 1100.3 1004.1 1101.8 1004.5 1103.3 1004.9 1104.8 1005.4 1106.3 1005.8 1107.8 1006.2 1109.3 1006.6 1110.8 1007.0 1112.3 1007.4 1113.8 1007.8 1115.3 1008.2 1116.8 1008.6 1118.3 1008.9 1119.8 1009.3 1121.3 1009.7 1122.8 1010.0 1124.3 1010.4 1125.8 1010.7 1127.3 1011.1 1128.8 1011.4 1130.3 1011.7 1131.8 1012.0 1133.3 1012.3 1134.8 1012.6 1136.3 1012.9 1137.8 1013.2 1139.3 1013.5 1140.8 1013.7 1142.3 1013.9 1143.8 1014.1 1145.3 1014.3 1146.8 1014.5 1148.3 1014.7 1149.8 1014.8 1151.3 1015.0 1152.8 1015.1 1154.3 1015.3 1155.8 1015.4 1157.3 1015.6 1158.8 1015.7 1160.3 1015.9 1161.8 1016.0 1163.3 1016.2 1164.8 1016.3 1166.3 1016.4 1167.8 1016.6 1169.3 1016.7 1170.8 1016.8 1172.3 1017.0 1173.8 1017.1 1175.3 1017.2 1176.8 1017.3 1178.3 1017.5 1179.8 1017.6 1181.3 1017.7 1182.8 1017.8 1184.3 1017.9 1185.8 1018.1 1187.3 1018.2 1188.8 1018.3 1190.3 1018.4 1191.8 1018.5 1193.3 1018.6 1194.8 1018.7 1196.3 1018.8 1197.8 1018.9 1199.3 1019.0 1200.8 1019.1 1202.3 1019.2 1203.8 1019.3 1205.3 1019.4 1206.8 1019.5 1208.3 1019.6 1209.8 1019.7 1211.3 1019.8 1212.8 1019.9 1214.3 1020.0 1215.8 1020.1 1217.3 1020.1 1218.8 1020.2 1220.3 1020.3 1221.8 1020.4 1223.3 1020.5 1224.8 1020.5 1226.3 1020.6 1227.8 1020.7 1229.3 1020.7 1230.8 1020.8 1232.3 1020.8 1233.8 1020.9 1235.3 1020.9 1236.8 1021.0 1238.3 1021.0 1239.8 1021.0 1240.0 1021.1 1260.0 1021.4 1791.7 1021.4" stroke="#0078cc"/>
<path d="M287.5 353.5 L291.5 327.5 L293.6 315.5 L295.9 303.5 L298.4 293.5 L300.6 288.7 L302.3 287.5 303.8 288.1 305.3 289.7 306.8 291.9 308.3 296.2 309.8 301.1 311.3 305.0 312.8 308.6 314.3 312.2 315.8 315.7 317.3 319.3 318.8 323.0 320.3 326.7 321.8 330.4 323.3 334.2 324.8 337.9 326.3 341.7 327.8 345.4 329.3 349.1 330.8 352.7 332.3 356.1 333.8 359.5 335.3 362.7 336.8 365.8 338.3 368.9 339.8 371.9 341.3 374.8 342.8 377.7 344.3 380.6 345.8 383.6 347.3 386.5 348.8 389.5 350.3 392.4 351.8 395.5 353.3 398.6 354.8 401.9 356.3 405.2 357.8 408.7 359.3 412.3 360.8 416.0 362.3 419.7 363.8 423.5 365.3 427.3 366.8 431.1 368.3 434.9 369.8 438.8 371.3 442.6 372.8 446.6 374.3 450.7 375.8 454.9 377.3 459.2 378.8 463.6 380.3 468.1 381.8 472.6 383.3 477.2 384.8 481.7 386.3 486.1 387.8 490.6 389.3 494.9 390.8 499.3 392.3 503.6 393.8 507.9 395.3 512.1 396.8 516.3 398.3 520.5 399.8 524.7 401.3 528.8 402.8 533.0 404.3 537.0 405.8 541.0 407.3 545.0 408.8 548.8 410.3 552.5 411.8 556.2 413.3 559.7 414.8 563.1 416.3 566.4 417.8 569.6 419.3 572.7 420.8 575.7 422.3 578.6 423.8 581.3 425.3 584.0 426.8 586.5 428.3 589.0 429.8 591.3 431.3 593.5 432.8 595.7 434.3 597.7 435.8 599.6 437.3 601.4 438.8 603.2 440.3 604.8 441.8 606.3 443.3 607.7 444.8 609.0 446.3 610.2 447.8 611.3 449.3 612.3 450.8 613.2 452.3 614.1 453.8 614.9 455.3 615.6 456.8 616.2 458.3 616.7 459.8 617.2 461.3 617.6 462.8 617.9 464.3 618.3 465.8 618.5 467.3 618.8 468.8 619.0 470.3 619.2 471.8 619.4 473.3 619.6 474.8 619.7 476.3 619.8 477.8 619.9 479.3 620.0 480.8 620.1 482.3 620.2 483.8 620.3 485.3 620.4 486.8 620.5 488.3 620.6 489.8 620.7 491.3 620.9 492.8 621.1 494.3 621.3 495.8 621.6 497.3 621.9 498.8 622.2 500.3 622.6 501.8 623.0 503.3 623.3 504.8 623.7 506.3 624.1 507.8 624.5 509.3 624.8 510.8 625.2 512.3 625.5 513.8 625.9 515.3 626.2 516.8 626.5 518.3 626.8 519.8 627.1 521.3 627.4 522.8 627.7 524.3 628.0 525.8 628.4 527.3 628.7 528.8 629.0 530.3 629.3 531.8 629.6 533.3 629.9 534.8 630.2 536.3 630.5 537.8 630.7 539.3 631.0 540.8 631.3 542.3 631.5 543.8 631.7 545.3 632.0 546.8 632.2 548.3 632.4 549.8 632.6 551.3 632.8 552.8 632.9 554.3 633.1 555.8 633.2 557.3 633.3 558.8 633.3 560.3 633.4 561.8 633.4 563.3 633.4 564.8 633.4 566.3 633.4 567.8 633.3 569.3 633.3 570.8 633.2 572.3 633.1 573.8 633.0 575.3 632.8 576.8 632.6 578.3 632.4 579.8 632.0 581.3 631.6 582.8 631.2 584.3 630.6 585.8 630.1 587.3 629.4 588.8 628.8 590.3 628.1 591.8 627.4 593.3 626.7 594.8 625.9 596.3 625.2 597.8 624.4 599.3 623.7 600.8 623.0 602.3 622.2 603.8 621.6 605.3 620.9 606.8 620.2 608.3 619.6 609.8 619.0 611.3 618.4 612.8 617.9 614.3 617.4 615.8 616.9 617.3 616.4 618.8 616.0 620.3 615.5 621.8 615.1 623.3 614.8 624.8 614.4 626.3 614.1 627.8 613.9 629.3 613.6 630.8 613.4 632.3 613.3 633.8 613.1 635.3 613.0 636.8 612.9 638.3 612.9 639.8 612.8 641.3 612.7 642.8 612.7 644.3 612.6 645.8 612.6 647.3 612.6 648.8 612.6 650.3 612.6 651.8 612.7 653.3 612.8 654.8 612.9 656.3 613.1 657.8 613.3 659.3 613.5 660.8 613.8 662.3 614.1 663.8 614.5 665.3 614.9 666.8 615.3 668.3 615.8 669.8 616.4 671.3 617.0 672.8 617.7 674.3 618.4 675.8 619.2 677.3 620.1 678.8 621.0 680.3 622.0 681.8 623.0 683.3 624.1 684.8 625.3 686.3 626.5 687.8 627.8 689.3 629.1 690.8 630.4 692.3 631.8 693.8 633.2 695.3 634.7 696.8 636.1 698.3 637.7 699.8 639.3 701.3 640.9 702.8 642.7 704.3 644.5 705.8 646.3 707.3 648.3 708.8 650.2 710.3 652.2 711.8 654.2 713.3 656.2 714.8 658.2 716.3 660.2 717.8 662.3 719.3 664.3 720.8 666.4 722.3 668.5 723.8 670.7 725.3 672.8 726.8 675.0 728.3 677.2 729.8 679.5 731.3 681.7 732.8 684.0 734.3 686.2 735.8 688.5 737.3 690.7 738.8 692.9 740.3 695.2 741.8 697.4 743.3 699.7 744.8 701.9 746.3 704.2 747.8 706.5 749.3 708.7 750.8 711.0 752.3 713.3 753.8 715.5 755.3 717.8 756.8 720.0 758.3 722.3 759.8 724.5 761.3 726.7 762.8 729.0 764.3 731.3 765.8 733.5 767.3 735.8 768.8 738.0 770.3 740.3 771.8 742.5 773.3 744.8 774.8 747.0 776.3 749.2 777.8 751.5 779.3 753.7 780.8 755.9 782.3 758.1 783.8 760.3 785.3 762.4 786.8 764.6 788.3 766.8 789.8 768.9 791.3 771.0 792.8 773.1 794.3 775.2 795.8 777.3 797.3 779.4 798.8 781.4 800.3 783.4 801.8 785.4 803.3 787.4 804.8 789.4 806.3 791.3 807.8 793.2 809.3 795.1 810.8 797.0 812.3 798.9 813.8 800.7 815.3 802.6 816.8 804.4 818.3 806.2 819.8 808.0 821.3 809.8 822.8 811.6 824.3 813.4 825.8 815.1 827.3 816.9 828.8 818.6 830.3 820.3 831.8 822.0 833.3 823.7 834.8 825.4 836.3 827.0 837.8 828.6 839.3 830.2 840.8 831.8 842.3 833.4 843.8 835.0 845.3 836.5 846.8 838.0 848.3 839.5 849.8 841.0 851.3 842.4 852.8 843.9 854.3 845.3 855.8 846.7 857.3 848.0 858.8 849.4 860.3 850.7 861.8 852.0 863.3 853.3 864.8 854.6 866.3 855.9 867.8 857.2 869.3 858.5 870.8 859.8 872.3 861.1 873.8 862.3 875.3 863.6 876.8 864.8 878.3 866.1 879.8 867.3 881.3 868.6 882.8 869.8 884.3 871.0 885.8 872.1 887.3 873.3 888.8 874.4 890.3 875.6 891.8 876.7 893.3 877.8 894.8 878.9 896.3 880.0 897.8 881.1 899.3 882.2 900.8 883.3 902.3 884.4 903.8 885.5 905.3 886.7 906.8 887.8 908.3 889.0 909.8 890.1 911.3 891.3 912.8 892.5 914.3 893.6 915.8 894.8 917.3 895.9 918.8 897.0 920.3 898.1 921.8 899.2 923.3 900.3 924.8 901.3 926.3 902.3 927.8 903.3 929.3 904.3 930.8 905.4 932.3 906.4 933.8 907.4 935.3 908.4 936.8 909.4 938.3 910.4 939.8 911.4 941.3 912.5 942.8 913.5 944.3 914.6 945.8 915.6 947.3 916.7 948.8 917.7 950.3 918.8 951.8 919.9 953.3 920.9 954.8 922.0 956.3 923.0 957.8 924.1 959.3 925.2 960.8 926.2 962.3 927.3 963.8 928.4 965.3 929.4 966.8 930.5 968.3 931.5 969.8 932.6 971.3 933.6 972.8 934.6 974.3 935.7 975.8 936.7 977.3 937.7 978.8 938.8 980.3 939.8 981.8 940.8 983.3 941.8 984.8 942.8 986.3 943.8 987.8 944.8 989.3 945.8 990.8 946.8 992.3 947.8 993.8 948.8 995.3 949.7 996.8 950.7 998.3 951.7 999.8 952.7 1001.3 953.7 1002.8 954.6 1004.3 955.6 1005.8 956.6 1007.3 957.6 1008.8 958.6 1010.3 959.5 1011.8 960.5 1013.3 961.5 1014.8 962.5 1016.3 963.5 1017.8 964.4 1019.3 965.4 1020.8 966.3 1022.3 967.2 1023.8 968.1 1025.3 969.0 1026.8 969.8 1028.3 970.7 1029.8 971.5 1031.3 972.3 1032.8 973.1 1034.3 973.9 1035.8 974.7 1037.3 975.4 1038.8 976.2 1040.3 977.0 1041.8 977.7 1043.3 978.4 1044.8 979.2 1046.3 979.9 1047.8 980.6 1049.3 981.4 1050.8 982.1 1052.3 982.8 1053.8 983.5 1055.3 984.2 1056.8 984.9 1058.3 985.5 1059.8 986.2 1061.3 986.9 1062.8 987.6 1064.3 988.2 1065.8 988.9 1067.3 989.5 1068.8 990.1 1070.3 990.8 1071.8 991.4 1073.3 992.0 1074.8 992.6 1076.3 993.2 1077.8 993.8 1079.3 994.4 1080.8 995.0 1082.3 995.6 1083.8 996.2 1085.3 996.8 1086.8 997.3 1088.3 997.9 1089.8 998.4 1091.3 999.0 1092.8 999.5 1094.3 1000.0 1095.8 1000.6 1097.3 1001.1 1098.8 1001.6 1100.3 1002.1 1101.8 1002.6 1103.3 1003.0 1104.8 1003.5 1106.3 1004.0 1107.8 1004.4 1109.3 1004.9 1110.8 1005.3 1112.3 1005.8 1113.8 1006.2 1115.3 1006.6 1116.8 1007.0 1118.3 1007.4 1119.8 1007.8 1121.3 1008.2 1122.8 1008.6 1124.3 1009.0 1125.8 1009.4 1127.3 1009.8 1128.8 1010.1 1130.3 1010.5 1131.8 1010.8 1133.3 1011.2 1134.8 1011.5 1136.3 1011.8 1137.8 1012.2 1139.3 1012.5 1140.8 1012.7 1142.3 1013.0 1143.8 1013.3 1145.3 1013.5 1146.8 1013.7 1148.3 1013.9 1149.8 1014.1 1151.3 1014.2 1152.8 1014.4 1154.3 1014.6 1155.8 1014.7 1157.3 1014.9 1158.8 1015.1 1160.3 1015.2 1161.8 1015.4 1163.3 1015.5 1164.8 1015.7 1166.3 1015.9 1167.8 1016.0 1169.3 1016.2 1170.8 1016.3 1172.3 1016.5 1173.8 1016.6 1175.3 1016.7 1176.8 1016.9 1178.3 1017.0 1179.8 1017.1 1181.3 1017.3 1182.8 1017.4 1184.3 1017.5 1185.8 1017.7 1187.3 1017.8 1188.8 1017.9 1190.3 1018.0 1191.8 1018.2 1193.3 1018.3 1194.8 1018.4 1196.3 1018.5 1197.8 1018.6 1199.3 1018.7 1200.8 1018.8 1202.3 1018.9 1203.8 1019.1 1205.3 1019.2 1206.8 1019.3 1208.3 1019.4 1209.8 1019.5 1211.3 1019.6 1212.8 1019.7 1214.3 1019.8 1215.8 1019.9 1217.3 1020.0 1218.8 1020.1 1220.3 1020.2 1221.8 1020.3 1223.3 1020.4 1224.8 1020.4 1226.3 1020.5 1227.8 1020.6 1229.3 1020.7 1230.8 1020.7 1232.3 1020.8 1233.8 1020.8 1235.3 1020.9 1236.8 1020.9 1238.3 1021.0 1239.8 1021.0 1240.0 1021.1 1260.0 1021.4 1791.7 1021.4" stroke="#c8c8c8"/>
<path d="M287.5 280.8 L291.5 254.8 L293.6 241.7 L295.9 229.7 L298.4 219.7 L300.6 214.9 L302.3 213.7 303.8 214.3 305.3 215.7 306.8 217.8 308.3 221.8 309.8 226.6 311.3 230.7 312.8 234.8 314.3 238.8 315.8 242.9 317.3 246.9 318.8 250.9 320.3 254.8 321.8 258.6 323.3 262.5 324.8 266.2 326.3 269.9 327.8 273.5 329.3 277.1 330.8 280.6 332.3 284.0 333.8 287.4 335.3 290.8 336.8 294.1 338.3 297.4 339.8 300.7 341.3 304.0 342.8 307.2 344.3 310.5 345.8 313.7 347.3 316.9 348.8 320.2 350.3 323.4 351.8 326.7 353.3 330.1 354.8 333.5 356.3 337.1 357.8 340.8 359.3 344.6 360.8 348.6 362.3 352.7 363.8 356.9 365.3 361.2 366.8 365.7 368.3 370.2 369.8 374.9 371.3 379.6 372.8 384.4 374.3 389.3 375.8 394.2 377.3 399.2 378.8 404.1 380.3 409.1 381.8 414.0 383.3 418.8 384.8 423.5 386.3 428.1 387.8 432.6 389.3 437.0 390.8 441.2 392.3 445.4 393.8 449.5 395.3 453.5 396.8 457.5 398.3 461.6 399.8 465.6 401.3 469.7 402.8 473.7 404.3 477.7 405.8 481.7 407.3 485.6 408.8 489.5 410.3 493.2 411.8 496.9 413.3 500.5 414.8 504.1 416.3 507.5 417.8 510.9 419.3 514.3 420.8 517.6 422.3 520.8 423.8 524.0 425.3 527.1 426.8 530.2 428.3 533.1 429.8 536.0 431.3 538.9 432.8 541.6 434.3 544.2 435.8 546.8 437.3 549.2 438.8 551.5 440.3 553.7 441.8 555.8 443.3 557.8 444.8 559.7 446.3 561.4 447.8 563.1 449.3 564.6 450.8 566.1 452.3 567.4 453.8 568.7 455.3 569.8 456.8 570.8 458.3 571.7 459.8 572.6 461.3 573.3 462.8 574.0 464.3 574.6 465.8 575.1 467.3 575.6 468.8 576.1 470.3 576.5 471.8 576.9 473.3 577.3 474.8 577.7 476.3 578.0 477.8 578.4 479.3 578.7 480.8 579.1 482.3 579.4 483.8 579.7 485.3 580.0 486.8 580.4 488.3 580.7 489.8 581.1 491.3 581.4 492.8 581.9 494.3 582.3 495.8 582.8 497.3 583.3 498.8 583.8 500.3 584.4 501.8 585.0 503.3 585.6 504.8 586.2 506.3 586.8 507.8 587.4 509.3 588.0 510.8 588.6 512.3 589.2 513.8 589.8 515.3 590.4 516.8 591.0 518.3 591.6 519.8 592.2 521.3 592.8 522.8 593.4 524.3 594.0 525.8 594.6 527.3 595.2 528.8 595.8 530.3 596.4 531.8 597.0 533.3 597.6 534.8 598.2 536.3 598.8 537.8 599.4 539.3 599.9 540.8 600.5 542.3 601.0 543.8 601.5 545.3 602.1 546.8 602.6 548.3 603.0 549.8 603.5 551.3 604.0 552.8 604.4 554.3 604.9 555.8 605.3 557.3 605.7 558.8 606.1 560.3 606.5 561.8 606.8 563.3 607.2 564.8 607.5 566.3 607.8 567.8 608.1 569.3 608.4 570.8 608.6 572.3 608.8 573.8 609.0 575.3 609.1 576.8 609.2 578.3 609.3 579.8 609.3 581.3 609.3 582.8 609.3 584.3 609.3 585.8 609.3 587.3 609.2 588.8 609.1 590.3 608.9 591.8 608.7 593.3 608.5 594.8 608.2 596.3 607.8 597.8 607.5 599.3 607.1 600.8 606.6 602.3 606.2 603.8 605.7 605.3 605.3 606.8 604.8 608.3 604.4 609.8 604.0 611.3 603.6 612.8 603.2 614.3 602.9 615.8 602.5 617.3 602.2 618.8 602.0 620.3 601.7 621.8 601.4 623.3 601.2 624.8 601.0 626.3 600.7 627.8 600.5 629.3 600.3 630.8 600.1 632.3 599.9 633.8 599.7 635.3 599.5 636.8 599.3 638.3 599.2 639.8 599.0 641.3 598.9 642.8 598.9 644.3 598.8 645.8 598.8 647.3 598.9 648.8 599.0 650.3 599.1 651.8 599.3 653.3 599.5 654.8 599.7 656.3 600.0 657.8 600.3 659.3 600.7 660.8 601.1 662.3 601.6 663.8 602.1 665.3 602.7 666.8 603.4 668.3 604.1 669.8 604.8 671.3 605.6 672.8 606.4 674.3 607.2 675.8 608.1 677.3 609.0 678.8 609.9 680.3 610.9 681.8 611.9 683.3 612.9 684.8 614.0 686.3 615.2 687.8 616.4 689.3 617.7 690.8 619.0 692.3 620.4 693.8 621.9 695.3 623.5 696.8 625.1 698.3 626.9 699.8 628.6 701.3 630.5 702.8 632.3 704.3 634.2 705.8 636.2 707.3 638.2 708.8 640.2 710.3 642.3 711.8 644.4 713.3 646.5 714.8 648.7 716.3 650.9 717.8 653.1 719.3 655.3 720.8 657.6 722.3 659.8 723.8 662.1 725.3 664.4 726.8 666.6 728.3 668.9 729.8 671.2 731.3 673.6 732.8 675.9 734.3 678.3 735.8 680.7 737.3 683.1 738.8 685.5 740.3 688.0 741.8 690.4 743.3 692.8 744.8 695.1 746.3 697.5 747.8 699.8 749.3 702.1 750.8 704.3 752.3 706.6 753.8 708.8 755.3 711.1 756.8 713.4 758.3 715.6 759.8 717.9 761.3 720.2 762.8 722.5 764.3 724.8 765.8 727.1 767.3 729.4 768.8 731.7 770.3 734.1 771.8 736.4 773.3 738.7 774.8 741.0 776.3 743.3 777.8 745.6 779.3 747.9 780.8 750.2 782.3 752.4 783.8 754.7 785.3 756.9 786.8 759.1 788.3 761.3 789.8 763.5 791.3 765.7 792.8 767.8 794.3 770.0 795.8 772.1 797.3 774.2 798.8 776.3 800.3 778.3 801.8 780.3 803.3 782.4 804.8 784.4 806.3 786.3 807.8 788.3 809.3 790.2 810.8 792.2 812.3 794.1 813.8 796.0 815.3 797.8 816.8 799.7 818.3 801.6 819.8 803.4 821.3 805.3 822.8 807.1 824.3 808.9 825.8 810.7 827.3 812.5 828.8 814.3 830.3 816.0 831.8 817.8 833.3 819.5 834.8 821.2 836.3 822.9 837.8 824.6 839.3 826.2 840.8 827.9 842.3 829.5 843.8 831.1 845.3 832.7 846.8 834.2 848.3 835.8 849.8 837.3 851.3 838.8 852.8 840.2 854.3 841.7 855.8 843.1 857.3 844.5 858.8 845.9 860.3 847.2 861.8 848.6 863.3 849.9 864.8 851.3 866.3 852.6 867.8 853.9 869.3 855.2 870.8 856.5 872.3 857.8 873.8 859.1 875.3 860.4 876.8 861.7 878.3 863.0 879.8 864.3 881.3 865.5 882.8 866.8 884.3 868.0 885.8 869.2 887.3 870.4 888.8 871.5 890.3 872.7 891.8 873.8 893.3 875.0 894.8 876.1 896.3 877.2 897.8 878.3 899.3 879.5 900.8 880.6 902.3 881.7 903.8 882.9 905.3 884.1 906.8 885.3 908.3 886.5 909.8 887.7 911.3 888.9 912.8 890.1 914.3 891.3 915.8 892.5 917.3 893.6 918.8 894.8 920.3 895.9 921.8 897.0 923.3 898.1 924.8 899.2 926.3 900.3 927.8 901.3 929.3 902.4 930.8 903.4 932.3 904.4 933.8 905.5 935.3 906.5 936.8 907.6 938.3 908.6 939.8 909.7 941.3 910.8 942.8 911.9 944.3 912.9 945.8 914.0 947.3 915.1 948.8 916.2 950.3 917.3 951.8 918.4 953.3 919.5 954.8 920.6 956.3 921.7 957.8 922.8 959.3 923.9 960.8 925.0 962.3 926.1 963.8 927.2 965.3 928.3 966.8 929.4 968.3 930.5 969.8 931.6 971.3 932.7 972.8 933.8 974.3 934.8 975.8 935.9 977.3 937.0 978.8 938.0 980.3 939.1 981.8 940.2 983.3 941.2 984.8 942.3 986.3 943.3 987.8 944.3 989.3 945.4 990.8 946.4 992.3 947.4 993.8 948.5 995.3 949.5 996.8 950.5 998.3 951.5 999.8 952.6 1001.3 953.6 1002.8 954.6 1004.3 955.6 1005.8 956.6 1007.3 957.7 1008.8 958.7 1010.3 959.7 1011.8 960.8 1013.3 961.8 1014.8 962.8 1016.3 963.9 1017.8 964.9 1019.3 965.8 1020.8 966.8 1022.3 967.8 1023.8 968.7 1025.3 969.6 1026.8 970.5 1028.3 971.4 1029.8 972.3 1031.3 973.1 1032.8 974.0 1034.3 974.8 1035.8 975.6 1037.3 976.4 1038.8 977.2 1040.3 978.0 1041.8 978.8 1043.3 979.6 1044.8 980.3 1046.3 981.1 1047.8 981.9 1049.3 982.6 1050.8 983.4 1052.3 984.1 1053.8 984.9 1055.3 985.6 1056.8 986.3 1058.3 987.0 1059.8 987.7 1061.3 988.4 1062.8 989.1 1064.3 989.8 1065.8 990.5 1067.3 991.2 1068.8 991.9 1070.3 992.5 1071.8 993.2 1073.3 993.8 1074.8 994.5 1076.3 995.1 1077.8 995.7 1079.3 996.4 1080.8 997.0 1082.3 997.6 1083.8 998.2 1085.3 998.8 1086.8 999.4 1088.3 1000.0 1089.8 1000.5 1091.3 1001.1 1092.8 1001.7 1094.3 1002.2 1095.8 1002.8 1097.3 1003.3 1098.8 1003.9 1100.3 1004.4 1101.8 1004.9 1103.3 1005.4 1104.8 1005.9 1106.3 1006.4 1107.8 1006.8 1109.3 1007.3 1110.8 1007.8 1112.3 1008.2 1113.8 1008.7 1115.3 1009.1 1116.8 1009.6 1118.3 1010.0 1119.8 1010.4 1121.3 1010.9 1122.8 1011.3 1124.3 1011.7 1125.8 1012.1 1127.3 1012.5 1128.8 1012.9 1130.3 1013.2 1131.8 1013.6 1133.3 1014.0 1134.8 1014.3 1136.3 1014.7 1137.8 1015.0 1139.3 1015.3 1140.8 1015.6 1142.3 1015.9 1143.8 1016.1 1145.3 1016.3 1146.8 1016.5 1148.3 1016.7 1149.8 1016.8 1151.3 1017.0 1152.8 1017.1 1154.3 1017.2 1155.8 1017.3 1157.3 1017.5 1158.8 1017.6 1160.3 1017.7 1161.8 1017.8 1163.3 1017.9 1164.8 1018.0 1166.3 1018.1 1167.8 1018.2 1169.3 1018.3 1170.8 1018.4 1172.3 1018.5 1173.8 1018.6 1175.3 1018.7 1176.8 1018.8 1178.3 1018.8 1179.8 1018.9 1181.3 1019.0 1182.8 1019.1 1184.3 1019.2 1185.8 1019.2 1187.3 1019.3 1188.8 1019.4 1190.3 1019.5 1191.8 1019.5 1193.3 1019.6 1194.8 1019.7 1196.3 1019.7 1197.8 1019.8 1199.3 1019.8 1200.8 1019.9 1202.3 1020.0 1203.8 1020.1 1205.3 1020.1 1206.8 1020.2 1208.3 1020.3 1209.8 1020.3 1211.3 1020.4 1212.8 1020.5 1214.3 1020.5 1215.8 1020.6 1217.3 1020.6 1218.8 1020.7 1220.3 1020.7 1221.8 1020.8 1223.3 1020.8 1224.8 1020.9 1226.3 1020.9 1227.8 1021.0 1229.3 1021.0 1230.8 1021.0 1232.3 1021.1 1233.8 1021.1 1235.3 1021.1 1236.8 1021.2 1238.3 1021.2 1239.8 1021.2 1240.0 1021.2 1260.0 1021.4 1791.7 1021.4" stroke="#8ec4ea"/>
<path d="M287.5 221.5 L291.5 195.5 L293.6 181.5 L295.9 169.5 L298.4 159.5 L300.6 154.7 L302.3 153.5 303.8 154.3 305.3 155.7 306.8 157.6 308.3 160.3 309.8 163.7 311.3 167.3 312.8 171.3 314.3 175.6 315.8 179.9 317.3 184.3 318.8 188.7 320.3 193.2 321.8 197.7 323.3 202.1 324.8 206.6 326.3 211.0 327.8 215.4 329.3 219.8 330.8 224.1 332.3 228.3 333.8 232.4 335.3 236.5 336.8 240.4 338.3 244.3 339.8 248.1 341.3 251.8 342.8 255.4 344.3 259.0 345.8 262.5 347.3 265.9 348.8 269.3 350.3 272.6 351.8 275.9 353.3 279.2 354.8 282.5 356.3 285.8 357.8 289.2 359.3 292.7 360.8 296.4 362.3 300.1 363.8 304.1 365.3 308.3 366.8 312.7 368.3 317.3 369.8 322.1 371.3 327.2 372.8 332.4 374.3 337.7 375.8 343.0 377.3 348.4 378.8 353.7 380.3 359.0 381.8 364.3 383.3 369.6 384.8 374.8 386.3 380.1 387.8 385.4 389.3 390.7 390.8 396.1 392.3 401.5 393.8 407.1 395.3 412.6 396.8 418.2 398.3 423.6 399.8 429.0 401.3 434.3 402.8 439.4 404.3 444.3 405.8 449.0 407.3 453.5 408.8 457.8 410.3 461.9 411.8 465.9 413.3 469.7 414.8 473.4 416.3 477.0 417.8 480.4 419.3 483.8 420.8 487.0 422.3 490.2 423.8 493.2 425.3 496.2 426.8 499.0 428.3 501.8 429.8 504.5 431.3 507.2 432.8 509.7 434.3 512.3 435.8 514.7 437.3 517.1 438.8 519.5 440.3 521.8 441.8 524.1 443.3 526.2 444.8 528.3 446.3 530.4 447.8 532.3 449.3 534.1 450.8 535.9 452.3 537.5 453.8 539.1 455.3 540.6 456.8 542.0 458.3 543.4 459.8 544.7 461.3 546.0 462.8 547.2 464.3 548.3 465.8 549.4 467.3 550.5 468.8 551.5 470.3 552.4 471.8 553.3 473.3 554.1 474.8 554.8 476.3 555.5 477.8 556.1 479.3 556.7 480.8 557.3 482.3 557.8 483.8 558.3 485.3 558.8 486.8 559.3 488.3 559.8 489.8 560.3 491.3 560.8 492.8 561.3 494.3 561.8 495.8 562.4 497.3 563.0 498.8 563.6 500.3 564.3 501.8 565.1 503.3 565.8 504.8 566.6 506.3 567.4 507.8 568.3 509.3 569.1 510.8 570.0 512.3 570.9 513.8 571.7 515.3 572.6 516.8 573.4 518.3 574.3 519.8 575.1 521.3 575.9 522.8 576.7 524.3 577.5 525.8 578.2 527.3 579.0 528.8 579.7 530.3 580.5 531.8 581.2 533.3 581.9 534.8 582.6 536.3 583.3 537.8 584.0 539.3 584.7 540.8 585.4 542.3 586.1 543.8 586.8 545.3 587.4 546.8 588.1 548.3 588.7 549.8 589.3 551.3 589.9 552.8 590.5 554.3 591.1 555.8 591.7 557.3 592.2 558.8 592.7 560.3 593.3 561.8 593.8 563.3 594.3 564.8 594.8 566.3 595.3 567.8 595.8 569.3 596.3 570.8 596.7 572.3 597.2 573.8 597.7 575.3 598.1 576.8 598.6 578.3 598.9 579.8 599.2 581.3 599.5 582.8 599.6 584.3 599.7 585.8 599.7 587.3 599.7 588.8 599.5 590.3 599.3 591.8 599.1 593.3 598.8 594.8 598.5 596.3 598.2 597.8 597.9 599.3 597.6 600.8 597.3 602.3 597.0 603.8 596.7 605.3 596.5 606.8 596.3 608.3 596.2 609.8 596.0 611.3 595.9 612.8 595.9 614.3 595.8 615.8 595.8 617.3 595.7 618.8 595.7 620.3 595.7 621.8 595.7 623.3 595.6 624.8 595.6 626.3 595.6 627.8 595.6 629.3 595.6 630.8 595.6 632.3 595.6 633.8 595.6 635.3 595.6 636.8 595.6 638.3 595.6 639.8 595.6 641.3 595.6 642.8 595.6 644.3 595.6 645.8 595.6 647.3 595.7 648.8 595.7 650.3 595.8 651.8 596.0 653.3 596.1 654.8 596.4 656.3 596.7 657.8 597.0 659.3 597.5 660.8 597.9 662.3 598.4 663.8 599.0 665.3 599.6 666.8 600.2 668.3 600.8 669.8 601.5 671.3 602.2 672.8 603.0 674.3 603.8 675.8 604.6 677.3 605.5 678.8 606.4 680.3 607.4 681.8 608.4 683.3 609.4 684.8 610.5 686.3 611.6 687.8 612.9 689.3 614.1 690.8 615.5 692.3 616.9 693.8 618.4 695.3 620.0 696.8 621.7 698.3 623.4 699.8 625.2 701.3 627.0 702.8 628.9 704.3 630.8 705.8 632.7 707.3 634.7 708.8 636.7 710.3 638.8 711.8 640.9 713.3 643.0 714.8 645.2 716.3 647.4 717.8 649.6 719.3 651.9 720.8 654.1 722.3 656.4 723.8 658.6 725.3 660.9 726.8 663.1 728.3 665.4 729.8 667.7 731.3 670.0 732.8 672.4 734.3 674.8 735.8 677.2 737.3 679.6 738.8 682.1 740.3 684.5 741.8 686.9 743.3 689.3 744.8 691.7 746.3 694.0 747.8 696.3 749.3 698.6 750.8 700.8 752.3 703.1 753.8 705.4 755.3 707.6 756.8 709.9 758.3 712.1 759.8 714.4 761.3 716.7 762.8 718.9 764.3 721.3 765.8 723.6 767.3 725.9 768.8 728.2 770.3 730.6 771.8 732.9 773.3 735.2 774.8 737.5 776.3 739.8 777.8 742.1 779.3 744.4 780.8 746.7 782.3 748.9 783.8 751.2 785.3 753.4 786.8 755.6 788.3 757.8 789.8 760.0 791.3 762.2 792.8 764.3 794.3 766.5 795.8 768.6 797.3 770.7 798.8 772.8 800.3 774.8 801.8 776.8 803.3 778.9 804.8 780.9 806.3 782.8 807.8 784.8 809.3 786.7 810.8 788.7 812.3 790.6 813.8 792.5 815.3 794.3 816.8 796.2 818.3 798.1 819.8 799.9 821.3 801.8 822.8 803.6 824.3 805.4 825.8 807.2 827.3 809.0 828.8 810.8 830.3 812.5 831.8 814.3 833.3 816.0 834.8 817.7 836.3 819.4 837.8 821.1 839.3 822.7 840.8 824.4 842.3 826.0 843.8 827.6 845.3 829.2 846.8 830.7 848.3 832.3 849.8 833.8 851.3 835.3 852.8 836.7 854.3 838.2 855.8 839.6 857.3 841.0 858.8 842.4 860.3 843.7 861.8 845.1 863.3 846.4 864.8 847.8 866.3 849.1 867.8 850.4 869.3 851.7 870.8 853.0 872.3 854.3 873.8 855.6 875.3 856.9 876.8 858.2 878.3 859.5 879.8 860.8 881.3 862.0 882.8 863.3 884.3 864.5 885.8 865.7 887.3 866.9 888.8 868.0 890.3 869.2 891.8 870.3 893.3 871.5 894.8 872.6 896.3 873.7 897.8 874.8 899.3 875.9 900.8 877.1 902.3 878.2 903.8 879.4 905.3 880.6 906.8 881.8 908.3 883.0 909.8 884.2 911.3 885.4 912.8 886.6 914.3 887.8 915.8 889.0 917.3 890.1 918.8 891.3 920.3 892.4 921.8 893.5 923.3 894.6 924.8 895.7 926.3 896.8 927.8 897.8 929.3 898.9 930.8 899.9 932.3 900.9 933.8 902.0 935.3 903.0 936.8 904.1 938.3 905.1 939.8 906.2 941.3 907.3 942.8 908.4 944.3 909.4 945.8 910.5 947.3 911.6 948.8 912.7 950.3 913.8 951.8 914.9 953.3 916.0 954.8 917.1 956.3 918.2 957.8 919.3 959.3 920.4 960.8 921.5 962.3 922.6 963.8 923.7 965.3 924.8 966.8 925.9 968.3 927.0 969.8 928.1 971.3 929.2 972.8 930.3 974.3 931.3 975.8 932.4 977.3 933.5 978.8 934.5 980.3 935.6 981.8 936.7 983.3 937.7 984.8 938.8 986.3 939.8 987.8 940.8 989.3 941.9 990.8 942.9 992.3 943.9 993.8 945.0 995.3 946.0 996.8 947.0 998.3 948.0 999.8 949.0 1001.3 950.1 1002.8 951.1 1004.3 952.1 1005.8 953.1 1007.3 954.2 1008.8 955.2 1010.3 956.2 1011.8 957.3 1013.3 958.3 1014.8 959.3 1016.3 960.4 1017.8 961.4 1019.3 962.4 1020.8 963.3 1022.3 964.3 1023.8 965.2 1025.3 966.1 1026.8 967.0 1028.3 967.9 1029.8 968.8 1031.3 969.6 1032.8 970.5 1034.3 971.3 1035.8 972.1 1037.3 972.9 1038.8 973.7 1040.3 974.5 1041.8 975.3 1043.3 976.1 1044.8 976.8 1046.3 977.6 1047.8 978.4 1049.3 979.1 1050.8 979.9 1052.3 980.6 1053.8 981.4 1055.3 982.1 1056.8 982.8 1058.3 983.5 1059.8 984.2 1061.3 984.9 1062.8 985.6 1064.3 986.3 1065.8 987.0 1067.3 987.7 1068.8 988.4 1070.3 989.0 1071.8 989.7 1073.3 990.3 1074.8 991.0 1076.3 991.6 1077.8 992.2 1079.3 992.9 1080.8 993.5 1082.3 994.1 1083.8 994.7 1085.3 995.3 1086.8 995.9 1088.3 996.5 1089.8 997.0 1091.3 997.6 1092.8 998.2 1094.3 998.7 1095.8 999.3 1097.3 999.8 1098.8 1000.4 1100.3 1000.9 1101.8 1001.4 1103.3 1002.0 1104.8 1002.5 1106.3 1003.0 1107.8 1003.5 1109.3 1004.0 1110.8 1004.5 1112.3 1005.0 1113.8 1005.5 1115.3 1005.9 1116.8 1006.4 1118.3 1006.9 1119.8 1007.3 1121.3 1007.8 1122.8 1008.2 1124.3 1008.6 1125.8 1009.1 1127.3 1009.5 1128.8 1009.9 1130.3 1010.3 1131.8 1010.7 1133.3 1011.1 1134.8 1011.5 1136.3 1011.9 1137.8 1012.2 1139.3 1012.6 1140.8 1012.9 1142.3 1013.3 1143.8 1013.6 1145.3 1014.0 1146.8 1014.3 1148.3 1014.6 1149.8 1015.0 1151.3 1015.3 1152.8 1015.6 1154.3 1015.9 1155.8 1016.2 1157.3 1016.5 1158.8 1016.8 1160.3 1017.1 1161.8 1017.3 1163.3 1017.6 1164.8 1017.9 1166.3 1018.1 1167.8 1018.4 1169.3 1018.6 1170.8 1018.9 1172.3 1019.1 1173.8 1019.3 1175.3 1019.6 1176.8 1019.8 1178.3 1020.0 1179.8 1020.2 1181.3 1020.4 1182.8 1020.6 1184.3 1020.8 1185.8 1021.0 1187.3 1021.1 1188.8 1021.3 1190.3 1021.5 1191.8 1021.6 1193.3 1021.8 1194.8 1021.9 1196.3 1022.0 1197.8 1022.1 1199.3 1022.3 1200.8 1022.4 1202.3 1022.5 1203.8 1022.5 1205.3 1022.6 1206.8 1022.7 1208.3 1022.8 1209.8 1022.8 1211.3 1022.9 1212.8 1022.9 1214.3 1023.0 1215.8 1023.0 1217.3 1023.0 1218.8 1023.1 1220.3 1023.1 1221.8 1023.1 1223.3 1023.1 1224.8 1023.2 1226.3 1023.2 1227.8 1023.2 1229.3 1023.2 1230.8 1023.2 1232.3 1023.2 1233.8 1023.2 1235.3 1023.2 1236.8 1023.2 1238.3 1023.2 1239.8 1023.2 1240.0 1023.3 1260.0 1023.3 1791.7 1023.3" stroke="#002f6b"/>
</g>
<g font-family="'Liberation Sans', sans-serif" fill="#000000">
<text x="174.87" y="94.50" font-size="51.60" textLength="68.31" lengthAdjust="spacingAndGlyphs">0.5</text>
<text x="174.87" y="283.66" font-size="51.60" textLength="68.31" lengthAdjust="spacingAndGlyphs">0.4</text>
<text x="174.87" y="472.82" font-size="51.60" textLength="68.31" lengthAdjust="spacingAndGlyphs">0.3</text>
<text x="174.84" y="661.98" font-size="51.60" textLength="69.34" lengthAdjust="spacingAndGlyphs">0.2</text>
<text x="174.84" y="851.14" font-size="51.60" textLength="69.34" lengthAdjust="spacingAndGlyphs">0.1</text>
<text x="216.38" y="1040.30" font-size="51.60" textLength="27.13" lengthAdjust="spacingAndGlyphs">0</text>
<text x="254.02" y="1111.90" font-size="51.60" textLength="83.72" lengthAdjust="spacingAndGlyphs">270</text>
<text x="536.42" y="1111.90" font-size="51.60" textLength="83.72" lengthAdjust="spacingAndGlyphs">370</text>
<text x="819.82" y="1111.90" font-size="51.60" textLength="82.70" lengthAdjust="spacingAndGlyphs">470</text>
<text x="1101.22" y="1111.90" font-size="51.60" textLength="83.72" lengthAdjust="spacingAndGlyphs">570</text>
<text x="1383.62" y="1111.90" font-size="51.60" textLength="83.72" lengthAdjust="spacingAndGlyphs">670</text>
<text x="1666.02" y="1111.90" font-size="51.60" textLength="83.72" lengthAdjust="spacingAndGlyphs">770</text>
</g>
<g font-family="'Liberation Sans', sans-serif" font-weight="bold" fill="#000000">
<text x="865.00" y="1224.10" font-size="55.40" textLength="403.88" lengthAdjust="spacingAndGlyphs">Wavelength, nm</text>
<g transform="translate(129.5,0) rotate(-90)"><text x="-794.91" y="0.00" font-size="55.40" textLength="383.06" lengthAdjust="spacingAndGlyphs">Absorbance, au</text></g>
</g>
<g fill="#0f6bcc" stroke="none">
<rect x="913.7" y="645" width="6.8" height="190"/>
<polygon points="917.1,621.5 932,650 902.2,650"/>
</g>
<g stroke="#000000" stroke-width="3.8" fill="none">
<line x1="1308.8" y1="73.9" x2="1308.8" y2="619.5"/>
<line x1="1292.8" y1="606.7" x2="1870" y2="606.7" stroke-width="3.5"/>
<line x1="1292.8" y1="75.6" x2="1308.8" y2="75.6" stroke-width="3.4"/>
<line x1="1292.8" y1="252.6" x2="1308.8" y2="252.6" stroke-width="3.4"/>
<line x1="1292.8" y1="429.5" x2="1308.8" y2="429.5" stroke-width="3.4"/>
<line x1="1577.2" y1="606.5" x2="1577.2" y2="619.5"/>
<line x1="1847.8" y1="606.5" x2="1847.8" y2="619.5"/>
</g>
<g fill="#000000">
<circle cx="1309.0" cy="488.4" r="10.6"/>
<circle cx="1334.4" cy="469.3" r="10.6"/>
<circle cx="1361.2" cy="450.8" r="10.6"/>
<circle cx="1388.0" cy="429.1" r="10.6"/>
<circle cx="1415.4" cy="411.8" r="10.6"/>
<circle cx="1443.0" cy="398.3" r="10.6"/>
<circle cx="1471.0" cy="390.8" r="10.6"/>
<circle cx="1498.0" cy="366.4" r="10.6"/>
<circle cx="1525.2" cy="354.5" r="10.6"/>
<circle cx="1551.0" cy="341.8" r="10.6"/>
<circle cx="1577.2" cy="309.6" r="10.6"/>
<circle cx="1632.0" cy="270.3" r="10.6"/>
<circle cx="1686.2" cy="253.3" r="10.6"/>
<circle cx="1740.8" cy="261.3" r="10.6"/>
<circle cx="1793.8" cy="234.7" r="10.6"/>
<circle cx="1848.0" cy="226.2" r="10.6"/>
</g>
<clipPath id="insetclip"><rect x="1290" y="60" width="580" height="560"/></clipPath>
<g stroke="#1068cc" stroke-width="6.8" fill="none" stroke-linejoin="miter">
<polyline points="1299.2,496.2 1577,308.2 1884,198.7" clip-path="url(#insetclip)"/>
<line x1="1576.0" y1="315.6" x2="1576.0" y2="590" stroke-dasharray="28 23" stroke-width="7"/>
</g>
<polygon points="1563.8,586 1588.6,586 1576.3,607.5" fill="#1068cc"/>
<g font-family="'Liberation Sans', sans-serif" fill="#000000">
<text x="1186.58" y="88.30" font-size="40.00" textLength="79.11" lengthAdjust="spacingAndGlyphs">0.26</text>
<text x="1186.58" y="265.27" font-size="40.00" textLength="79.11" lengthAdjust="spacingAndGlyphs">0.22</text>
<text x="1186.58" y="442.24" font-size="40.00" textLength="79.11" lengthAdjust="spacingAndGlyphs">0.18</text>
<text x="1186.60" y="619.21" font-size="40.00" textLength="78.06" lengthAdjust="spacingAndGlyphs">0.14</text>
<text x="1297.88" y="674.30" font-size="40.00" textLength="22.81" lengthAdjust="spacingAndGlyphs">0</text>
<text x="1567.71" y="674.30" font-size="40.00" textLength="22.13" lengthAdjust="spacingAndGlyphs">2</text>
<text x="1836.48" y="674.30" font-size="40.00" textLength="22.70" lengthAdjust="spacingAndGlyphs">4</text>
</g>
<g font-family="'Liberation Sans', sans-serif" fill="#000000" stroke="#000000" stroke-width="1">
<text><tspan x="1425.30" y="732.20" font-size="41.40" textLength="59.92" lengthAdjust="spacingAndGlyphs">[Fe</tspan><tspan x="1487.35" y="717.10" font-size="26.50" textLength="31.62" lengthAdjust="spacingAndGlyphs">3+</tspan><tspan x="1521.50" y="732.20" font-size="41.40" textLength="193.56" lengthAdjust="spacingAndGlyphs">]/[Azo 4c]</tspan></text>
<g transform="translate(1149.9,0) rotate(-90)"><text x="-470.80" y="0.00" font-size="43.00" textLength="291.25" lengthAdjust="spacingAndGlyphs">Absorbance, au</text></g>
</g>
</svg>
</body>
</html>
